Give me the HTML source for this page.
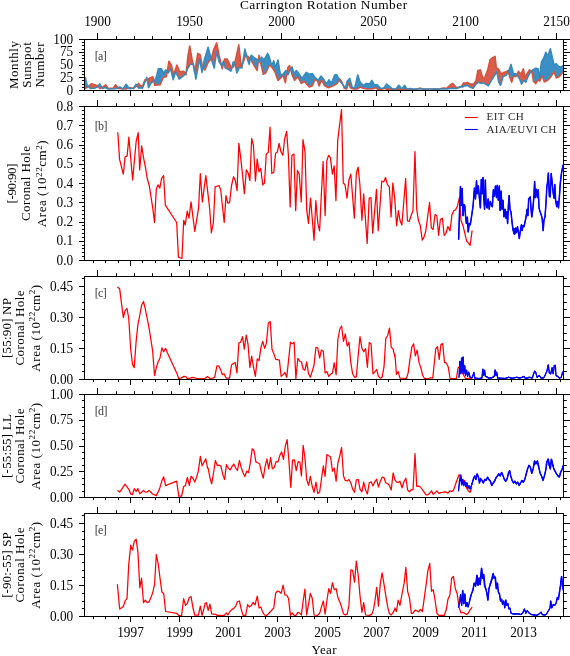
<!DOCTYPE html>
<html><head><meta charset="utf-8"><title>Coronal hole areas</title>
<style>html,body{margin:0;padding:0;background:#fff}svg{display:block;will-change:transform}text{font-family:"Liberation Serif",serif}</style>
</head><body>
<svg width="570" height="656" viewBox="0 0 570 656">
<rect width="570" height="656" fill="#fff"/>
<defs>
<clipPath id="cpa"><rect x="84.5" y="39.5" width="479.0" height="51.0"/></clipPath>
<clipPath id="cpb"><rect x="84.5" y="106.5" width="479.0" height="154.0"/></clipPath>
<clipPath id="cpc"><rect x="84.5" y="276.5" width="479.0" height="103.0"/></clipPath>
<clipPath id="cpd"><rect x="84.5" y="394.5" width="479.0" height="103.0"/></clipPath>
<clipPath id="cpe"><rect x="84.5" y="513.5" width="479.0" height="103.0"/></clipPath>
</defs>
<g clip-path="url(#cpa)">
<polygon points="88.50,86.4 88.75,86.1 89.00,85.9 89.25,85.7 89.50,85.5 89.75,85.2 90.00,85.0 90.25,84.8 90.50,84.6 90.75,84.3 91.00,84.1 91.25,83.9 91.50,83.8 91.75,83.9 92.00,84.0 92.25,84.1 92.50,84.2 92.75,84.2 93.00,84.3 93.25,84.4 93.50,84.5 93.75,84.6 94.00,84.7 94.25,84.8 94.50,84.8 94.75,84.9 95.00,84.9 95.25,85.0 95.50,85.0 95.75,85.1 96.00,85.1 96.25,85.2 96.50,85.2 96.75,85.3 97.00,85.3 97.25,85.5 97.50,85.8 97.75,86.1 98.00,86.4 98.00,86.5 97.75,86.8 97.50,87.0 97.25,87.1 97.00,87.2 96.75,87.4 96.50,87.5 96.25,87.6 96.00,87.7 95.75,87.8 95.50,87.9 95.25,88.0 95.00,88.1 94.75,88.2 94.50,88.3 94.25,88.3 94.00,88.3 93.75,88.4 93.50,88.4 93.25,88.4 93.00,88.4 92.75,88.4 92.50,88.4 92.25,88.4 92.00,88.4 91.75,88.5 91.50,88.5 91.25,88.5 91.00,88.5 90.75,88.5 90.50,88.5 90.25,88.5 90.00,88.2 89.75,88.0 89.50,87.7 89.25,87.5 89.00,87.2 88.75,87.0 88.50,86.7" fill="#db5c49"/>
<polygon points="102.00,87.5 102.25,87.3 102.50,87.2 102.75,87.0 103.00,86.8 103.25,86.6 103.50,86.4 103.75,86.2 104.00,86.1 104.25,85.9 104.50,85.7 104.75,85.5 105.00,85.3 105.25,85.1 105.50,84.9 105.75,85.1 106.00,85.4 106.25,85.8 106.50,86.1 106.75,86.5 107.00,86.8 107.25,87.2 107.50,87.5 107.75,87.9 108.00,88.2 108.25,88.5 108.50,88.5 108.75,88.5 109.00,88.4 109.25,88.4 109.50,88.4 109.75,88.4 110.00,88.3 110.25,88.3 110.50,88.3 110.75,88.3 111.00,88.2 111.25,88.2 111.50,88.2 111.75,88.2 112.00,88.1 112.25,88.1 112.50,88.1 112.75,88.1 113.00,88.0 113.25,88.0 113.50,88.0 113.75,87.6 114.00,87.2 114.25,86.8 114.50,86.5 114.75,86.1 115.00,85.7 115.25,85.3 115.50,85.0 115.75,85.1 116.00,85.4 116.25,85.8 116.50,86.1 116.75,86.5 117.00,86.8 117.25,87.2 117.50,87.5 117.50,87.9 117.25,88.0 117.00,88.1 116.75,88.2 116.50,88.3 116.25,88.5 116.00,88.6 115.75,88.7 115.50,88.7 115.25,88.7 115.00,88.8 114.75,88.8 114.50,88.8 114.25,88.8 114.00,88.8 113.75,88.8 113.50,88.8 113.25,88.8 113.00,88.8 112.75,88.8 112.50,88.8 112.25,88.9 112.00,88.9 111.75,88.9 111.50,88.9 111.25,88.9 111.00,88.9 110.75,88.9 110.50,88.9 110.25,88.9 110.00,88.9 109.75,88.9 109.50,89.0 109.25,89.0 109.00,89.0 108.75,89.0 108.50,89.0 108.25,89.0 108.00,88.9 107.75,88.8 107.50,88.7 107.25,88.5 107.00,88.4 106.75,88.3 106.50,88.2 106.25,88.1 106.00,87.9 105.75,87.8 105.50,87.7 105.25,87.6 105.00,87.5 104.75,87.6 104.50,87.7 104.25,87.8 104.00,87.9 103.75,88.0 103.50,88.1 103.25,88.2 103.00,88.3 102.75,88.4 102.50,88.5 102.25,88.2 102.00,87.8" fill="#db5c49"/>
<polygon points="122.75,88.8 123.00,88.8 123.00,88.9 122.75,88.9" fill="#db5c49"/>
<polygon points="128.75,87.7 129.00,87.6 129.25,87.5 129.50,87.5 129.75,87.6 130.00,87.7 130.25,87.7 130.50,87.8 130.75,87.8 131.00,87.9 131.25,88.0 131.50,88.0 131.75,88.1 132.00,88.2 132.25,88.2 132.50,88.3 132.75,88.3 132.75,88.4 132.50,88.4 132.25,88.4 132.00,88.5 131.75,88.5 131.50,88.5 131.25,88.5 131.00,88.6 130.75,88.6 130.50,88.6 130.25,88.6 130.00,88.7 129.75,88.7 129.50,88.7 129.25,88.7 129.00,88.4 128.75,88.0" fill="#db5c49"/>
<polygon points="137.00,85.4 137.25,85.1 137.50,84.8 137.75,84.5 138.00,84.2 138.25,83.9 138.50,83.6 138.75,83.3 139.00,83.7 139.25,84.1 139.50,84.5 139.75,84.9 140.00,85.3 140.25,85.4 140.50,85.5 140.75,85.7 141.00,85.8 141.25,85.9 141.50,86.0 141.75,86.2 142.00,86.3 142.25,86.4 142.50,86.4 142.75,85.7 143.00,85.0 143.25,84.3 143.50,83.6 143.75,82.9 144.00,82.3 144.25,81.6 144.50,80.9 144.75,80.2 145.00,79.8 145.25,79.8 145.50,79.8 145.75,79.8 145.75,80.0 145.50,80.6 145.25,81.3 145.00,82.0 144.75,82.6 144.50,83.2 144.25,83.9 144.00,84.5 143.75,85.1 143.50,85.7 143.25,86.4 143.00,87.0 142.75,87.6 142.50,88.2 142.25,88.3 142.00,88.2 141.75,88.2 141.50,88.1 141.25,88.0 141.00,88.0 140.75,87.9 140.50,87.9 140.25,87.8 140.00,87.7 139.75,87.9 139.50,88.0 139.25,88.1 139.00,88.2 138.75,88.3 138.50,88.0 138.25,87.6 138.00,87.2 137.75,86.8 137.50,86.4 137.25,86.1 137.00,85.7" fill="#db5c49"/>
<polygon points="147.25,79.5 147.50,79.3 147.75,79.2 148.00,79.0 148.25,78.9 148.50,78.7 148.75,78.6 149.00,78.4 149.25,78.3 149.50,78.1 149.75,78.0 150.00,77.8 150.25,77.7 150.50,77.6 150.75,77.5 151.00,77.4 151.25,77.3 151.50,77.2 151.75,77.1 152.00,77.0 152.25,76.9 152.50,76.8 152.75,76.7 153.00,77.2 153.25,78.3 153.50,79.5 153.75,80.7 153.75,81.3 153.50,81.6 153.25,81.7 153.00,81.8 152.75,82.0 152.50,82.1 152.25,82.2 152.00,82.3 151.75,82.5 151.50,82.6 151.25,82.7 151.00,82.9 150.75,83.4 150.50,83.9 150.25,84.4 150.00,84.9 149.75,85.4 149.50,85.9 149.25,86.4 149.00,86.9 148.75,87.4 148.50,87.2 148.25,85.8 148.00,84.4 147.75,82.9 147.50,81.5 147.25,80.1" fill="#db5c49"/>
<polygon points="167.25,71.4 167.50,69.8 167.75,68.3 168.00,66.7 168.25,65.1 168.50,63.6 168.75,62.0 169.00,61.5 169.25,61.9 169.50,62.3 169.75,62.7 170.00,63.0 170.25,63.4 170.50,63.8 170.75,64.2 171.00,64.5 171.25,64.9 171.50,65.8 171.75,66.8 172.00,67.8 172.25,68.8 172.50,69.8 172.75,70.8 173.00,71.8 173.25,72.8 173.50,73.8 173.75,74.8 174.00,74.1 174.25,73.3 174.50,72.5 174.75,71.7 175.00,70.9 175.25,70.1 175.50,69.3 175.75,68.5 176.00,67.7 176.25,66.9 176.50,66.1 176.75,65.3 177.00,65.4 177.25,65.9 177.50,66.5 177.75,67.0 178.00,67.6 178.25,68.1 178.50,68.7 178.75,69.2 179.00,69.8 179.25,70.3 179.50,70.9 179.75,71.4 180.00,71.8 180.25,71.7 180.50,71.7 180.75,71.6 181.00,71.6 181.25,71.5 181.50,71.5 181.75,71.5 182.00,71.4 182.25,71.4 182.50,71.3 182.75,71.3 183.00,71.3 183.25,71.2 183.50,71.2 183.75,71.4 184.00,71.8 184.25,72.1 184.50,72.5 184.75,72.9 185.00,73.3 185.25,73.6 185.25,73.8 185.00,74.1 184.75,74.3 184.50,74.6 184.25,74.8 184.00,75.1 183.75,75.3 183.50,75.6 183.25,75.8 183.00,76.1 182.75,76.3 182.50,76.5 182.25,76.7 182.00,76.9 181.75,77.1 181.50,77.3 181.25,77.5 181.00,77.7 180.75,77.9 180.50,78.1 180.25,78.3 180.00,78.6 179.75,78.8 179.50,79.0 179.25,79.0 179.00,78.5 178.75,78.0 178.50,77.5 178.25,77.0 178.00,76.5 177.75,76.0 177.50,75.5 177.25,75.0 177.00,74.5 176.75,74.0 176.50,73.5 176.25,73.0 176.00,72.5 175.75,72.0 175.50,72.1 175.25,73.0 175.00,73.8 174.75,74.6 174.50,75.4 174.25,76.2 174.00,77.0 173.75,77.8 173.50,78.6 173.25,79.5 173.00,79.0 172.75,77.9 172.50,76.8 172.25,75.7 172.00,74.5 171.75,73.4 171.50,72.3 171.25,71.2 171.00,70.0 170.75,68.9 170.50,69.1 170.25,69.5 170.00,69.9 169.75,70.4 169.50,70.8 169.25,71.2 169.00,71.7 168.75,72.1 168.50,72.6 168.25,73.0 168.00,72.7 167.75,72.4 167.50,72.1 167.25,71.8" fill="#db5c49"/>
<polygon points="186.50,70.4 186.75,67.9 187.00,65.4 187.25,62.9 187.50,60.4 187.75,57.9 188.00,55.8 188.25,54.4 188.50,53.0 188.75,51.6 189.00,50.2 189.25,48.7 189.50,47.3 189.75,46.1 190.00,47.5 190.25,48.9 190.50,50.4 190.75,51.8 191.00,53.3 191.25,54.7 191.50,56.1 191.75,57.6 192.00,59.0 192.25,60.4 192.50,61.6 192.75,62.9 192.75,63.9 192.50,64.0 192.25,64.0 192.00,64.1 191.75,64.1 191.50,64.2 191.25,64.2 191.00,64.3 190.75,64.3 190.50,64.4 190.25,64.6 190.00,64.9 189.75,65.3 189.50,65.7 189.25,66.1 189.00,66.4 188.75,66.8 188.50,67.2 188.25,67.6 188.00,67.9 187.75,68.4 187.50,69.0 187.25,69.5 187.00,70.1 186.75,70.7 186.50,71.2" fill="#db5c49"/>
<polygon points="194.75,71.8 195.00,70.2 195.25,68.7 195.50,67.1 195.75,65.6 196.00,64.0 196.25,62.5 196.50,60.9 196.75,59.4 197.00,57.8 197.25,56.3 197.50,54.7 197.75,53.4 198.00,53.5 198.25,53.6 198.50,53.7 198.75,53.9 199.00,54.0 199.25,54.1 199.50,54.2 199.75,54.4 200.00,54.5 200.25,55.0 200.50,56.3 200.75,57.6 201.00,58.9 201.25,60.2 201.50,61.5 201.75,62.9 202.00,64.2 202.25,65.5 202.50,66.8 202.75,67.6 202.75,68.4 202.50,69.7 202.25,71.1 202.00,72.3 201.75,70.9 201.50,69.5 201.25,68.2 201.00,66.8 200.75,65.4 200.50,64.0 200.25,62.7 200.00,61.3 199.75,59.9 199.50,59.2 199.25,60.6 199.00,62.0 198.75,63.3 198.50,64.7 198.25,66.1 198.00,67.5 197.75,68.8 197.50,70.2 197.25,71.6 197.00,73.0 196.75,74.3 196.50,75.7 196.25,77.1 196.00,78.5 195.75,78.4 195.50,76.8 195.25,75.2 195.00,73.7 194.75,72.1" fill="#db5c49"/>
<polygon points="211.25,58.5 211.50,57.5 211.75,56.6 212.00,55.7 212.25,54.7 212.50,53.8 212.75,52.8 213.00,51.9 213.25,51.0 213.50,50.0 213.75,49.3 214.00,48.8 214.25,48.2 214.50,47.7 214.75,47.1 215.00,46.6 215.25,46.0 215.50,45.5 215.75,44.9 216.00,44.4 216.25,43.8 216.50,43.3 216.75,43.3 217.00,44.6 217.25,45.8 217.50,47.1 217.75,48.3 218.00,49.6 218.25,50.8 218.50,52.1 218.75,53.3 219.00,54.6 219.25,55.8 219.50,56.9 219.75,58.0 220.00,59.1 220.25,60.2 220.50,61.3 220.75,62.4 221.00,63.5 221.25,64.6 221.25,65.1 221.00,64.8 220.75,64.4 220.50,64.0 220.25,63.6 220.00,63.3 219.75,62.9 219.50,62.5 219.25,62.1 219.00,61.4 218.75,60.4 218.50,59.3 218.25,58.2 218.00,57.2 217.75,56.1 217.50,55.1 217.25,54.0 217.00,52.9 216.75,51.9 216.50,52.6 216.25,54.3 216.00,56.0 215.75,57.7 215.50,59.4 215.25,61.1 215.00,62.8 214.75,64.4 214.50,66.1 214.25,67.8 214.00,67.4 213.75,66.6 213.50,65.8 213.25,65.0 213.00,64.3 212.75,63.5 212.50,62.7 212.25,61.9 212.00,61.1 211.75,60.3 211.50,59.5 211.25,58.7" fill="#db5c49"/>
<polygon points="223.75,62.5 224.00,61.5 224.25,60.5 224.50,59.5 224.75,58.9 225.00,58.9 225.25,58.9 225.50,58.9 225.75,58.9 226.00,58.9 226.25,58.9 226.50,58.9 226.75,58.9 227.00,58.9 227.25,59.2 227.50,59.7 227.75,60.2 228.00,60.7 228.25,61.2 228.50,61.7 228.75,62.2 229.00,62.7 229.25,63.2 229.50,63.7 229.75,64.3 230.00,65.0 230.25,65.6 230.50,66.3 230.75,67.0 231.00,67.6 231.25,68.3 231.25,69.4 231.00,70.4 230.75,71.1 230.50,70.9 230.25,70.8 230.00,70.6 229.75,70.4 229.50,70.2 229.25,70.0 229.00,69.8 228.75,69.6 228.50,69.4 228.25,69.3 228.00,69.2 227.75,69.1 227.50,69.0 227.25,68.9 227.00,68.8 226.75,68.7 226.50,68.6 226.25,68.5 226.00,68.4 225.75,68.3 225.50,68.2 225.25,68.0 225.00,67.1 224.75,66.2 224.50,65.3 224.25,64.4 224.00,63.5 223.75,62.5" fill="#db5c49"/>
<polygon points="234.75,62.7 235.00,61.7 235.25,60.7 235.50,59.7 235.75,58.7 236.00,57.5 236.25,56.4 236.50,55.2 236.75,54.1 237.00,52.9 237.25,51.8 237.50,50.6 237.75,49.5 238.00,48.3 238.25,47.2 238.50,46.0 238.75,44.9 239.00,46.8 239.25,48.9 239.50,51.1 239.75,53.3 240.00,55.5 240.25,57.7 240.50,59.9 240.75,62.1 241.00,64.3 241.25,66.2 241.50,65.7 241.75,65.2 242.00,64.7 242.25,64.2 242.50,63.7 242.50,64.0 242.25,65.6 242.00,67.1 241.75,68.1 241.50,68.0 241.25,67.9 241.00,67.9 240.75,67.8 240.50,67.8 240.25,67.7 240.00,67.6 239.75,67.6 239.50,67.5 239.25,67.8 239.00,68.3 238.75,68.9 238.50,69.5 238.25,70.0 238.00,70.6 237.75,71.2 237.50,71.7 237.25,72.3 237.00,72.8 236.75,72.1 236.50,70.9 236.25,69.6 236.00,68.4 235.75,67.1 235.50,65.9 235.25,64.6 235.00,63.7 234.75,63.5" fill="#db5c49"/>
<polygon points="246.75,55.8 247.00,55.9 247.25,56.1 247.50,56.2 247.75,56.3 248.00,56.4 248.25,56.7 248.50,56.9 248.75,57.2 249.00,57.4 249.25,57.7 249.50,57.9 249.75,58.2 250.00,58.4 250.25,58.7 250.25,59.2 250.00,60.5 249.75,61.7 249.50,63.0 249.25,64.2 249.00,63.8 248.75,63.0 248.50,62.3 248.25,61.5 248.00,60.8 247.75,60.0 247.50,59.3 247.25,58.4 247.00,57.4 246.75,56.4" fill="#db5c49"/>
<polygon points="258.50,59.6 258.75,57.6 259.00,55.5 259.25,56.2 259.50,57.4 259.75,58.5 260.00,59.7 260.00,61.0 259.75,61.7 259.50,61.8 259.25,61.5 259.00,61.3 258.75,61.0 258.50,60.8" fill="#db5c49"/>
<polygon points="287.00,72.5 287.25,71.0 287.50,69.4 287.75,67.8 288.00,67.3 288.25,67.0 288.50,66.8 288.75,66.5 289.00,66.3 289.25,66.0 289.50,65.8 289.75,66.0 290.00,66.9 290.25,67.9 290.50,68.8 290.50,69.5 290.25,70.0 290.00,70.5 289.75,71.0 289.50,71.5 289.25,72.0 289.00,72.5 288.75,73.0 288.50,73.5 288.25,74.0 288.00,74.5 287.75,74.7 287.50,74.1 287.25,73.5 287.00,73.0" fill="#db5c49"/>
<polygon points="339.00,79.3 339.25,78.7 339.50,78.8 339.75,79.1 340.00,79.4 340.25,79.7 340.50,80.0 340.75,80.3 341.00,80.7 341.25,81.0 341.50,81.3 341.75,81.6 342.00,82.3 342.25,83.0 342.50,83.6 342.75,84.3 342.75,84.6 342.50,84.2 342.25,83.9 342.00,83.6 341.75,83.3 341.50,83.0 341.25,82.7 341.00,82.4 340.75,82.1 340.50,81.8 340.25,81.5 340.00,81.2 339.75,80.9 339.50,80.6 339.25,80.3 339.00,79.7" fill="#db5c49"/>
<polygon points="417.25,88.9 417.50,88.9 417.75,88.8 418.00,88.7 418.25,88.7 418.50,88.6 418.75,88.5 419.00,88.5 419.25,88.4 419.50,88.3 419.75,88.2 420.00,88.2 420.25,88.1 420.50,88.2 420.75,88.3 421.00,88.4 421.25,88.5 421.50,88.6 421.75,88.7 422.00,88.8 422.25,88.9 422.50,89.0 422.50,89.0 422.25,89.0 422.00,89.0 421.75,89.0 421.50,89.0 421.25,89.0 421.00,89.0 420.75,89.0 420.50,89.0 420.25,89.0 420.00,89.0 419.75,89.0 419.50,89.0 419.25,89.0 419.00,89.0 418.75,89.0 418.50,89.0 418.25,89.0 418.00,89.0 417.75,89.0 417.50,89.0 417.25,89.0" fill="#db5c49"/>
<polygon points="440.25,89.0 440.50,88.9 440.75,88.8 441.00,88.7 441.25,88.7 441.50,88.6 441.75,88.5 442.00,88.4 442.25,88.3 442.50,88.3 442.75,88.2 443.00,88.1 443.25,88.1 443.50,88.1 443.75,88.2 444.00,88.2 444.25,88.2 444.50,88.2 444.75,88.2 445.00,88.2 445.25,88.3 445.50,88.3 445.75,88.3 446.00,88.3 446.25,88.3 446.50,88.3 446.75,88.3 447.00,88.0 447.25,87.8 447.50,87.5 447.75,87.3 448.00,87.0 448.25,86.8 448.50,86.5 448.75,86.3 449.00,86.0 449.25,85.8 449.50,85.5 449.75,85.3 450.00,85.0 450.25,84.8 450.50,84.6 450.75,84.5 451.00,84.3 451.25,84.2 451.50,84.1 451.75,84.0 452.00,83.8 452.25,83.7 452.50,83.6 452.75,83.5 453.00,83.7 453.25,84.0 453.50,84.3 453.75,84.6 454.00,84.9 454.25,85.2 454.50,85.5 454.75,85.8 455.00,86.1 455.25,86.4 455.50,86.7 455.75,87.0 456.00,87.1 456.25,87.2 456.50,87.2 456.75,87.3 457.00,87.3 457.25,87.4 457.50,87.4 457.75,87.5 458.00,87.5 458.25,87.6 458.25,87.6 458.00,87.7 457.75,87.9 457.50,88.0 457.25,88.2 457.00,88.3 456.75,88.4 456.50,88.6 456.25,88.6 456.00,88.6 455.75,88.6 455.50,88.5 455.25,88.5 455.00,88.5 454.75,88.5 454.50,88.5 454.25,88.5 454.00,88.5 453.75,88.5 453.50,88.4 453.25,88.4 453.00,88.4 452.75,88.4 452.50,88.4 452.25,88.4 452.00,88.4 451.75,88.4 451.50,88.4 451.25,88.4 451.00,88.4 450.75,88.5 450.50,88.5 450.25,88.5 450.00,88.6 449.75,88.6 449.50,88.6 449.25,88.7 449.00,88.7 448.75,88.7 448.50,88.8 448.25,88.8 448.00,88.8 447.75,88.9 447.50,88.9 447.25,88.9 447.00,89.0 446.75,89.0 446.50,89.0 446.25,89.0 446.00,89.0 445.75,89.0 445.50,89.0 445.25,89.0 445.00,89.0 444.75,89.0 444.50,89.0 444.25,89.0 444.00,89.0 443.75,89.0 443.50,89.0 443.25,89.0 443.00,89.0 442.75,89.0 442.50,89.0 442.25,89.0 442.00,89.0 441.75,89.0 441.50,89.0 441.25,89.0 441.00,89.0 440.75,89.0 440.50,89.0 440.25,89.0" fill="#db5c49"/>
<polygon points="461.00,86.7 461.25,86.6 461.50,86.4 461.75,86.0 462.00,85.6 462.25,85.2 462.50,84.9 462.75,84.5 463.00,84.1 463.25,83.7 463.50,83.4 463.75,83.0 464.00,82.9 464.25,83.0 464.50,83.2 464.75,83.3 465.00,83.4 465.25,83.3 465.50,83.2 465.75,83.1 466.00,83.0 466.25,82.9 466.50,82.8 466.75,82.7 467.00,82.6 467.25,82.5 467.50,82.5 467.75,82.6 468.00,82.8 468.25,83.0 468.50,83.1 468.75,83.3 469.00,83.5 469.25,83.6 469.50,83.8 469.75,83.9 470.00,84.1 470.25,84.1 470.50,84.1 470.75,84.1 471.00,84.1 471.25,84.1 471.50,84.1 471.75,84.1 472.00,84.1 472.25,84.1 472.50,84.1 472.75,84.1 473.00,84.1 473.25,84.1 473.50,84.1 473.75,83.8 474.00,83.4 474.25,83.1 474.50,82.7 474.75,82.3 475.00,81.9 475.25,81.6 475.50,81.2 475.75,80.8 476.00,80.4 476.25,79.3 476.50,78.0 476.75,76.6 477.00,75.3 477.25,74.0 477.50,72.6 477.75,71.3 478.00,70.5 478.25,70.5 478.50,70.4 478.75,70.3 479.00,70.3 479.25,70.2 479.50,70.1 479.75,70.1 480.00,70.0 480.25,70.0 480.50,70.4 480.75,71.2 481.00,72.0 481.25,72.9 481.50,73.7 481.75,74.5 482.00,75.3 482.25,76.1 482.50,76.9 482.75,77.7 483.00,77.9 483.25,77.9 483.50,77.9 483.75,77.9 484.00,77.9 484.25,77.9 484.50,77.9 484.75,77.6 485.00,77.0 485.25,76.3 485.50,75.7 485.75,75.0 486.00,74.4 486.25,73.7 486.50,73.1 486.75,72.4 487.00,71.8 487.25,71.1 487.50,70.5 487.75,69.8 488.00,68.7 488.25,67.7 488.50,66.6 488.75,65.5 489.00,64.5 489.25,63.4 489.50,62.4 489.75,61.3 490.00,60.2 490.25,59.4 490.50,59.2 490.75,59.1 491.00,58.9 491.25,58.7 491.50,58.5 491.75,58.3 492.00,58.1 492.25,57.9 492.50,57.7 492.75,57.6 493.00,57.5 493.25,57.3 493.50,57.2 493.75,57.1 494.00,57.0 494.25,56.8 494.50,56.7 494.75,56.6 495.00,56.5 495.25,58.0 495.50,60.3 495.75,62.7 496.00,65.1 496.25,67.5 496.50,68.1 496.75,68.2 497.00,68.3 497.25,68.4 497.50,68.5 497.75,68.6 498.00,68.6 498.25,68.9 498.50,69.3 498.75,69.7 499.00,70.1 499.25,70.5 499.50,70.9 499.75,71.4 500.00,71.8 500.25,72.1 500.50,72.4 500.75,72.8 501.00,73.1 501.25,73.4 501.50,73.8 501.75,74.1 502.00,74.1 502.25,73.8 502.50,73.6 502.75,73.3 503.00,73.1 503.25,72.8 503.50,72.6 503.75,72.4 504.00,72.3 504.25,72.2 504.50,72.2 504.75,72.1 505.00,72.1 505.25,72.0 505.50,71.9 505.75,71.9 506.00,71.8 506.25,71.7 506.50,71.5 506.75,71.4 507.00,71.2 507.25,71.0 507.50,70.9 507.75,70.7 508.00,70.6 508.00,72.0 507.75,72.6 507.50,73.2 507.25,73.7 507.00,74.3 506.75,74.8 506.50,75.0 506.25,75.1 506.00,75.2 505.75,75.3 505.50,75.5 505.25,75.6 505.00,75.7 504.75,75.8 504.50,76.0 504.25,76.1 504.00,76.2 503.75,76.3 503.50,76.5 503.25,76.6 503.00,76.9 502.75,77.8 502.50,78.7 502.25,79.6 502.00,80.4 501.75,81.3 501.50,82.2 501.25,83.1 501.00,83.9 500.75,84.8 500.50,85.1 500.25,84.7 500.00,84.3 499.75,83.8 499.50,83.4 499.25,83.0 499.00,82.6 498.75,82.1 498.50,80.7 498.25,79.3 498.00,77.8 497.75,76.4 497.50,75.0 497.25,73.6 497.00,72.2 496.75,72.0 496.50,72.4 496.25,72.8 496.00,73.2 495.75,73.5 495.50,73.9 495.25,74.3 495.00,74.7 494.75,75.0 494.50,75.4 494.25,75.8 494.00,76.2 493.75,76.6 493.50,77.0 493.25,77.4 493.00,77.8 492.75,78.2 492.50,78.6 492.25,79.0 492.00,79.4 491.75,79.8 491.50,80.2 491.25,80.6 491.00,81.1 490.75,81.5 490.50,82.0 490.25,82.4 490.00,82.9 489.75,83.3 489.50,83.8 489.25,84.2 489.00,84.7 488.75,85.1 488.50,85.6 488.25,85.8 488.00,85.7 487.75,85.5 487.50,85.4 487.25,85.2 487.00,85.1 486.75,84.9 486.50,84.7 486.25,84.6 486.00,84.4 485.75,84.3 485.50,84.1 485.25,84.0 485.00,83.8 484.75,83.7 484.50,83.5 484.25,83.3 484.00,83.2 483.75,83.0 483.50,82.9 483.25,82.9 483.00,82.9 482.75,83.0 482.50,83.1 482.25,83.1 482.00,83.2 481.75,83.2 481.50,83.3 481.25,83.4 481.00,83.4 480.75,83.3 480.50,83.2 480.25,83.1 480.00,83.0 479.75,82.8 479.50,82.7 479.25,82.6 479.00,82.5 478.75,82.3 478.50,82.2 478.25,82.4 478.00,82.6 477.75,82.8 477.50,83.0 477.25,83.2 477.00,83.3 476.75,83.5 476.50,83.7 476.25,83.9 476.00,84.1 475.75,84.5 475.50,84.8 475.25,85.2 475.00,85.5 474.75,85.9 474.50,86.2 474.25,86.6 474.00,86.9 473.75,87.3 473.50,87.6 473.25,88.0 473.00,88.3 472.75,88.3 472.50,88.2 472.25,88.1 472.00,88.0 471.75,87.9 471.50,87.8 471.25,87.7 471.00,87.6 470.75,87.5 470.50,87.4 470.25,87.3 470.00,87.2 469.75,87.0 469.50,86.8 469.25,86.6 469.00,86.4 468.75,86.3 468.50,86.1 468.25,85.9 468.00,85.7 467.75,85.5 467.50,85.3 467.25,85.3 467.00,85.4 466.75,85.5 466.50,85.5 466.25,85.6 466.00,85.6 465.75,85.7 465.50,85.8 465.25,85.8 465.00,85.9 464.75,85.6 464.50,85.3 464.25,85.5 464.00,85.8 463.75,86.0 463.50,86.3 463.25,86.5 463.00,86.8 462.75,87.0 462.50,87.1 462.25,87.0 462.00,87.0 461.75,86.9 461.50,86.8 461.25,86.8 461.00,86.7" fill="#db5c49"/>
<polygon points="516.75,74.9 517.00,74.4 517.25,73.8 517.50,73.2 517.75,72.7 518.00,72.1 518.25,71.5 518.50,71.3 518.75,71.6 519.00,71.9 519.25,72.2 519.50,72.5 519.75,72.8 520.00,73.1 520.25,73.4 520.50,73.8 520.75,74.1 521.00,73.9 521.25,73.4 521.50,72.8 521.75,72.3 522.00,71.7 522.25,71.1 522.50,70.6 522.75,70.0 523.00,69.4 523.25,68.9 523.50,69.5 523.75,70.8 524.00,72.0 524.25,73.3 524.50,74.5 524.75,75.8 525.00,77.0 525.25,77.7 525.50,77.2 525.75,76.6 526.00,76.0 526.25,75.4 526.50,74.8 526.75,74.2 527.00,73.7 527.25,73.3 527.50,72.9 527.75,72.5 528.00,72.1 528.25,71.8 528.50,71.4 528.75,71.0 529.00,70.6 529.25,70.3 529.50,69.9 529.75,70.1 530.00,70.3 530.25,70.5 530.50,70.7 530.75,70.9 531.00,71.1 531.25,71.3 531.25,71.5 531.00,71.8 530.75,72.2 530.50,72.5 530.25,72.9 530.00,73.2 529.75,73.6 529.50,73.9 529.25,74.3 529.00,74.6 528.75,75.1 528.50,75.7 528.25,76.3 528.00,76.9 527.75,77.5 527.50,78.1 527.25,78.7 527.00,79.3 526.75,79.9 526.50,80.5 526.25,81.1 526.00,81.7 525.75,82.2 525.50,81.9 525.25,81.7 525.00,81.4 524.75,81.2 524.50,80.9 524.25,80.7 524.00,80.4 523.75,80.7 523.50,81.0 523.25,81.4 523.00,81.8 522.75,82.2 522.50,82.5 522.25,82.9 522.00,83.3 521.75,83.7 521.50,84.0 521.25,83.4 521.00,82.7 520.75,82.1 520.50,81.4 520.25,80.7 520.00,80.1 519.75,79.4 519.50,78.9 519.25,78.5 519.00,78.1 518.75,77.6 518.50,77.2 518.25,76.8 518.00,76.4 517.75,76.0 517.50,75.8 517.25,75.5 517.00,75.3 516.75,75.0" fill="#db5c49"/>
<polygon points="84.50,77.5 84.75,77.5 85.00,77.5 85.25,77.5 85.50,78.5 85.75,79.5 86.00,80.5 86.25,81.6 86.50,82.6 86.75,83.7 87.00,84.7 87.25,85.5 87.50,85.7 87.75,86.0 88.00,86.2 88.25,86.5 88.25,86.6 88.00,86.8 87.75,86.9 87.50,87.1 87.25,87.2 87.00,87.4 86.75,87.6 86.50,87.7 86.25,87.9 86.00,88.1 85.75,88.2 85.50,88.4 85.25,88.5 85.00,88.6 84.75,88.7 84.50,88.7" fill="#3c8fc4"/>
<polygon points="98.25,86.1 98.50,85.7 98.75,85.3 99.00,85.0 99.25,84.6 99.50,84.2 99.75,83.8 100.00,84.2 100.25,84.6 100.50,85.1 100.75,85.5 101.00,86.0 101.25,86.4 101.50,86.9 101.75,87.3 101.75,87.6 101.50,87.7 101.25,87.8 101.00,87.9 100.75,88.1 100.50,88.2 100.25,88.3 100.00,88.4 99.75,88.5 99.50,88.2 99.25,87.9 99.00,87.6 98.75,87.3 98.50,87.0 98.25,86.7" fill="#3c8fc4"/>
<polygon points="117.75,87.8 118.00,87.7 118.25,87.6 118.50,87.5 118.75,87.4 119.00,87.3 119.25,87.2 119.50,87.1 119.75,87.0 120.00,87.1 120.25,87.2 120.50,87.4 120.75,87.6 121.00,87.7 121.25,87.9 121.50,88.1 121.75,88.2 122.00,88.4 122.25,88.5 122.50,88.7 122.50,88.8 122.25,88.8 122.00,88.8 121.75,88.8 121.50,88.7 121.25,88.7 121.00,88.7 120.75,88.7 120.50,88.7 120.25,88.7 120.00,88.6 119.75,88.6 119.50,88.6 119.25,88.6 119.00,88.6 118.75,88.6 118.50,88.5 118.25,88.5 118.00,88.2 117.75,87.9" fill="#3c8fc4"/>
<polygon points="123.25,88.6 123.50,88.2 123.75,87.8 124.00,87.4 124.25,87.1 124.50,86.7 124.75,86.3 125.00,86.0 125.25,85.6 125.50,85.2 125.75,84.8 126.00,84.5 126.25,84.5 126.50,84.9 126.75,85.2 127.00,85.6 127.25,85.9 127.50,86.3 127.75,86.6 128.00,87.0 128.25,87.3 128.50,87.7 128.50,87.9 128.25,88.0 128.00,88.1 127.75,88.2 127.50,88.4 127.25,88.5 127.00,88.6 126.75,88.7 126.50,88.9 126.25,89.0 126.00,89.0 125.75,89.0 125.50,89.0 125.25,89.0 125.00,89.0 124.75,89.0 124.50,88.9 124.25,88.9 124.00,88.9 123.75,88.9 123.50,88.9 123.25,88.9" fill="#3c8fc4"/>
<polygon points="133.00,88.4 133.25,88.3 133.50,88.3 133.75,87.9 134.00,87.5 134.25,87.1 134.50,86.8 134.75,86.4 135.00,86.0 135.25,85.6 135.50,85.2 135.75,84.9 136.00,84.5 136.25,84.5 136.50,84.9 136.75,85.3 136.75,85.7 136.50,86.0 136.25,86.2 136.00,86.4 135.75,86.6 135.50,86.8 135.25,87.0 135.00,87.3 134.75,87.5 134.50,87.7 134.25,87.9 134.00,88.1 133.75,88.3 133.50,88.5 133.25,88.5 133.00,88.4" fill="#3c8fc4"/>
<polygon points="146.00,79.3 146.25,78.6 146.50,78.0 146.75,77.3 147.00,78.7 147.00,79.6 146.75,79.8 146.50,79.8 146.25,79.8 146.00,79.8" fill="#3c8fc4"/>
<polygon points="154.00,81.0 154.25,80.7 154.50,80.4 154.75,80.0 155.00,79.7 155.25,79.4 155.50,79.1 155.75,78.8 156.00,78.4 156.25,77.4 156.50,76.4 156.75,75.4 157.00,74.4 157.25,73.4 157.50,72.4 157.75,71.4 158.00,70.4 158.25,69.4 158.50,68.7 158.75,68.7 159.00,68.7 159.25,68.7 159.50,68.7 159.75,68.7 160.00,68.7 160.25,68.7 160.50,68.7 160.75,68.7 161.00,68.7 161.25,68.7 161.50,68.7 161.75,69.3 162.00,69.9 162.25,70.5 162.50,71.1 162.75,71.6 163.00,72.2 163.25,72.8 163.50,72.8 163.75,72.5 164.00,72.2 164.25,71.9 164.50,71.5 164.75,71.2 165.00,70.9 165.25,70.6 165.50,70.3 165.75,70.0 166.00,70.2 166.25,70.5 166.50,70.8 166.75,71.1 167.00,71.4 167.00,73.0 166.75,74.5 166.50,76.1 166.25,76.7 166.00,76.8 165.75,76.8 165.50,76.9 165.25,76.9 165.00,77.0 164.75,77.0 164.50,77.1 164.25,77.1 164.00,77.2 163.75,77.2 163.50,77.3 163.25,77.5 163.00,78.1 162.75,78.7 162.50,79.3 162.25,79.9 162.00,80.5 161.75,81.1 161.50,81.7 161.25,82.3 161.00,82.9 160.75,83.5 160.50,84.1 160.25,84.7 160.00,84.7 159.75,84.7 159.50,84.8 159.25,84.8 159.00,84.8 158.75,84.8 158.50,84.9 158.25,84.9 158.00,84.9 157.75,84.9 157.50,85.0 157.25,85.0 157.00,85.0 156.75,85.1 156.50,85.1 156.25,85.1 156.00,85.1 155.75,85.2 155.50,85.2 155.25,85.2 155.00,85.3 154.75,85.3 154.50,84.2 154.25,83.0 154.00,81.8" fill="#3c8fc4"/>
<polygon points="185.50,73.5 185.75,72.9 186.00,72.3 186.25,71.8 186.25,72.9 186.00,74.8 185.75,74.4 185.50,74.0" fill="#3c8fc4"/>
<polygon points="193.00,63.9 193.25,63.8 193.50,64.3 193.75,65.9 194.00,67.4 194.25,69.0 194.50,70.5 194.50,71.6 194.25,70.4 194.00,69.1 193.75,67.9 193.50,66.6 193.25,65.4 193.00,64.1" fill="#3c8fc4"/>
<polygon points="203.00,67.0 203.25,65.6 203.50,64.2 203.75,62.9 204.00,61.5 204.25,60.1 204.50,58.8 204.75,58.2 205.00,57.6 205.25,56.8 205.50,55.9 205.75,55.1 206.00,54.2 206.25,53.4 206.50,52.5 206.75,51.7 207.00,50.8 207.25,50.0 207.50,49.1 207.75,48.3 208.00,47.4 208.25,47.9 208.50,48.8 208.75,49.8 209.00,50.7 209.25,51.6 209.50,52.6 209.75,53.5 210.00,54.4 210.25,55.4 210.50,56.3 210.75,57.1 211.00,57.9 211.00,59.0 210.75,59.3 210.50,59.6 210.25,59.9 210.00,60.2 209.75,60.5 209.50,60.8 209.25,61.1 209.00,61.4 208.75,61.7 208.50,62.0 208.25,62.3 208.00,62.7 207.75,63.3 207.50,63.9 207.25,64.5 207.00,65.1 206.75,65.7 206.50,66.3 206.25,66.9 206.00,67.5 205.75,68.1 205.50,68.7 205.25,69.3 205.00,69.9 204.75,69.9 204.50,69.9 204.25,69.6 204.00,69.3 203.75,69.0 203.50,68.6 203.25,68.3 203.00,68.0" fill="#3c8fc4"/>
<polygon points="221.50,65.5 221.75,65.2 222.00,64.6 222.25,64.1 222.50,63.5 222.75,62.9 223.00,62.3 223.25,61.7 223.50,61.6 223.50,63.5 223.25,64.5 223.00,65.5 222.75,66.5 222.50,67.5 222.25,68.5 222.00,67.9 221.75,66.8 221.50,65.7" fill="#3c8fc4"/>
<polygon points="231.50,68.5 231.75,67.6 232.00,66.6 232.25,65.7 232.50,64.7 232.75,63.8 233.00,62.9 233.25,62.0 233.50,62.2 233.75,62.5 234.00,62.7 234.25,63.0 234.50,63.2 234.50,63.7 234.25,64.7 234.00,65.7 233.75,66.4 233.50,66.6 233.25,66.9 233.00,67.1 232.75,67.4 232.50,67.6 232.25,67.9 232.00,68.1 231.75,68.4 231.50,68.6" fill="#3c8fc4"/>
<polygon points="242.75,62.5 243.00,60.9 243.25,59.4 243.50,57.8 243.75,56.3 244.00,54.7 244.25,53.2 244.50,51.6 244.75,50.1 245.00,49.4 245.25,50.4 245.50,51.4 245.75,52.4 246.00,53.4 246.25,54.4 246.50,55.4 246.50,55.7 246.25,55.6 246.00,55.4 245.75,55.3 245.50,55.3 245.25,56.1 245.00,56.9 244.75,57.8 244.50,58.6 244.25,59.4 244.00,60.3 243.75,61.1 243.50,61.7 243.25,62.2 243.00,62.7 242.75,63.2" fill="#3c8fc4"/>
<polygon points="250.50,58.0 250.75,56.7 251.00,55.5 251.25,55.4 251.50,55.6 251.75,55.8 252.00,56.0 252.25,56.2 252.50,56.4 252.75,56.6 253.00,56.8 253.25,57.0 253.50,57.2 253.75,57.4 254.00,57.6 254.25,57.7 254.50,57.9 254.75,58.0 255.00,58.2 255.25,58.3 255.50,58.5 255.75,58.6 256.00,58.8 256.25,58.9 256.50,59.1 256.75,59.2 257.00,59.4 257.25,59.5 257.50,59.8 257.75,60.0 258.00,60.3 258.25,60.5 258.25,61.7 258.00,63.8 257.75,65.9 257.50,68.0 257.25,70.1 257.00,70.2 256.75,69.8 256.50,69.4 256.25,69.0 256.00,68.6 255.75,68.2 255.50,67.8 255.25,67.4 255.00,67.0 254.75,66.6 254.50,66.2 254.25,65.8 254.00,65.4 253.75,64.9 253.50,64.5 253.25,64.0 253.00,63.6 252.75,63.1 252.50,62.7 252.25,62.2 252.00,61.7 251.75,61.3 251.50,60.8 251.25,60.4 251.00,59.9 250.75,59.4 250.50,59.0" fill="#3c8fc4"/>
<polygon points="260.25,60.3 260.50,59.7 260.75,59.0 261.00,58.3 261.25,57.7 261.50,57.0 261.75,57.4 262.00,57.7 262.25,58.0 262.50,58.3 262.75,58.6 263.00,58.9 263.25,59.2 263.50,59.5 263.75,59.9 264.00,60.0 264.25,59.5 264.50,59.1 264.75,58.6 265.00,58.2 265.25,57.7 265.50,57.3 265.75,56.8 266.00,56.3 266.25,55.9 266.50,55.4 266.75,55.0 267.00,54.5 267.25,54.0 267.50,53.6 267.75,53.6 268.00,54.2 268.25,54.8 268.50,55.4 268.75,56.0 269.00,56.5 269.25,57.1 269.50,57.7 269.75,58.6 270.00,59.5 270.25,60.4 270.50,61.3 270.75,62.2 271.00,63.2 271.25,64.1 271.50,65.0 271.75,65.9 272.00,65.8 272.25,65.0 272.50,64.3 272.75,63.5 273.00,62.8 273.25,62.0 273.50,61.3 273.75,61.0 274.00,61.9 274.25,62.8 274.50,63.7 274.75,64.6 275.00,65.5 275.25,66.5 275.50,67.4 275.75,66.8 276.00,66.1 276.25,65.3 276.50,64.6 276.75,63.8 277.00,63.1 277.25,62.3 277.50,61.6 277.75,60.8 278.00,60.2 278.25,61.7 278.50,63.2 278.75,64.7 279.00,66.2 279.25,67.7 279.50,69.2 279.75,70.7 280.00,72.2 280.25,73.7 280.50,74.8 280.75,74.8 281.00,74.7 281.25,74.6 281.50,74.6 281.75,74.5 282.00,74.5 282.25,74.4 282.50,74.3 282.75,74.3 283.00,74.1 283.25,73.8 283.50,73.5 283.75,73.2 284.00,72.9 284.25,72.6 284.50,72.3 284.75,72.0 285.00,71.7 285.25,71.4 285.50,71.1 285.75,70.8 286.00,70.6 286.25,71.2 286.50,71.8 286.75,72.4 286.75,74.1 286.50,75.6 286.25,77.2 286.00,78.8 285.75,80.3 285.50,81.9 285.25,82.5 285.00,81.7 284.75,80.9 284.50,80.1 284.25,79.2 284.00,78.4 283.75,77.6 283.50,76.8 283.25,76.0 283.00,75.2 282.75,75.1 282.50,75.4 282.25,75.8 282.00,76.2 281.75,76.6 281.50,76.9 281.25,77.3 281.00,77.7 280.75,78.1 280.50,78.4 280.25,78.7 280.00,78.9 279.75,79.0 279.50,79.2 279.25,79.4 279.00,79.6 278.75,79.8 278.50,80.0 278.25,80.2 278.00,80.4 277.75,79.7 277.50,79.0 277.25,78.3 277.00,77.6 276.75,76.9 276.50,76.2 276.25,75.5 276.00,74.8 275.75,74.1 275.50,73.4 275.25,72.7 275.00,72.0 274.75,71.5 274.50,71.2 274.25,70.8 274.00,70.4 273.75,70.0 273.50,69.7 273.25,69.3 273.00,68.9 272.75,68.5 272.50,68.2 272.25,67.8 272.00,67.5 271.75,67.2 271.50,66.9 271.25,66.6 271.00,66.3 270.75,66.0 270.50,65.6 270.25,65.3 270.00,65.0 269.75,65.3 269.50,65.6 269.25,65.8 269.00,66.1 268.75,66.5 268.50,67.0 268.25,67.6 268.00,68.1 267.75,68.7 267.50,69.2 267.25,69.8 267.00,70.3 266.75,70.9 266.50,71.4 266.25,72.0 266.00,72.5 265.75,73.0 265.50,73.1 265.25,73.3 265.00,73.4 264.75,73.5 264.50,73.6 264.25,73.8 264.00,73.9 263.75,74.0 263.50,74.1 263.25,73.9 263.00,72.8 262.75,71.8 262.50,70.7 262.25,69.6 262.00,68.6 261.75,67.5 261.50,66.4 261.25,65.4 261.00,64.3 260.75,63.2 260.50,62.0 260.25,60.9" fill="#3c8fc4"/>
<polygon points="290.75,69.1 291.00,68.7 291.25,68.3 291.50,67.9 291.75,67.5 292.00,67.0 292.25,67.4 292.50,68.3 292.75,69.2 293.00,70.1 293.25,71.1 293.50,72.0 293.75,72.9 294.00,73.5 294.25,73.2 294.50,72.9 294.75,72.6 295.00,72.3 295.25,72.0 295.50,71.7 295.75,71.4 296.00,71.0 296.25,70.7 296.50,70.7 296.75,71.0 297.00,71.3 297.25,71.6 297.50,71.9 297.75,72.2 298.00,72.5 298.25,72.9 298.50,73.2 298.75,73.5 299.00,73.8 299.25,74.2 299.50,74.6 299.75,75.0 300.00,75.4 300.25,75.8 300.50,76.2 300.75,76.6 301.00,77.0 301.25,77.4 301.50,77.8 301.75,78.2 302.00,78.4 302.25,78.1 302.50,77.7 302.75,77.4 303.00,77.0 303.25,76.6 303.50,76.3 303.75,75.9 304.00,75.6 304.25,75.2 304.50,74.9 304.75,74.5 305.00,74.1 305.25,73.8 305.50,73.4 305.75,73.1 306.00,72.7 306.25,72.4 306.50,72.5 306.75,72.7 307.00,72.8 307.25,73.0 307.50,73.1 307.75,73.3 308.00,73.4 308.25,73.6 308.50,73.7 308.75,73.9 309.00,74.0 309.25,74.2 309.50,74.2 309.75,74.1 310.00,74.1 310.25,74.0 310.50,74.0 310.75,73.9 311.00,73.9 311.25,73.8 311.50,73.8 311.75,73.7 312.00,73.7 312.25,73.6 312.50,73.8 312.75,74.2 313.00,74.6 313.25,74.9 313.50,75.3 313.75,75.7 314.00,76.1 314.25,76.4 314.50,76.8 314.75,77.2 315.00,77.5 315.25,77.7 315.50,78.0 315.75,78.2 316.00,78.5 316.25,78.7 316.50,79.0 316.75,79.2 317.00,79.5 317.25,79.7 317.50,80.0 317.75,80.2 318.00,80.2 318.25,79.9 318.50,79.5 318.75,79.2 319.00,78.8 319.25,78.5 319.50,78.1 319.75,77.8 320.00,77.4 320.25,77.1 320.50,76.7 320.75,76.4 321.00,76.1 321.25,76.4 321.50,76.7 321.75,77.0 322.00,77.3 322.25,77.6 322.50,77.9 322.75,78.2 323.00,78.5 323.25,78.8 323.50,79.1 323.75,79.4 324.00,79.7 324.25,80.1 324.50,80.6 324.75,81.0 325.00,81.4 325.25,81.9 325.50,82.3 325.75,82.8 326.00,83.2 326.25,83.6 326.50,84.0 326.75,83.6 327.00,83.2 327.25,82.7 327.50,82.3 327.75,81.8 328.00,81.4 328.25,81.0 328.50,80.5 328.75,80.1 329.00,79.8 329.25,80.2 329.50,80.6 329.75,81.0 330.00,81.3 330.25,81.7 330.50,82.1 330.75,82.5 331.00,82.8 331.25,83.2 331.50,83.2 331.75,82.5 332.00,81.9 332.25,81.2 332.50,80.6 332.75,79.9 333.00,79.3 333.25,78.6 333.50,78.0 333.75,77.3 334.00,76.7 334.25,76.0 334.50,75.4 334.75,75.1 335.00,74.8 335.25,74.8 335.50,74.8 335.75,74.8 336.00,74.8 336.25,74.8 336.50,74.8 336.75,74.8 337.00,75.2 337.25,75.8 337.50,76.3 337.75,76.9 338.00,77.4 338.25,78.0 338.50,78.6 338.75,79.1 338.75,80.0 338.50,80.7 338.25,81.3 338.00,82.0 337.75,82.7 337.50,83.3 337.25,83.5 337.00,83.7 336.75,83.8 336.50,83.9 336.25,84.0 336.00,84.2 335.75,84.3 335.50,84.4 335.25,84.5 335.00,84.7 334.75,85.0 334.50,85.2 334.25,85.4 334.00,85.5 333.75,85.6 333.50,85.7 333.25,85.8 333.00,85.9 332.75,86.0 332.50,86.1 332.25,86.2 332.00,86.3 331.75,86.4 331.50,86.5 331.25,86.6 331.00,86.7 330.75,86.8 330.50,86.9 330.25,87.0 330.00,87.1 329.75,87.2 329.50,87.3 329.25,87.4 329.00,87.5 328.75,87.6 328.50,87.7 328.25,87.7 328.00,87.6 327.75,87.4 327.50,87.3 327.25,87.2 327.00,87.1 326.75,86.9 326.50,86.8 326.25,86.7 326.00,86.6 325.75,86.4 325.50,86.3 325.25,86.2 325.00,86.1 324.75,85.9 324.50,85.6 324.25,85.1 324.00,84.6 323.75,84.1 323.50,83.6 323.25,83.1 323.00,82.6 322.75,82.1 322.50,81.6 322.25,81.1 322.00,80.6 321.75,80.1 321.50,79.9 321.25,80.6 321.00,81.2 320.75,81.8 320.50,82.4 320.25,83.1 320.00,83.7 319.75,84.3 319.50,84.9 319.25,85.6 319.00,85.5 318.75,84.8 318.50,84.0 318.25,83.3 318.00,82.5 317.75,81.8 317.50,81.0 317.25,80.4 317.00,80.3 316.75,80.2 316.50,80.2 316.25,80.1 316.00,80.0 315.75,80.0 315.50,79.9 315.25,79.9 315.00,79.8 314.75,79.9 314.50,80.6 314.25,81.2 314.00,81.8 313.75,82.4 313.50,83.1 313.25,83.7 313.00,84.3 312.75,84.9 312.50,85.6 312.25,85.9 312.00,86.0 311.75,86.1 311.50,86.2 311.25,86.3 311.00,86.4 310.75,86.5 310.50,86.6 310.25,86.7 310.00,86.8 309.75,86.9 309.50,87.0 309.25,87.1 309.00,86.8 308.75,86.5 308.50,86.2 308.25,85.9 308.00,85.7 307.75,85.4 307.50,85.1 307.25,84.8 307.00,84.5 306.75,84.3 306.50,84.0 306.25,83.7 306.00,83.4 305.75,83.1 305.50,82.8 305.25,82.6 305.00,82.3 304.75,82.0 304.50,81.7 304.25,81.7 304.00,81.8 303.75,82.0 303.50,82.1 303.25,82.3 303.00,82.4 302.75,82.6 302.50,82.7 302.25,82.9 302.00,83.0 301.75,83.2 301.50,83.3 301.25,83.3 301.00,82.9 300.75,82.4 300.50,81.9 300.25,81.5 300.00,81.0 299.75,80.6 299.50,80.1 299.25,79.7 299.00,79.2 298.75,78.7 298.50,78.3 298.25,77.8 298.00,77.4 297.75,76.9 297.50,76.8 297.25,77.1 297.00,77.4 296.75,77.7 296.50,78.0 296.25,78.3 296.00,78.6 295.75,78.9 295.50,79.2 295.25,79.5 295.00,79.8 294.75,80.1 294.50,80.2 294.25,79.7 294.00,79.1 293.75,78.5 293.50,78.0 293.25,77.4 293.00,76.9 292.75,76.3 292.50,75.7 292.25,75.2 292.00,74.4 291.75,73.5 291.50,72.6 291.25,71.6 291.00,70.7 290.75,69.8" fill="#3c8fc4"/>
<polygon points="343.00,84.9 343.25,85.3 343.50,85.6 343.75,86.0 344.00,86.3 344.25,86.7 344.50,87.0 344.75,87.4 345.00,87.7 345.25,88.1 345.50,88.1 345.75,87.1 346.00,86.1 346.25,85.1 346.50,84.1 346.75,83.1 347.00,82.1 347.25,81.1 347.50,80.8 347.75,80.5 348.00,80.3 348.25,80.0 348.50,79.8 348.75,79.5 349.00,79.3 349.25,79.0 349.50,78.8 349.75,78.6 350.00,79.4 350.25,80.3 350.50,81.2 350.75,82.1 351.00,82.9 351.25,83.8 351.50,84.7 351.75,85.6 352.00,86.4 352.25,87.2 352.50,87.3 352.75,87.4 353.00,87.5 353.25,87.7 353.50,87.8 353.75,87.9 354.00,88.0 354.25,88.2 354.50,88.3 354.75,87.9 355.00,86.8 355.25,85.7 355.50,84.6 355.75,83.5 356.00,82.4 356.25,81.3 356.50,80.2 356.75,79.1 357.00,78.0 357.25,76.9 357.50,75.8 357.75,74.9 358.00,75.7 358.25,76.4 358.50,77.2 358.75,77.9 359.00,78.7 359.25,79.4 359.50,80.2 359.75,80.9 360.00,81.7 360.25,82.3 360.50,82.5 360.75,82.8 361.00,83.0 361.25,83.3 361.50,83.5 361.75,83.8 362.00,84.0 362.25,84.3 362.50,84.5 362.75,84.8 363.00,85.0 363.25,85.3 363.50,85.1 363.75,85.0 364.00,84.8 364.25,84.7 364.50,84.5 364.75,84.4 365.00,84.2 365.25,84.1 365.50,83.9 365.75,83.8 366.00,83.6 366.25,83.5 366.50,83.5 366.75,83.5 367.00,83.6 367.25,83.6 367.50,83.7 367.75,83.7 368.00,83.8 368.25,83.8 368.50,83.9 368.75,83.9 369.00,84.0 369.25,84.0 369.50,83.9 369.75,83.5 370.00,83.1 370.25,82.8 370.50,82.4 370.75,82.0 371.00,81.6 371.25,81.3 371.50,80.9 371.75,80.5 372.00,80.6 372.25,81.1 372.50,81.5 372.75,82.0 373.00,82.4 373.25,82.8 373.50,83.3 373.75,83.7 374.00,84.1 374.25,84.6 374.50,84.7 374.75,84.7 375.00,84.7 375.25,84.7 375.50,84.7 375.75,84.7 376.00,84.7 376.25,84.7 376.50,84.7 376.75,84.7 377.00,84.7 377.25,84.7 377.50,84.8 377.75,85.1 378.00,85.4 378.25,85.7 378.50,86.0 378.75,86.3 379.00,86.6 379.25,86.9 379.50,87.2 379.75,87.5 380.00,87.8 380.25,88.1 380.50,88.3 380.75,88.3 381.00,88.3 381.25,88.3 381.50,88.3 381.75,88.3 382.00,88.3 382.25,88.3 382.50,88.3 382.75,88.3 383.00,88.3 383.25,88.3 383.50,88.3 383.75,88.0 384.00,87.7 384.25,87.3 384.50,87.0 384.75,86.6 385.00,86.3 385.25,85.9 385.50,85.6 385.75,85.2 386.00,84.9 386.25,84.5 386.50,84.2 386.75,84.2 387.00,84.4 387.25,84.6 387.50,84.8 387.75,85.0 388.00,85.2 388.25,85.4 388.50,85.6 388.75,85.8 389.00,86.0 389.25,86.2 389.50,86.4 389.75,86.6 390.00,86.8 390.25,87.0 390.50,87.2 390.75,87.4 391.00,87.6 391.25,87.8 391.50,88.0 391.75,88.2 392.00,88.4 392.25,88.6 392.50,88.8 392.75,89.0 393.00,89.0 393.25,89.0 393.50,89.0 393.75,89.0 394.00,89.0 394.25,89.0 394.50,89.0 394.75,89.0 395.00,89.0 395.25,89.0 395.50,89.0 395.75,89.0 396.00,88.7 396.25,88.4 396.50,88.1 396.75,87.8 397.00,87.5 397.25,87.2 397.50,86.9 397.75,86.6 398.00,86.3 398.25,86.0 398.50,85.7 398.75,85.4 399.00,85.5 399.25,85.8 399.50,86.1 399.75,86.4 400.00,86.7 400.25,87.0 400.50,87.3 400.75,87.6 401.00,88.0 401.25,88.3 401.50,88.6 401.75,88.9 402.00,88.8 402.25,88.5 402.50,88.1 402.75,87.8 403.00,87.5 403.25,87.1 403.50,86.8 403.75,86.5 404.00,86.2 404.25,85.8 404.50,85.5 404.75,85.4 405.00,85.9 405.25,86.3 405.50,86.8 405.75,87.2 406.00,87.7 406.25,88.1 406.50,88.5 406.75,89.0 407.00,89.0 407.25,88.9 407.50,88.9 407.75,88.9 408.00,88.9 408.25,88.8 408.50,88.8 408.75,88.8 409.00,88.8 409.25,88.7 409.50,88.7 409.75,88.7 410.00,88.6 410.25,88.6 410.50,88.6 410.75,88.6 411.00,88.7 411.25,88.7 411.50,88.8 411.75,88.8 412.00,88.9 412.25,88.9 412.50,88.9 412.75,89.0 413.00,89.0 413.25,89.0 413.50,89.0 413.75,89.0 414.00,89.0 414.25,89.0 414.50,89.0 414.75,89.0 415.00,89.0 415.25,89.0 415.50,89.0 415.75,89.0 416.00,89.0 416.25,89.0 416.50,89.0 416.75,89.0 417.00,89.0 417.00,89.0 416.75,89.1 416.50,89.2 416.25,89.2 416.00,89.3 415.75,89.3 415.50,89.3 415.25,89.3 415.00,89.3 414.75,89.3 414.50,89.3 414.25,89.3 414.00,89.3 413.75,89.3 413.50,89.3 413.25,89.3 413.00,89.3 412.75,89.3 412.50,89.3 412.25,89.3 412.00,89.3 411.75,89.3 411.50,89.3 411.25,89.3 411.00,89.3 410.75,89.3 410.50,89.3 410.25,89.3 410.00,89.3 409.75,89.3 409.50,89.3 409.25,89.3 409.00,89.3 408.75,89.3 408.50,89.3 408.25,89.3 408.00,89.3 407.75,89.3 407.50,89.3 407.25,89.3 407.00,89.3 406.75,89.3 406.50,89.3 406.25,89.3 406.00,89.3 405.75,89.3 405.50,89.3 405.25,89.3 405.00,89.3 404.75,89.3 404.50,89.3 404.25,89.3 404.00,89.3 403.75,89.3 403.50,89.3 403.25,89.3 403.00,89.3 402.75,89.3 402.50,89.3 402.25,89.3 402.00,89.3 401.75,89.3 401.50,89.3 401.25,89.3 401.00,89.3 400.75,89.3 400.50,89.3 400.25,89.3 400.00,89.3 399.75,89.3 399.50,89.3 399.25,89.3 399.00,89.3 398.75,89.3 398.50,89.3 398.25,89.3 398.00,89.3 397.75,89.3 397.50,89.3 397.25,89.3 397.00,89.3 396.75,89.3 396.50,89.3 396.25,89.3 396.00,89.3 395.75,89.3 395.50,89.3 395.25,89.3 395.00,89.3 394.75,89.3 394.50,89.3 394.25,89.3 394.00,89.3 393.75,89.3 393.50,89.3 393.25,89.3 393.00,89.3 392.75,89.3 392.50,89.3 392.25,89.3 392.00,89.3 391.75,89.3 391.50,89.3 391.25,89.3 391.00,89.3 390.75,89.3 390.50,89.3 390.25,89.3 390.00,89.3 389.75,89.3 389.50,89.3 389.25,89.3 389.00,89.3 388.75,89.3 388.50,89.3 388.25,89.3 388.00,89.3 387.75,89.3 387.50,89.3 387.25,89.3 387.00,89.3 386.75,89.3 386.50,89.3 386.25,89.1 386.00,89.0 385.75,88.9 385.50,88.7 385.25,88.6 385.00,88.5 384.75,88.4 384.50,88.4 384.25,88.5 384.00,88.6 383.75,88.7 383.50,88.7 383.25,88.8 383.00,88.9 382.75,89.0 382.50,89.0 382.25,89.1 382.00,89.2 381.75,89.3 381.50,89.3 381.25,89.3 381.00,89.3 380.75,89.3 380.50,89.3 380.25,89.3 380.00,89.3 379.75,89.3 379.50,89.3 379.25,89.3 379.00,89.3 378.75,89.3 378.50,89.3 378.25,89.3 378.00,89.3 377.75,89.2 377.50,89.0 377.25,88.8 377.00,88.7 376.75,88.5 376.50,88.4 376.25,88.2 376.00,88.0 375.75,87.9 375.50,87.7 375.25,87.8 375.00,87.9 374.75,88.0 374.50,88.1 374.25,88.2 374.00,88.2 373.75,88.3 373.50,88.4 373.25,88.5 373.00,88.6 372.75,88.7 372.50,88.7 372.25,88.8 372.00,88.9 371.75,89.0 371.50,89.0 371.25,89.0 371.00,89.0 370.75,89.0 370.50,89.0 370.25,89.0 370.00,89.0 369.75,89.0 369.50,89.0 369.25,89.0 369.00,89.0 368.75,89.0 368.50,89.0 368.25,89.0 368.00,89.0 367.75,89.0 367.50,89.0 367.25,89.0 367.00,89.0 366.75,88.9 366.50,88.9 366.25,88.9 366.00,88.8 365.75,88.8 365.50,88.7 365.25,88.7 365.00,88.6 364.75,88.6 364.50,88.6 364.25,88.5 364.00,88.5 363.75,88.4 363.50,88.4 363.25,88.4 363.00,88.3 362.75,88.2 362.50,88.1 362.25,88.0 362.00,87.9 361.75,87.8 361.50,87.7 361.25,87.6 361.00,87.5 360.75,87.4 360.50,87.3 360.25,87.2 360.00,87.2 359.75,87.4 359.50,87.5 359.25,87.7 359.00,87.8 358.75,88.0 358.50,88.1 358.25,88.3 358.00,88.4 357.75,88.6 357.50,88.7 357.25,88.9 357.00,89.0 356.75,89.0 356.50,89.0 356.25,89.0 356.00,89.0 355.75,89.0 355.50,89.0 355.25,89.0 355.00,89.0 354.75,89.0 354.50,89.0 354.25,89.0 354.00,89.0 353.75,89.0 353.50,89.0 353.25,88.9 353.00,88.8 352.75,88.7 352.50,88.6 352.25,88.5 352.00,88.4 351.75,88.3 351.50,88.2 351.25,88.1 351.00,88.0 350.75,87.9 350.50,87.8 350.25,87.5 350.00,86.8 349.75,86.1 349.50,85.5 349.25,84.8 349.00,84.1 348.75,83.5 348.50,82.9 348.25,83.7 348.00,84.5 347.75,85.4 347.50,86.2 347.25,87.0 347.00,87.9 346.75,88.7 346.50,88.9 346.25,88.9 346.00,88.8 345.75,88.7 345.50,88.7 345.25,88.6 345.00,88.5 344.75,88.5 344.50,88.4 344.25,88.4 344.00,87.8 343.75,87.1 343.50,86.4 343.25,85.7 343.00,85.0" fill="#3c8fc4"/>
<polygon points="422.75,89.0 423.00,89.0 423.25,89.0 423.50,89.0 423.75,89.0 424.00,89.0 424.25,89.0 424.50,89.0 424.75,89.0 425.00,89.0 425.25,89.0 425.50,89.0 425.75,89.0 426.00,89.0 426.25,89.0 426.50,89.0 426.75,89.0 427.00,89.0 427.25,89.0 427.50,89.0 427.75,89.0 428.00,89.0 428.25,89.0 428.50,89.0 428.75,89.0 429.00,89.0 429.25,89.0 429.50,89.0 429.75,89.0 430.00,89.0 430.25,89.0 430.50,89.0 430.75,89.0 431.00,89.0 431.25,89.0 431.50,89.0 431.75,89.0 432.00,89.0 432.25,89.0 432.50,89.0 432.75,89.0 433.00,89.0 433.25,89.0 433.50,89.0 433.75,89.0 434.00,89.0 434.25,89.0 434.50,89.0 434.75,89.0 435.00,89.0 435.25,89.0 435.50,89.0 435.75,89.0 436.00,89.0 436.25,89.0 436.50,89.0 436.75,89.0 437.00,89.0 437.25,89.0 437.50,89.0 437.75,89.0 438.00,89.0 438.25,89.0 438.50,89.0 438.75,89.0 439.00,89.0 439.25,89.0 439.50,89.0 439.75,89.0 440.00,89.0 440.00,89.1 439.75,89.2 439.50,89.2 439.25,89.3 439.00,89.3 438.75,89.3 438.50,89.3 438.25,89.2 438.00,89.2 437.75,89.2 437.50,89.2 437.25,89.2 437.00,89.2 436.75,89.2 436.50,89.1 436.25,89.1 436.00,89.1 435.75,89.1 435.50,89.1 435.25,89.1 435.00,89.1 434.75,89.1 434.50,89.1 434.25,89.1 434.00,89.2 433.75,89.2 433.50,89.2 433.25,89.2 433.00,89.2 432.75,89.2 432.50,89.2 432.25,89.2 432.00,89.2 431.75,89.3 431.50,89.3 431.25,89.3 431.00,89.3 430.75,89.3 430.50,89.3 430.25,89.3 430.00,89.3 429.75,89.3 429.50,89.3 429.25,89.3 429.00,89.3 428.75,89.3 428.50,89.3 428.25,89.3 428.00,89.3 427.75,89.3 427.50,89.3 427.25,89.3 427.00,89.3 426.75,89.3 426.50,89.3 426.25,89.3 426.00,89.3 425.75,89.3 425.50,89.3 425.25,89.3 425.00,89.3 424.75,89.3 424.50,89.3 424.25,89.3 424.00,89.3 423.75,89.3 423.50,89.3 423.25,89.3 423.00,89.2 422.75,89.1" fill="#3c8fc4"/>
<polygon points="458.50,87.5 458.75,87.3 459.00,87.2 459.25,87.0 459.50,86.9 459.75,86.7 460.00,86.6 460.25,86.5 460.50,86.6 460.75,86.7 460.75,86.8 460.50,87.0 460.25,87.1 460.00,87.2 459.75,87.3 459.50,87.5 459.25,87.6 459.00,87.7 458.75,87.7 458.50,87.6" fill="#3c8fc4"/>
<polygon points="508.25,71.5 508.50,70.9 508.75,70.3 509.00,69.8 509.25,69.2 509.50,68.5 509.75,67.9 510.00,67.2 510.25,66.5 510.50,65.9 510.75,65.2 511.00,64.5 511.25,65.2 511.50,66.2 511.75,67.2 512.00,68.2 512.25,69.2 512.50,70.2 512.75,71.2 513.00,72.2 513.25,73.2 513.50,74.2 513.75,74.1 514.00,74.1 514.25,74.0 514.50,73.9 514.75,73.8 515.00,73.7 515.25,73.6 515.50,73.8 515.75,74.0 516.00,74.3 516.25,74.5 516.50,74.8 516.50,75.5 516.25,76.0 516.00,76.6 515.75,76.6 515.50,76.6 515.25,76.5 515.00,76.4 514.75,76.4 514.50,76.3 514.25,76.3 514.00,76.2 513.75,76.1 513.50,76.1 513.25,76.9 513.00,77.8 512.75,78.6 512.50,79.4 512.25,80.3 512.00,81.1 511.75,81.9 511.50,81.8 511.25,81.1 511.00,80.4 510.75,79.8 510.50,79.1 510.25,78.4 510.00,77.8 509.75,77.0 509.50,76.1 509.25,75.2 509.00,74.3 508.75,73.4 508.50,72.4 508.25,71.5" fill="#3c8fc4"/>
<polygon points="531.50,71.1 531.75,70.8 532.00,70.5 532.25,70.3 532.50,70.2 532.75,70.0 533.00,69.9 533.25,69.7 533.50,69.6 533.75,69.4 534.00,69.3 534.25,69.1 534.50,69.0 534.75,68.8 535.00,68.7 535.25,68.5 535.50,68.4 535.75,68.2 536.00,68.3 536.25,68.3 536.50,68.4 536.75,68.5 537.00,68.5 537.25,68.6 537.50,68.6 537.75,68.7 538.00,68.8 538.25,70.4 538.50,72.7 538.75,74.9 539.00,77.2 539.25,78.7 539.50,76.9 539.75,75.0 540.00,73.1 540.25,71.2 540.50,69.4 540.75,67.5 541.00,65.6 541.25,63.7 541.50,61.9 541.75,61.5 542.00,61.0 542.25,60.6 542.50,60.2 542.75,59.7 543.00,59.3 543.25,58.9 543.50,58.4 543.75,58.0 544.00,57.3 544.25,56.6 544.50,55.9 544.75,55.2 545.00,54.5 545.25,53.8 545.50,53.1 545.75,52.5 546.00,52.6 546.25,53.1 546.50,53.7 546.75,54.2 547.00,54.7 547.25,55.2 547.50,55.7 547.75,56.2 548.00,55.6 548.25,54.9 548.50,54.2 548.75,53.4 549.00,52.7 549.25,52.0 549.50,51.3 549.75,50.6 550.00,49.9 550.25,49.2 550.50,49.4 550.75,50.5 551.00,51.6 551.25,52.7 551.50,53.8 551.75,54.9 552.00,56.0 552.25,57.1 552.50,58.2 552.75,59.2 553.00,60.3 553.25,61.4 553.50,62.5 553.75,63.6 554.00,64.7 554.25,64.7 554.50,64.6 554.75,64.4 555.00,64.3 555.25,64.2 555.50,64.1 555.75,63.9 556.00,63.8 556.25,63.7 556.50,63.9 556.75,64.2 557.00,64.5 557.25,64.8 557.50,65.1 557.75,65.5 558.00,65.8 558.25,66.1 558.50,66.4 558.75,66.5 559.00,66.6 559.25,66.7 559.50,66.7 559.75,66.8 560.00,66.9 560.25,66.9 560.50,67.0 560.75,67.0 561.00,67.0 561.25,66.8 561.50,66.6 561.75,66.5 562.00,66.3 562.25,66.1 562.50,66.0 562.75,65.8 563.00,65.6 563.25,65.5 563.50,65.4 563.50,72.2 563.25,72.3 563.00,72.5 562.75,72.8 562.50,73.0 562.25,73.2 562.00,73.4 561.75,73.6 561.50,73.9 561.25,74.2 561.00,74.5 560.75,74.8 560.50,75.1 560.25,75.4 560.00,75.7 559.75,76.0 559.50,76.3 559.25,76.7 559.00,76.8 558.75,76.9 558.50,77.0 558.25,77.1 558.00,77.2 557.75,77.3 557.50,77.4 557.25,77.5 557.00,77.6 556.75,77.7 556.50,77.8 556.25,77.7 556.00,77.1 555.75,76.4 555.50,75.7 555.25,75.0 555.00,74.3 554.75,73.6 554.50,72.9 554.25,72.2 554.00,71.7 553.75,72.1 553.50,72.5 553.25,72.9 553.00,73.4 552.75,73.8 552.50,74.2 552.25,74.6 552.00,75.0 551.75,75.4 551.50,75.9 551.25,76.3 551.00,76.7 550.75,77.1 550.50,77.4 550.25,77.7 550.00,77.9 549.75,78.2 549.50,78.4 549.25,78.7 549.00,78.9 548.75,79.2 548.50,79.4 548.25,79.7 548.00,79.9 547.75,80.2 547.50,80.3 547.25,80.4 547.00,80.6 546.75,80.7 546.50,80.8 546.25,80.9 546.00,81.1 545.75,81.2 545.50,81.3 545.25,81.4 545.00,81.6 544.75,81.7 544.50,81.8 544.25,81.7 544.00,81.0 543.75,80.3 543.50,79.6 543.25,78.9 543.00,78.2 542.75,77.5 542.50,76.8 542.25,76.2 542.00,75.8 541.75,76.4 541.50,77.0 541.25,77.6 541.00,78.3 540.75,78.9 540.50,79.5 540.25,80.1 540.00,80.8 539.75,81.3 539.50,81.1 539.25,80.8 539.00,80.6 538.75,80.3 538.50,80.1 538.25,79.8 538.00,79.7 537.75,80.2 537.50,80.6 537.25,81.0 537.00,81.5 536.75,81.9 536.50,82.4 536.25,82.8 536.00,83.2 535.75,83.6 535.50,83.3 535.25,83.1 535.00,82.8 534.75,82.6 534.50,82.3 534.25,82.1 534.00,81.8 533.75,81.6 533.50,81.3 533.25,79.8 533.00,78.3 532.75,76.7 532.50,75.2 532.25,73.7 532.00,72.2 531.75,71.6 531.50,71.4" fill="#3c8fc4"/>
<polyline points="84.53,88.7 85.26,88.5 88.21,86.6 91.37,83.8 94.53,84.8 97.16,85.4 99.79,88.5 102.42,87.3 105.58,84.8 108.21,88.5 113.47,88.0 115.58,84.8 118.21,88.5 126.11,89.1 129.26,87.5 133.47,88.5 136.63,85.9 138.74,83.3 140.00,85.3 142.46,86.5 144.91,79.8 146.75,79.8 149.82,77.9 152.89,76.7 154.74,85.3 160.26,84.7 163.33,77.3 166.40,76.7 168.86,61.3 171.32,65.0 173.77,74.8 176.84,65.0 179.91,71.8 183.60,71.2 186.05,74.8 187.89,56.4 189.74,46.0 192.19,60.1 194.65,72.4 197.72,53.4 200.17,54.6 202.63,67.5 204.47,69.9 205.00,69.9 208.07,62.6 211.14,58.9 213.60,49.7 216.67,42.9 219.12,55.2 222.19,68.7 224.65,58.9 227.10,58.9 229.56,63.8 231.40,68.7 233.86,66.2 235.70,58.9 238.77,44.8 241.23,66.2 243.68,61.3 245.53,55.2 247.98,56.4 250.44,58.9 254.12,65.6 257.19,70.5 259.03,55.2 260.88,63.8 263.33,74.2 265.79,73.0 268.86,66.2 270.00,65.0 272.46,68.1 274.91,71.8 277.98,80.4 280.44,78.5 282.89,74.8 285.35,82.8 287.81,67.5 289.65,65.6 292.10,74.8 294.56,80.4 297.63,76.7 301.32,83.4 304.39,81.6 309.30,87.1 312.37,85.9 314.82,79.8 317.28,80.4 319.12,85.9 321.58,79.8 324.65,85.9 328.33,87.7 331.40,86.5 334.47,85.3 335.00,84.7 337.46,83.4 339.30,78.5 341.75,81.6 344.21,88.3 346.67,89.0 348.51,82.8 350.35,87.7 353.42,89.0 357.10,89.0 360.17,87.1 363.25,88.3 366.93,89.0 371.84,89.0 375.53,87.7 377.98,89.3 381.67,89.3 384.74,88.3 386.58,89.3 398.86,89.3 401.84,89.3 415.96,89.3 420.26,88.1 423.33,89.3 430.70,89.3 435.61,89.1 439.30,89.3 442.98,88.1 446.67,88.3 450.35,84.7 452.81,83.4 455.88,87.1 458.95,87.7 461.40,86.5 463.86,82.8 465.00,83.4 467.46,82.5 469.91,84.1 473.60,84.1 476.05,80.4 477.89,70.5 480.35,69.9 482.81,77.9 484.65,77.9 487.72,69.9 490.17,59.5 492.63,57.6 495.09,56.4 496.32,68.1 498.16,68.7 500.00,71.8 501.84,74.2 503.68,72.4 506.14,71.8 507.98,70.5 509.82,77.3 511.67,82.2 513.51,76.1 515.96,76.7 518.42,71.2 520.88,74.2 523.33,68.7 525.17,77.9 527.02,73.6 529.47,69.9 531.93,71.8 533.51,81.3 535.79,83.6 538.07,79.6 539.78,81.3 542.06,75.6 544.34,81.9 547.76,80.2 550.61,77.3 554.03,71.6 556.31,77.9 559.16,76.8 561.44,73.9 563.38,72.2" fill="none" stroke="#d6523e" stroke-width="1.55" stroke-linejoin="round"/>
<polyline points="84.53,77.5 85.26,77.5 87.16,85.4 90.32,88.5 94.53,88.3 97.68,86.9 99.79,83.8 102.42,88.5 105.05,87.5 108.21,89.0 115.58,88.7 119.79,86.9 122.95,89.0 126.11,84.3 129.26,88.7 133.47,88.3 136.11,84.3 138.74,88.3 140.00,87.7 142.46,88.3 144.91,82.2 146.75,77.3 148.60,87.7 151.05,82.8 153.51,81.6 155.96,78.5 158.42,68.7 161.49,68.7 163.33,73.0 165.79,69.9 168.25,73.0 170.70,68.7 173.16,79.8 175.61,71.8 179.30,79.1 182.98,76.1 185.44,73.6 187.89,68.1 190.35,64.4 193.42,63.8 195.88,79.1 199.56,58.9 202.02,72.4 204.47,58.9 205.00,57.6 208.07,47.2 210.53,56.4 214.21,68.1 216.67,51.5 219.12,61.9 221.58,65.6 223.42,61.3 225.26,68.1 228.33,69.3 230.79,71.2 233.25,61.9 235.09,63.8 236.93,73.0 239.39,67.5 241.84,68.1 244.91,49.1 247.37,58.9 249.21,64.4 251.05,55.2 254.12,57.6 257.19,59.5 259.65,61.9 261.49,57.0 263.95,60.1 267.63,53.4 269.47,57.6 270.00,59.5 271.84,66.2 273.68,60.7 275.53,67.5 277.98,60.1 280.44,74.8 282.89,74.2 285.96,70.5 287.81,74.8 290.26,69.9 292.10,66.9 293.95,73.6 296.40,70.5 298.86,73.6 301.93,78.5 306.23,72.4 309.30,74.2 312.37,73.6 314.82,77.3 317.89,80.4 320.96,76.1 324.03,79.8 326.49,84.1 328.95,79.8 331.40,83.4 334.47,75.5 335.00,74.8 336.84,74.8 339.30,80.4 342.37,84.1 345.44,88.3 347.28,81.0 349.74,78.5 352.19,87.1 354.65,88.3 357.72,74.8 360.17,82.2 363.25,85.3 366.32,83.4 369.39,84.1 371.84,80.4 374.30,84.7 377.37,84.7 380.44,88.3 383.51,88.3 386.58,84.1 389.65,86.5 392.72,89.0 395.79,89.0 398.86,85.3 401.84,89.0 404.67,85.3 406.75,89.0 410.44,88.6 412.89,89.0 434.39,89.0 436.84,89.0 440.53,89.0 446.67,89.0 451.58,88.3 456.49,88.6 460.17,86.5 462.63,87.1 464.47,85.3 465.00,85.9 467.46,85.3 469.91,87.1 472.98,88.3 476.05,84.1 478.51,82.2 480.96,83.4 483.42,82.8 488.33,85.9 491.40,80.4 494.47,75.5 496.93,71.8 498.77,82.2 500.61,85.3 503.07,76.7 506.75,74.8 509.21,69.3 511.05,64.4 513.51,74.2 515.35,73.6 517.81,76.1 519.65,79.1 521.49,84.1 523.95,80.4 525.79,82.2 528.86,74.8 531.93,70.5 535.79,68.2 538.07,68.8 539.21,79.0 541.49,61.9 543.77,58.0 545.82,52.3 547.76,56.2 550.38,48.8 552.32,57.4 554.03,64.8 556.31,63.7 558.59,66.5 560.87,67.1 563.38,65.4" fill="none" stroke="#348abd" stroke-width="1.55" stroke-linejoin="round"/>
</g>
<polyline clip-path="url(#cpb)" points="117.80,132.2 119.56,159.4 123.33,174.2 125.09,156.9 127.11,156.1 128.87,137.2 132.64,180.0 136.16,141.5 138.18,132.7 139.69,169.9 141.70,145.8 143.46,157.4 145.47,167.4 147.23,178.5 149.25,185.5 151.01,196.9 152.77,208.2 154.53,222.5 156.29,189.3 158.05,184.8 159.81,188.1 161.57,178.5 163.58,175.5 165.35,205.2 176.67,222.5 178.43,257.2 181.95,258.5 183.71,220.3 185.22,225.0 187.23,211.2 188.99,218.2 191.01,201.9 194.78,231.3 198.55,208.2 200.31,173.7 202.33,201.9 205.85,175.5 209.62,208.2 211.38,232.8 213.40,222.5 215.16,186.8 218.93,185.5 220.69,189.8 224.21,222.5 226.01,195.6 227.77,203.1 229.53,202.6 231.54,185.5 233.55,176.7 235.31,180.5 237.08,190.6 238.84,143.3 240.85,159.1 242.61,175.5 244.37,193.6 246.38,169.9 248.14,173.0 249.91,180.5 251.67,138.5 253.43,145.3 255.44,181.0 257.20,159.1 258.96,171.7 260.72,168.4 262.74,184.8 264.50,183.0 266.26,154.1 268.27,152.3 270.03,127.2 271.79,173.5 273.81,172.2 275.57,153.3 277.33,152.1 279.09,143.3 280.85,151.6 282.86,155.3 284.62,139.0 286.64,131.4 288.40,155.3 290.16,206.9 291.92,155.3 293.93,154.1 295.69,210.7 297.45,170.4 299.21,174.2 301.23,201.9 302.99,139.7 305.00,151.6 306.76,210.7 308.52,223.3 310.53,198.1 314.06,240.1 315.82,200.6 317.83,223.3 319.59,230.8 321.35,194.3 323.11,161.6 325.13,215.7 326.89,160.4 328.65,155.3 330.41,157.9 332.42,174.2 334.18,165.9 335.94,200.6 337.70,140.3 341.51,109.6 343.27,183.0 345.03,184.8 347.04,198.1 348.81,180.5 350.82,174.2 354.34,218.2 356.35,173.0 358.11,167.2 359.87,184.3 361.89,220.3 363.65,193.8 367.17,243.4 369.18,198.1 370.94,197.6 372.70,233.3 376.48,189.3 378.24,230.8 381.76,181.0 383.77,181.8 385.53,177.5 387.30,184.3 389.31,186.8 391.07,217.0 392.83,183.0 394.59,196.9 396.60,225.8 398.36,210.7 400.13,220.8 401.89,225.0 405.66,178.5 407.42,220.8 409.18,221.5 411.19,215.2 412.96,210.7 414.97,151.6 416.73,209.4 418.49,220.8 420.25,225.3 422.26,240.1 424.03,237.1 425.79,230.8 429.56,202.6 431.32,227.8 433.08,229.6 435.09,214.5 436.86,215.7 438.62,235.3 440.38,219.5 442.39,218.2 444.15,235.3 445.91,233.3 447.92,226.5 449.69,230.1 450.00,230.8 452.01,214.5 453.77,210.7 455.53,209.9 457.55,205.7 459.31,198.1 461.07,220.8 463.08,225.8 464.84,233.3 466.60,240.9 470.13,245.4 472.14,230.3" fill="none" stroke="#ff0000" stroke-width="1.25" stroke-linejoin="round"/>
<polygon clip-path="url(#cpb)" points="458.63,238.5 459.13,223.1 459.54,211.3 459.63,208.5 460.13,194.0 460.44,185.2 460.63,190.5 461.13,202.6 461.22,204.9 461.63,197.1 462.13,188.0 462.13,187.8 462.63,202.6 463.03,215.2 463.13,213.4 463.63,206.5 463.81,204.2 464.13,204.1 464.63,204.7 464.72,204.7 465.13,210.1 465.63,216.0 465.63,216.4 466.13,220.7 466.40,222.7 466.63,220.8 467.13,217.7 467.31,216.5 467.63,221.6 468.13,229.0 468.22,230.4 468.63,227.6 469.13,223.1 469.25,222.2 469.63,223.3 470.13,224.1 470.29,223.9 470.63,221.7 471.13,218.6 471.63,215.3 471.85,213.8 472.13,211.7 472.63,208.4 473.13,204.9 473.14,204.7 473.63,197.5 474.13,191.2 474.44,187.3 474.63,189.3 475.13,194.5 475.47,198.3 475.63,195.6 476.13,186.7 476.51,180.2 476.63,182.0 477.13,190.4 477.29,192.7 477.63,190.1 478.13,186.4 478.33,184.9 478.63,188.7 479.13,194.0 479.36,197.0 479.63,199.4 480.13,204.7 480.40,207.3 480.63,200.2 481.13,184.5 481.31,177.9 481.63,184.0 482.13,191.4 482.21,192.8 482.63,184.0 482.99,176.8 483.13,180.2 483.63,193.5 483.77,197.1 484.13,202.5 484.55,208.7 484.63,205.6 485.13,186.9 485.32,179.3 485.63,189.0 486.10,202.6 486.13,203.2 486.63,205.3 487.13,206.9 487.14,207.4 487.63,202.2 488.13,198.0 488.17,197.8 488.63,202.7 489.13,207.2 489.21,208.2 489.63,205.2 490.13,201.0 490.25,200.6 490.63,202.0 491.13,203.4 491.28,204.2 491.63,204.8 492.13,205.2 492.32,205.5 492.63,200.1 493.13,192.2 493.36,189.0 493.63,191.0 494.13,193.9 494.39,194.9 494.63,192.8 495.13,188.2 495.43,185.2 495.63,187.6 496.13,193.2 496.47,197.1 496.63,193.7 497.13,186.2 497.24,184.8 497.63,190.1 498.13,197.5 498.28,199.6 498.63,194.3 499.13,187.6 499.32,185.2 499.63,195.2 500.10,209.6 500.13,208.4 500.63,199.9 501.13,190.7 501.13,190.6 501.63,202.2 501.91,207.7 502.13,206.5 502.63,201.7 502.95,199.6 503.13,202.6 503.63,210.3 503.98,215.7 504.13,215.3 504.63,211.7 505.02,207.9 505.13,209.6 505.63,213.5 506.06,217.8 506.13,216.7 506.63,212.3 506.83,210.8 507.13,215.6 507.61,222.5 507.63,222.6 508.13,210.8 508.39,204.7 508.63,201.0 509.13,195.6 509.17,194.3 509.63,202.6 509.94,207.7 510.13,209.1 510.63,210.4 510.98,211.3 511.13,212.1 511.63,216.8 512.02,221.2 512.13,222.3 512.63,226.2 513.05,228.7 513.13,228.9 513.63,231.6 514.09,233.3 514.13,229.1 514.15,227.4 514.63,231.3 514.92,233.3 515.13,231.7 515.63,227.8 515.70,227.5 516.13,229.3 516.48,231.8 516.63,230.6 517.13,228.4 517.52,225.2 517.63,226.4 518.13,230.2 518.29,230.4 518.63,233.0 519.13,235.9 519.33,237.9 519.63,235.7 520.13,231.3 520.37,230.0 520.63,228.4 521.13,225.8 521.40,223.2 521.63,225.7 522.13,229.0 522.18,230.1 522.63,226.9 522.96,224.9 523.13,224.3 523.63,225.6 524.00,226.2 524.13,225.6 524.63,223.2 525.03,221.7 525.13,221.2 525.63,218.5 526.07,216.3 526.13,215.7 526.63,211.9 527.11,208.6 527.13,208.6 527.63,213.1 527.88,215.2 528.13,209.2 528.63,199.0 528.66,198.3 529.13,197.7 529.63,196.9 530.13,196.5 530.22,196.4 530.63,202.1 530.99,207.4 531.13,208.6 531.63,214.2 531.77,216.2 532.13,213.3 532.63,209.9 532.81,208.7 533.13,204.9 533.63,199.4 533.84,196.7 534.13,191.1 534.62,180.8 534.63,180.3 535.13,191.4 535.40,196.9 535.63,194.3 536.13,191.1 536.44,188.6 536.63,189.7 537.13,194.0 537.47,196.7 537.63,195.5 538.13,190.4 538.25,189.3 538.63,198.1 539.03,206.9 539.13,207.8 539.63,209.6 540.06,210.3 540.13,210.5 540.63,212.5 541.10,213.4 541.13,213.6 541.63,215.7 542.13,217.0 542.14,217.8 542.63,222.9 543.13,229.6 543.17,229.3 543.63,223.6 543.95,219.6 544.13,218.7 544.63,217.4 544.99,215.9 545.13,214.6 545.63,207.5 546.02,201.4 546.13,199.3 546.63,190.1 546.80,186.7 547.13,183.7 547.58,181.4 547.63,181.0 548.13,174.6 548.36,172.3 548.63,178.0 549.13,189.6 549.39,195.5 549.63,195.8 550.13,196.3 550.17,195.6 550.63,185.7 551.13,174.2 551.21,172.2 551.63,177.0 552.13,180.8 552.24,182.0 552.63,186.4 553.13,191.3 553.28,193.2 553.63,194.6 554.06,197.7 554.13,196.2 554.63,187.7 554.84,184.1 555.13,189.6 555.61,199.4 555.63,199.3 556.13,202.2 556.63,205.0 556.65,206.1 557.13,202.6 557.43,200.6 557.63,201.8 558.13,205.1 558.46,207.1 558.63,204.7 559.13,199.5 559.24,198.1 559.63,192.1 560.13,185.1 560.28,182.7 560.63,179.8 561.13,175.4 561.32,173.8 561.63,172.0 562.13,169.1 562.35,167.7 562.63,166.6 563.13,164.3 563.39,163.8 563.39,165.1 563.13,166.0 562.63,167.9 562.35,169.5 562.13,170.6 561.63,173.8 561.32,175.4 561.13,176.4 560.63,181.2 560.28,184.0 560.13,186.1 559.63,193.6 559.24,199.7 559.13,200.8 558.63,207.0 558.46,208.5 558.13,206.5 557.63,203.7 557.43,202.5 557.13,204.2 556.65,207.6 556.63,207.1 556.13,203.9 555.63,201.0 555.61,201.1 555.13,191.5 554.84,185.3 554.63,188.8 554.13,198.1 554.06,199.4 553.63,196.3 553.28,194.7 553.13,192.7 552.63,187.9 552.24,184.8 552.13,182.8 551.63,178.6 551.21,175.0 551.13,176.5 550.63,188.2 550.17,197.5 550.13,197.5 549.63,197.0 549.39,196.8 549.13,190.8 548.63,179.8 548.36,174.0 548.13,176.5 547.63,182.0 547.58,183.1 547.13,185.6 546.80,187.8 546.63,191.2 546.13,201.4 546.02,203.4 545.63,209.2 545.13,215.7 544.99,217.6 544.63,218.7 544.13,220.2 543.95,221.2 543.63,225.1 543.17,231.2 543.13,230.6 542.63,224.8 542.14,219.5 542.13,219.6 541.63,217.3 541.13,215.7 541.10,214.9 540.63,214.5 540.13,212.5 540.06,212.5 539.63,211.5 539.13,208.9 539.03,209.3 538.63,199.2 538.25,190.7 538.13,192.0 537.63,196.8 537.47,198.1 537.13,196.3 536.63,191.7 536.44,189.9 536.13,192.6 535.63,196.7 535.40,198.1 535.13,192.6 534.63,182.0 534.62,182.6 534.13,192.3 533.84,199.1 533.63,200.5 533.13,207.2 532.81,209.8 532.63,212.1 532.13,214.8 531.77,217.7 531.63,216.3 531.13,210.5 530.99,209.0 530.63,203.5 530.22,197.5 530.13,198.1 529.63,199.2 529.13,199.4 528.66,200.4 528.63,201.0 528.13,211.0 527.88,216.3 527.63,214.2 527.13,210.1 527.11,210.5 526.63,213.5 526.13,217.1 526.07,217.8 525.63,219.7 525.13,222.9 525.03,223.1 524.63,225.1 524.13,227.1 524.00,227.8 523.63,226.8 523.13,226.2 522.96,226.0 522.63,228.1 522.18,231.2 522.13,230.8 521.63,227.5 521.40,225.6 521.13,226.9 520.63,230.5 520.37,231.6 520.13,232.9 519.63,237.5 519.33,238.9 519.13,238.0 518.63,235.4 518.29,233.0 518.13,231.4 517.63,228.3 517.52,228.2 517.13,229.7 516.63,232.2 516.48,233.8 516.13,231.0 515.70,229.0 515.63,229.4 515.13,233.1 514.92,235.2 514.63,232.6 514.15,229.4 514.13,231.7 514.09,235.1 513.63,232.8 513.13,230.8 513.05,230.5 512.63,227.3 512.13,223.6 512.02,223.4 511.63,218.9 511.13,213.9 510.98,212.4 510.63,211.7 510.13,210.2 509.94,210.1 509.63,204.3 509.17,196.2 509.13,196.9 508.63,203.6 508.39,206.6 508.13,212.0 507.63,224.0 507.61,224.1 507.13,217.6 506.83,212.6 506.63,214.7 506.13,218.4 506.06,218.8 505.63,215.8 505.13,211.3 505.02,209.8 504.63,213.5 504.13,216.4 503.98,217.5 503.63,211.9 503.13,204.3 502.95,200.7 502.63,203.7 502.13,208.5 501.91,209.8 501.63,203.8 501.13,191.7 501.13,191.8 500.63,201.6 500.13,211.4 500.10,211.7 499.63,196.3 499.32,186.7 499.13,189.9 498.63,196.9 498.28,201.2 498.13,198.5 497.63,191.7 497.24,186.8 497.13,187.7 496.63,195.8 496.47,198.3 496.13,194.7 495.63,188.8 495.43,187.4 495.13,190.2 494.63,194.8 494.39,197.3 494.13,195.2 493.63,192.0 493.36,190.6 493.13,194.1 492.63,202.7 492.32,207.2 492.13,206.8 491.63,206.9 491.28,205.7 491.13,204.7 490.63,203.2 490.25,202.0 490.13,203.1 489.63,206.7 489.21,210.0 489.13,209.4 488.63,204.3 488.17,199.5 488.13,200.1 487.63,205.1 487.14,209.5 487.13,209.0 486.63,206.7 486.13,205.5 486.10,204.8 485.63,190.2 485.32,181.1 485.13,188.4 484.63,207.1 484.55,210.0 484.13,203.7 483.77,198.1 483.63,194.8 483.13,181.6 482.99,178.2 482.63,185.7 482.21,194.2 482.13,193.1 481.63,185.5 481.31,180.8 481.13,185.7 480.63,201.7 480.40,208.6 480.13,206.8 479.63,200.9 479.36,198.2 479.13,196.3 478.63,189.8 478.33,187.3 478.13,187.9 477.63,191.8 477.29,194.8 477.13,191.6 476.63,183.3 476.51,181.7 476.13,188.3 475.63,197.0 475.47,199.4 475.13,196.1 474.63,190.4 474.44,188.5 474.13,192.6 473.63,199.4 473.14,205.9 473.13,206.3 472.63,209.6 472.13,213.9 471.85,215.0 471.63,216.7 471.13,220.4 470.63,224.1 470.29,225.4 470.13,225.1 469.63,224.7 469.25,224.3 469.13,225.3 468.63,229.6 468.22,232.4 468.13,231.0 467.63,222.7 467.31,217.5 467.13,219.8 466.63,223.4 466.40,224.2 466.13,222.0 465.63,217.5 465.63,217.8 465.13,211.2 464.72,206.8 464.63,206.1 464.13,206.0 463.81,205.5 463.63,208.4 463.13,214.9 463.03,216.8 462.63,204.1 462.13,189.0 462.13,190.1 461.63,198.6 461.22,205.9 461.13,204.3 460.63,192.5 460.44,187.1 460.13,196.2 459.63,210.0 459.54,212.9 459.13,224.8 458.63,240.7" fill="#0000ff"/>
<polyline clip-path="url(#cpb)" points="458.63,239.3 459.13,224.2 459.54,211.8 459.63,209.2 460.13,195.3 460.44,186.6 460.63,191.1 461.13,203.1 461.22,205.4 461.63,197.8 462.13,188.5 462.13,188.5 462.63,203.5 463.03,215.7 463.13,214.4 463.63,207.3 463.81,204.7 464.13,204.9 464.63,205.3 464.72,205.4 465.13,210.6 465.63,217.0 465.63,217.0 466.13,221.2 466.40,223.5 466.63,221.9 467.13,218.3 467.31,217.0 467.63,222.2 468.13,230.5 468.22,231.9 468.63,228.6 469.13,224.5 469.25,223.5 469.63,224.0 470.13,224.6 470.29,224.8 470.63,222.5 471.13,219.2 471.63,215.9 471.85,214.4 472.13,212.4 472.63,208.9 473.13,205.4 473.14,205.4 473.63,198.8 474.13,192.0 474.44,187.9 474.63,189.9 475.13,195.2 475.47,198.9 475.63,196.2 476.13,187.4 476.51,180.7 476.63,182.7 477.13,191.0 477.29,193.7 477.63,191.1 478.13,187.4 478.33,185.9 478.63,189.3 479.13,195.0 479.36,197.6 479.63,200.2 480.13,205.2 480.40,207.9 480.63,200.7 481.13,185.0 481.31,179.4 481.63,184.5 482.13,192.4 482.21,193.7 482.63,185.0 482.99,177.5 483.13,181.1 483.63,194.0 483.77,197.6 484.13,203.0 484.55,209.2 484.63,206.1 485.13,187.4 485.32,180.1 485.63,189.5 486.10,204.1 486.13,204.2 486.63,206.0 487.13,207.9 487.14,207.9 487.63,203.6 488.13,199.3 488.17,198.9 488.63,203.4 489.13,208.4 489.21,209.2 489.63,206.1 490.13,202.4 490.25,201.5 490.63,202.7 491.13,204.2 491.28,204.7 491.63,205.4 492.13,206.3 492.32,206.7 492.63,201.6 493.13,193.5 493.36,189.8 493.63,191.5 494.13,194.6 494.39,196.3 494.63,193.9 495.13,188.9 495.43,185.9 495.63,188.1 496.13,193.8 496.47,197.6 496.63,195.0 497.13,187.1 497.24,185.3 497.63,190.8 498.13,198.0 498.28,200.2 498.63,195.4 499.13,188.5 499.32,185.9 499.63,195.8 500.10,210.5 500.13,209.9 500.63,200.5 501.13,191.2 501.13,191.1 501.63,202.7 501.91,209.2 502.13,207.3 502.63,203.0 502.95,200.2 503.13,203.1 503.63,211.3 503.98,217.0 504.13,215.9 504.63,212.2 505.02,209.2 505.13,210.2 505.63,214.6 506.06,218.3 506.13,217.7 506.63,213.5 506.83,211.8 507.13,216.3 507.61,223.5 507.63,223.1 508.13,211.4 508.39,205.4 508.63,202.4 509.13,196.1 509.17,195.6 509.63,203.7 509.94,209.2 510.13,209.7 510.63,211.0 510.98,211.8 511.13,213.3 511.63,218.3 512.02,222.2 512.13,223.0 512.63,226.8 513.05,230.0 513.13,230.3 513.63,232.1 514.09,233.9 514.13,230.4 514.15,228.7 514.63,231.9 514.92,233.9 515.13,232.3 515.63,228.6 515.70,228.0 516.13,230.5 516.48,232.6 516.63,231.7 517.13,228.9 517.52,226.7 517.63,227.5 518.13,230.8 518.29,231.9 518.63,234.0 519.13,237.1 519.33,238.4 519.63,236.2 520.13,232.4 520.37,230.6 520.63,229.2 521.13,226.3 521.40,224.8 521.63,226.5 522.13,230.2 522.18,230.6 522.63,227.6 522.96,225.4 523.13,225.7 523.63,226.3 524.00,226.7 524.13,226.2 524.63,224.0 525.03,222.2 525.13,221.7 525.63,219.2 526.07,217.0 526.13,216.6 526.63,212.8 527.11,209.2 527.13,209.4 527.63,213.6 527.88,215.7 528.13,210.4 528.63,199.6 528.66,198.9 529.13,198.3 529.63,197.7 530.13,197.0 530.22,196.9 530.63,202.8 530.99,207.9 531.13,209.5 531.63,215.4 531.77,217.0 532.13,214.3 532.63,210.6 532.81,209.2 533.13,205.6 533.63,200.0 533.84,197.6 534.13,191.6 534.62,181.4 534.63,181.5 535.13,192.0 535.40,197.6 535.63,195.7 536.13,191.6 536.44,189.2 536.63,190.7 537.13,194.8 537.47,197.6 537.63,196.0 538.13,191.0 538.25,189.8 538.63,198.6 539.03,207.9 539.13,208.3 539.63,210.2 540.06,211.8 540.13,212.0 540.63,213.2 541.10,214.4 541.13,214.5 541.63,216.4 542.13,218.3 542.14,218.3 542.63,224.1 543.13,230.1 543.17,230.6 543.63,224.6 543.95,220.3 544.13,219.7 544.63,218.1 544.99,217.0 545.13,215.1 545.63,208.2 546.02,202.8 546.13,200.7 546.63,190.7 546.80,187.2 547.13,185.0 547.58,182.0 547.63,181.5 548.13,175.6 548.36,173.0 548.63,179.1 549.13,190.3 549.39,196.3 549.63,196.5 550.13,196.9 550.17,196.9 550.63,186.6 551.13,175.4 551.21,173.6 551.63,177.5 552.13,182.2 552.24,183.3 552.63,187.2 553.13,192.2 553.28,193.7 553.63,195.7 554.06,198.2 554.13,197.0 554.63,188.3 554.84,184.6 555.13,190.5 555.61,200.2 555.63,200.3 556.13,203.4 556.63,206.5 556.65,206.7 557.13,203.5 557.43,201.5 557.63,202.7 558.13,205.8 558.46,207.9 558.63,206.0 559.13,200.2 559.24,198.9 559.63,193.1 560.13,185.6 560.28,183.3 560.63,180.3 561.13,175.9 561.32,174.3 561.63,172.5 562.13,169.7 562.35,168.4 562.63,167.4 563.13,165.5 563.39,164.5" fill="none" stroke="#0000ff" stroke-width="1.50" stroke-linejoin="round" stroke-linecap="round"/>
<polyline clip-path="url(#cpb)" points="458.63,239.3 459.54,211.8 460.44,186.6 461.22,205.4 462.13,188.5 463.03,215.7 463.81,204.7 464.72,205.4 465.63,217.0 466.40,223.5 467.31,217.0 468.22,231.9 469.25,223.5 470.29,224.8 471.85,214.4 473.14,205.4 474.44,187.9 475.47,198.9 476.51,180.7 477.29,193.7 478.33,185.9 479.36,197.6 480.40,207.9 481.31,179.4 482.21,193.7 482.99,177.5 483.77,197.6 484.55,209.2 485.32,180.1 486.10,204.1 487.14,207.9 488.17,198.9 489.21,209.2 490.25,201.5 491.28,204.7 492.32,206.7 493.36,189.8 494.39,196.3 495.43,185.9 496.47,197.6 497.24,185.3 498.28,200.2 499.32,185.9 500.10,210.5 501.13,191.1 501.91,209.2 502.95,200.2 503.98,217.0 505.02,209.2 506.06,218.3 506.83,211.8 507.61,223.5 508.39,205.4 509.17,195.6 509.94,209.2 510.98,211.8 512.02,222.2 513.05,230.0 514.09,233.9 514.15,228.7 514.92,233.9 515.70,228.0 516.48,232.6 517.52,226.7 518.29,231.9 519.33,238.4 520.37,230.6 521.40,224.8 522.18,230.6 522.96,225.4 524.00,226.7 525.03,222.2 526.07,217.0 527.11,209.2 527.88,215.7 528.66,198.9 530.22,196.9 530.99,207.9 531.77,217.0 532.81,209.2 533.84,197.6 534.62,181.4 535.40,197.6 536.44,189.2 537.47,197.6 538.25,189.8 539.03,207.9 540.06,211.8 541.10,214.4 542.14,218.3 543.17,230.6 543.95,220.3 544.99,217.0 546.02,202.8 546.80,187.2 547.58,182.0 548.36,173.0 549.39,196.3 550.17,196.9 551.21,173.6 552.24,183.3 553.28,193.7 554.06,198.2 554.84,184.6 555.61,200.2 556.65,206.7 557.43,201.5 558.46,207.9 559.24,198.9 560.28,183.3 561.32,174.3 562.35,168.4 563.39,164.5" fill="none" stroke="#0000ff" stroke-width="1.00" stroke-linejoin="round"/>
<polyline clip-path="url(#cpc)" points="117.37,286.9 119.65,288.7 121.40,302.7 123.33,317.6 125.09,310.6 127.02,308.5 128.77,318.5 130.70,349.2 132.46,364.1 134.21,367.6 136.14,341.3 137.89,324.6 139.82,315.0 141.58,305.3 143.51,301.5 145.26,308.8 147.19,318.5 148.95,327.3 150.88,339.5 152.63,350.9 154.56,375.5 156.32,367.6 158.25,361.5 160.00,358.0 161.93,347.8 163.68,351.8 165.61,348.3 167.37,352.7 176.67,372.9 178.77,378.7 181.05,378.1 184.04,376.4 185.79,376.6 187.19,378.3 189.82,378.1 193.33,377.4 196.84,378.5 204.74,378.5 205.00,378.5 207.46,376.6 209.91,378.5 212.89,378.1 214.65,377.3 216.93,365.9 218.68,365.9 220.44,369.4 222.37,374.6 224.12,373.8 226.05,378.1 229.56,378.1 231.49,365.0 233.42,363.6 235.18,362.4 236.93,372.9 238.86,343.1 240.61,342.2 242.54,336.6 244.30,349.2 246.23,335.2 247.98,343.9 249.91,367.6 251.67,356.2 253.60,367.6 255.35,376.4 257.28,358.8 259.04,360.6 260.96,347.4 262.72,341.3 264.65,348.3 266.40,343.1 268.33,322.9 270.26,321.6 272.02,349.2 273.77,353.6 275.70,359.4 277.46,359.7 279.39,360.1 281.14,376.4 283.07,374.6 284.82,372.4 286.75,377.3 288.51,360.6 290.44,342.2 292.19,343.9 294.12,342.2 295.88,378.5 297.81,358.3 299.56,360.9 300.00,361.5 301.40,361.8 303.16,369.0 304.91,370.2 306.67,361.8 308.60,373.8 310.35,377.3 312.28,371.1 314.04,365.0 315.96,347.4 317.72,347.8 319.65,358.0 321.40,350.1 323.33,351.3 325.09,372.9 326.84,371.6 328.77,376.4 330.53,374.3 332.46,372.9 334.21,362.9 336.14,374.6 337.89,339.5 339.82,329.0 341.58,326.0 343.51,341.3 345.26,333.8 347.19,346.0 348.95,342.2 350.88,363.2 352.63,373.8 354.56,377.3 356.32,376.9 358.25,354.5 360.00,336.6 361.93,348.3 363.68,351.8 365.61,348.7 367.37,367.3 369.30,342.5 371.05,343.9 372.98,373.8 374.74,372.0 376.67,369.4 378.42,376.4 380.35,378.1 382.11,377.3 384.04,366.7 385.79,338.3 387.72,335.5 389.47,328.1 391.23,347.1 393.16,349.2 394.91,357.1 395.00,354.5 396.40,374.3 398.16,371.6 399.91,378.1 406.40,378.5 408.16,372.9 409.91,359.7 411.84,347.1 413.60,343.9 415.35,355.9 417.11,350.1 419.04,362.4 420.79,367.6 422.72,375.5 424.47,378.5 428.33,378.7 430.09,377.8 432.72,378.1 433.95,366.7 435.70,349.2 437.46,346.6 439.21,359.4 440.96,344.3 442.72,343.6 444.47,362.4 446.40,363.2 448.16,366.7 450.09,378.5 456.40,378.5 458.16,367.6 459.91,366.7 461.67,372.0 463.77,375.5 465.53,378.5 468.68,378.3 472.19,378.3" fill="none" stroke="#ff0000" stroke-width="1.25" stroke-linejoin="round"/>
<polygon clip-path="url(#cpc)" points="459.04,376.8 459.54,367.6 459.91,360.4 460.04,362.6 460.54,369.2 460.79,373.2 461.04,368.8 461.54,359.4 461.67,357.3 462.04,363.3 462.54,371.2 462.54,370.9 463.04,356.9 463.07,356.5 463.54,366.9 463.77,373.2 464.04,370.8 464.54,366.3 464.65,364.5 465.04,369.6 465.53,374.8 465.54,374.9 466.04,372.5 466.54,369.7 466.58,369.3 467.04,372.1 467.54,375.3 467.63,375.6 468.04,374.2 468.54,371.7 468.68,371.3 469.04,372.8 469.54,374.4 470.04,376.4 470.09,376.7 470.54,376.7 471.04,376.9 471.54,377.1 472.04,377.0 472.11,377.3 472.54,375.9 473.04,374.4 473.54,372.6 473.86,371.3 474.04,372.9 474.54,376.0 474.74,377.6 475.04,377.6 475.54,377.7 476.04,377.7 476.54,377.7 477.04,377.8 477.54,377.9 478.04,377.8 478.54,377.9 478.77,377.9 479.04,378.0 479.54,377.9 480.04,377.7 480.54,377.7 481.04,377.4 481.54,377.7 481.93,377.4 482.04,376.5 482.54,371.3 482.81,368.5 483.04,370.0 483.54,373.9 483.68,375.0 484.04,372.4 484.54,369.7 484.56,369.1 485.04,372.6 485.44,375.8 485.54,375.7 486.04,376.1 486.54,376.2 487.04,376.2 487.19,376.3 487.54,376.8 488.04,377.3 488.42,377.4 488.54,377.5 489.04,377.4 489.54,377.5 490.04,377.3 490.54,377.3 491.04,377.4 491.54,377.3 491.93,377.2 492.04,376.9 492.54,376.8 493.04,376.6 493.54,376.1 494.04,376.0 494.21,375.7 494.54,373.4 495.04,369.8 495.09,369.2 495.54,372.1 495.96,374.6 496.04,374.4 496.54,372.1 496.67,371.3 497.04,373.6 497.54,376.4 497.72,377.5 498.04,377.5 498.54,377.7 499.04,377.5 499.54,377.6 500.04,377.6 500.54,377.8 501.04,377.6 501.54,377.5 502.04,377.7 502.54,377.9 503.04,377.6 503.54,377.8 504.04,377.9 504.54,377.8 505.04,377.7 505.09,378.0 505.54,377.7 506.04,377.5 506.54,377.2 507.04,377.3 507.54,377.0 508.04,376.8 508.54,376.6 508.60,376.5 509.04,376.7 509.54,376.9 510.04,377.1 510.54,377.3 511.04,377.2 511.54,377.6 512.04,377.8 512.11,377.6 512.54,377.6 513.04,377.4 513.54,377.5 514.04,377.2 514.54,377.2 515.04,376.9 515.54,377.0 516.04,376.8 516.49,376.8 516.54,376.8 517.04,376.9 517.54,376.8 518.04,377.1 518.54,377.2 519.04,377.1 519.54,377.3 520.00,377.3 520.04,377.6 520.54,377.4 521.04,376.8 521.54,377.0 522.04,376.5 522.54,376.2 523.04,376.1 523.54,376.0 524.04,375.8 524.54,376.7 525.04,377.6 525.26,378.0 525.54,377.8 526.04,377.8 526.54,377.3 527.04,377.1 527.54,377.3 528.04,377.1 528.54,376.8 529.04,376.8 529.54,376.8 529.65,376.5 530.04,376.8 530.54,376.9 531.04,377.0 531.54,377.4 532.04,377.4 532.28,377.6 532.54,376.7 533.04,375.3 533.54,373.5 534.04,372.2 534.54,370.1 534.56,370.6 535.04,370.8 535.54,371.1 535.79,371.4 536.04,372.7 536.54,374.7 537.02,376.7 537.04,376.5 537.54,376.1 538.04,375.9 538.54,375.5 539.04,374.8 539.30,374.9 539.54,375.4 540.04,376.1 540.54,376.6 541.04,377.5 541.05,377.5 541.54,377.5 542.04,377.5 542.54,377.2 543.04,377.3 543.54,377.2 543.68,377.2 544.04,376.7 544.54,375.3 545.04,374.4 545.44,374.1 545.54,373.9 546.04,372.6 546.54,370.8 546.84,370.5 547.04,369.2 547.54,367.5 548.04,365.2 548.25,363.9 548.54,366.3 549.04,370.4 549.30,372.3 549.54,372.3 550.04,372.8 550.54,373.1 550.70,373.2 551.04,371.5 551.54,369.6 552.04,367.4 552.11,367.1 552.54,368.9 553.04,372.0 553.16,373.1 553.54,370.4 554.04,366.5 554.21,364.7 554.54,365.0 555.04,364.3 555.26,364.3 555.54,368.4 555.96,374.6 556.04,374.9 556.54,375.3 557.04,375.3 557.54,375.4 557.72,375.7 558.04,376.2 558.54,376.4 559.04,376.9 559.47,377.3 559.54,377.5 560.04,377.0 560.54,377.1 561.04,376.7 561.23,376.4 561.54,375.2 562.04,373.4 562.54,371.7 562.63,371.3 563.04,372.6 563.51,374.1 563.51,375.1 563.04,374.2 562.63,372.7 562.54,373.0 562.04,375.1 561.54,376.6 561.23,377.8 561.04,378.0 560.54,378.1 560.04,378.4 559.54,378.9 559.47,378.6 559.04,378.4 558.54,377.9 558.04,377.3 557.72,376.9 557.54,377.2 557.04,376.6 556.54,376.3 556.04,376.3 555.96,376.1 555.54,369.9 555.26,366.7 555.04,366.5 554.54,366.4 554.21,366.6 554.04,367.7 553.54,371.7 553.16,374.3 553.04,374.1 552.54,370.7 552.11,368.4 552.04,368.8 551.54,370.6 551.04,373.0 550.70,374.5 550.54,374.2 550.04,374.4 549.54,373.6 549.30,373.5 549.04,371.4 548.54,367.8 548.25,366.4 548.04,366.7 547.54,369.0 547.04,371.4 546.84,371.8 546.54,372.8 546.04,373.7 545.54,375.3 545.44,375.4 545.04,376.0 544.54,377.0 544.04,377.9 543.68,378.3 543.54,378.4 543.04,378.6 542.54,378.5 542.04,378.8 541.54,378.8 541.05,378.8 541.04,379.0 540.54,377.9 540.04,377.1 539.54,376.4 539.30,376.0 539.04,376.4 538.54,376.8 538.04,377.1 537.54,377.7 537.04,377.9 537.02,378.1 536.54,375.9 536.04,374.0 535.79,373.2 535.54,372.7 535.04,372.1 534.56,371.8 534.54,371.7 534.04,373.4 533.54,374.8 533.04,376.6 532.54,378.0 532.28,378.6 532.04,378.7 531.54,378.6 531.04,378.4 530.54,378.1 530.04,377.9 529.65,377.8 529.54,377.9 529.04,378.2 528.54,378.2 528.04,378.4 527.54,378.6 527.04,378.7 526.54,378.7 526.04,378.9 525.54,378.9 525.26,379.0 525.04,378.7 524.54,377.9 524.04,377.1 523.54,377.1 523.04,377.3 522.54,377.7 522.04,377.8 521.54,378.0 521.04,378.3 520.54,378.5 520.04,378.8 520.00,378.9 519.54,378.6 519.04,378.5 518.54,378.3 518.04,378.2 517.54,378.3 517.04,377.9 516.54,377.8 516.49,377.8 516.04,377.9 515.54,378.2 515.04,378.1 514.54,378.3 514.04,378.4 513.54,378.6 513.04,378.7 512.54,379.0 512.11,378.9 512.04,378.8 511.54,379.0 511.04,378.5 510.54,378.5 510.04,378.6 509.54,378.2 509.04,378.1 508.60,377.8 508.54,377.9 508.04,378.3 507.54,378.3 507.04,378.3 506.54,378.5 506.04,378.8 505.54,379.1 505.09,379.1 505.04,379.2 504.54,379.0 504.04,379.0 503.54,379.0 503.04,379.1 502.54,379.0 502.04,379.2 501.54,379.1 501.04,378.8 500.54,378.8 500.04,378.8 499.54,378.9 499.04,378.8 498.54,378.7 498.04,378.7 497.72,378.6 497.54,377.6 497.04,374.7 496.67,372.6 496.54,373.2 496.04,375.9 495.96,376.3 495.54,373.3 495.09,370.5 495.04,370.9 494.54,375.0 494.21,376.9 494.04,377.3 493.54,377.5 493.04,377.7 492.54,377.9 492.04,378.3 491.93,378.3 491.54,378.3 491.04,378.4 490.54,378.5 490.04,378.6 489.54,378.5 489.04,378.6 488.54,378.6 488.42,379.0 488.04,378.5 487.54,378.1 487.19,377.7 487.04,377.7 486.54,377.4 486.04,377.1 485.54,376.9 485.44,377.1 485.04,374.2 484.56,371.3 484.54,371.0 484.04,374.4 483.68,376.0 483.54,374.9 483.04,371.9 482.81,369.7 482.54,372.9 482.04,377.6 481.93,378.7 481.54,378.8 481.04,378.7 480.54,378.8 480.04,379.1 479.54,378.9 479.04,379.0 478.77,379.2 478.54,379.2 478.04,379.1 477.54,379.2 477.04,379.0 476.54,378.8 476.04,378.9 475.54,378.8 475.04,378.7 474.74,378.6 474.54,377.4 474.04,374.4 473.86,373.2 473.54,373.9 473.04,375.6 472.54,377.0 472.11,378.3 472.04,378.3 471.54,378.4 471.04,378.3 470.54,378.1 470.09,377.8 470.04,377.6 469.54,375.7 469.04,374.1 468.68,372.7 468.54,373.4 468.04,375.2 467.63,377.3 467.54,376.5 467.04,373.4 466.58,370.8 466.54,371.1 466.04,373.5 465.54,376.2 465.53,376.1 465.04,370.7 464.65,366.5 464.54,367.7 464.04,371.9 463.77,374.5 463.54,369.2 463.07,358.5 463.04,358.8 462.54,373.1 462.54,372.4 462.04,365.1 461.67,358.6 461.54,360.9 461.04,370.1 460.79,374.3 460.54,370.7 460.04,363.8 459.91,362.1 459.54,369.0 459.04,378.1" fill="#0000ff"/>
<polyline clip-path="url(#cpc)" points="459.04,377.3 459.54,368.3 459.91,361.5" fill="none" stroke="#0000ff" stroke-width="1.25" stroke-linejoin="round" stroke-linecap="round"/>
<polyline clip-path="url(#cpc)" points="459.91,361.5 460.04,363.2 460.54,370.2" fill="none" stroke="#0000ff" stroke-width="1.50" stroke-linejoin="round" stroke-linecap="round"/>
<polyline clip-path="url(#cpc)" points="460.54,370.2 460.79,373.8 461.04,369.3 461.54,360.3" fill="none" stroke="#0000ff" stroke-width="1.25" stroke-linejoin="round" stroke-linecap="round"/>
<polyline clip-path="url(#cpc)" points="461.54,360.3 461.67,358.0 462.04,363.9 462.54,371.9" fill="none" stroke="#0000ff" stroke-width="1.50" stroke-linejoin="round" stroke-linecap="round"/>
<polyline clip-path="url(#cpc)" points="462.54,371.9 462.54,372.0 463.04,358.1" fill="none" stroke="#0000ff" stroke-width="1.25" stroke-linejoin="round" stroke-linecap="round"/>
<polyline clip-path="url(#cpc)" points="463.04,358.1 463.07,357.1 463.54,368.1" fill="none" stroke="#0000ff" stroke-width="1.50" stroke-linejoin="round" stroke-linecap="round"/>
<polyline clip-path="url(#cpc)" points="463.54,368.1 463.77,373.8 464.04,371.4 464.54,366.9 464.65,365.9" fill="none" stroke="#0000ff" stroke-width="1.25" stroke-linejoin="round" stroke-linecap="round"/>
<polyline clip-path="url(#cpc)" points="464.65,365.9 465.04,370.1" fill="none" stroke="#0000ff" stroke-width="1.50" stroke-linejoin="round" stroke-linecap="round"/>
<polyline clip-path="url(#cpc)" points="465.04,370.1 465.53,375.5 465.54,375.5 466.04,373.0 466.54,370.5 466.58,370.2 467.04,372.9 467.54,375.8 467.63,376.4 468.04,374.7 468.54,372.6 468.68,372.0 469.04,373.3 469.54,375.2 470.04,377.1 470.09,377.3 470.54,377.4 471.04,377.5 471.54,377.6 472.04,377.8 472.11,377.8 472.54,376.5 473.04,374.9 473.54,373.4 473.86,372.4 474.04,373.5 474.54,376.8 474.74,378.1 475.04,378.2 475.54,378.2 476.04,378.3 476.54,378.3 477.04,378.3 477.54,378.4 478.04,378.4 478.54,378.5 478.77,378.5 479.04,378.5 479.54,378.4 480.04,378.4 480.54,378.3 481.04,378.2 481.54,378.2 481.93,378.1 482.04,377.0 482.54,371.8 482.81,369.0 483.04,370.7 483.54,374.4 483.68,375.5 484.04,373.4 484.54,370.4 484.56,370.2 485.04,373.6 485.44,376.4 485.54,376.4 486.04,376.6 486.54,376.7 487.04,376.9 487.19,376.9 487.54,377.3 488.04,377.8 488.42,378.1 488.54,378.1 489.04,378.1 489.54,378.0 490.04,378.0 490.54,377.9 491.04,377.9 491.54,377.8 491.93,377.8 492.04,377.7 492.54,377.4 493.04,377.1 493.54,376.8 494.04,376.5 494.21,376.4 494.54,374.0 495.04,370.3 495.09,369.9 495.54,372.8 495.96,375.5 496.04,375.2 496.54,372.7 496.67,372.0 497.04,374.1 497.54,377.1 497.72,378.1 498.04,378.2 498.54,378.2 499.04,378.2 499.54,378.2 500.04,378.3 500.54,378.3 501.04,378.3 501.54,378.3 502.04,378.3 502.54,378.4 503.04,378.4 503.54,378.4 504.04,378.4 504.54,378.5 505.04,378.5 505.09,378.5 505.54,378.3 506.04,378.2 506.54,378.0 507.04,377.8 507.54,377.6 508.04,377.5 508.54,377.3 508.60,377.3 509.04,377.4 509.54,377.5 510.04,377.7 510.54,377.8 511.04,378.0 511.54,378.1 512.04,378.3 512.11,378.3 512.54,378.2 513.04,378.1 513.54,378.0 514.04,377.9 514.54,377.7 515.04,377.6 515.54,377.5 516.04,377.4 516.49,377.3 516.54,377.3 517.04,377.4 517.54,377.5 518.04,377.6 518.54,377.8 519.04,377.9 519.54,378.0 520.00,378.1 520.04,378.1 520.54,377.9 521.04,377.7 521.54,377.5 522.04,377.3 522.54,377.0 523.04,376.8 523.54,376.6 524.04,376.4 524.54,377.2 525.04,378.1 525.26,378.5 525.54,378.4 526.04,378.3 526.54,378.1 527.04,378.0 527.54,377.9 528.04,377.7 528.54,377.6 529.04,377.4 529.54,377.3 529.65,377.3 530.04,377.4 530.54,377.6 531.04,377.7 531.54,377.9 532.04,378.1 532.28,378.1 532.54,377.4 533.04,375.8 533.54,374.3 534.04,372.7 534.54,371.2 534.56,371.1 535.04,371.6 535.54,372.1 535.79,372.4 536.04,373.3 536.54,375.3 537.02,377.3 537.04,377.2 537.54,376.9 538.04,376.5 538.54,376.1 539.04,375.7 539.30,375.5 539.54,375.9 540.04,376.6 540.54,377.4 541.04,378.1 541.05,378.1 541.54,378.1 542.04,378.0 542.54,377.9 543.04,377.9 543.54,377.8 543.68,377.8 544.04,377.2 544.54,376.3 545.04,375.4 545.44,374.6 545.54,374.4 546.04,373.1 546.54,371.9 546.84,371.1 547.04,370.3 547.54,368.1 548.04,365.9" fill="none" stroke="#0000ff" stroke-width="1.25" stroke-linejoin="round" stroke-linecap="round"/>
<polyline clip-path="url(#cpc)" points="548.04,365.9 548.25,365.0 548.54,367.2" fill="none" stroke="#0000ff" stroke-width="1.50" stroke-linejoin="round" stroke-linecap="round"/>
<polyline clip-path="url(#cpc)" points="548.54,367.2 549.04,370.9 549.30,372.9 549.54,373.0 550.04,373.3 550.54,373.7 550.70,373.8 551.04,372.3 551.54,370.1 552.04,367.9 552.11,367.6 552.54,370.1 553.04,373.0 553.16,373.8 553.54,370.9 554.04,367.2 554.21,365.9" fill="none" stroke="#0000ff" stroke-width="1.25" stroke-linejoin="round" stroke-linecap="round"/>
<polyline clip-path="url(#cpc)" points="554.21,365.9 554.54,365.8 555.04,365.6 555.26,365.5 555.54,369.4" fill="none" stroke="#0000ff" stroke-width="1.50" stroke-linejoin="round" stroke-linecap="round"/>
<polyline clip-path="url(#cpc)" points="555.54,369.4 555.96,375.5 556.04,375.5 556.54,375.8 557.04,376.0 557.54,376.3 557.72,376.4 558.04,376.7 558.54,377.2 559.04,377.7 559.47,378.1 559.54,378.1 560.04,377.9 560.54,377.6 561.04,377.4 561.23,377.3 561.54,376.1 562.04,374.2 562.54,372.4 562.63,372.0 563.04,373.2 563.51,374.6" fill="none" stroke="#0000ff" stroke-width="1.25" stroke-linejoin="round" stroke-linecap="round"/>
<polyline clip-path="url(#cpc)" points="459.04,377.3 459.91,361.5 460.79,373.8 461.67,358.0 462.54,372.0 463.07,357.1 463.77,373.8 464.65,365.9 465.53,375.5 466.58,370.2 467.63,376.4 468.68,372.0 470.09,377.3 472.11,377.8 473.86,372.4 474.74,378.1 478.77,378.5 481.93,378.1 482.81,369.0 483.68,375.5 484.56,370.2 485.44,376.4 487.19,376.9 488.42,378.1 491.93,377.8 494.21,376.4 495.09,369.9 495.96,375.5 496.67,372.0 497.72,378.1 505.09,378.5 508.60,377.3 512.11,378.3 516.49,377.3 520.00,378.1 524.04,376.4 525.26,378.5 529.65,377.3 532.28,378.1 534.56,371.1 535.79,372.4 537.02,377.3 539.30,375.5 541.05,378.1 543.68,377.8 545.44,374.6 546.84,371.1 548.25,365.0 549.30,372.9 550.70,373.8 552.11,367.6 553.16,373.8 554.21,365.9 555.26,365.5 555.96,375.5 557.72,376.4 559.47,378.1 561.23,377.3 562.63,372.0 563.51,374.6" fill="none" stroke="#0000ff" stroke-width="1.00" stroke-linejoin="round"/>
<polyline clip-path="url(#cpd)" points="117.37,490.4 119.65,492.1 121.40,489.6 125.09,484.2 127.02,487.0 128.77,489.1 130.70,493.9 132.46,494.7 134.21,488.6 136.14,491.4 137.89,488.6 139.82,493.9 141.58,492.3 143.51,490.4 145.26,492.1 147.19,491.8 148.95,490.4 150.88,492.3 152.63,494.0 156.32,495.6 158.25,491.8 160.00,487.4 161.93,480.7 163.68,476.8 165.61,485.6 176.67,481.2 178.77,496.1 181.58,496.1 183.68,486.5 185.44,485.6 187.37,477.4 189.30,485.3 191.05,476.3 192.98,478.2 194.74,482.1 196.67,477.2 198.42,470.7 200.35,456.3 202.11,465.8 205.79,458.9 207.54,468.1 208.16,468.1 209.91,477.7 211.67,483.9 213.60,472.5 215.35,460.5 217.28,465.4 219.04,465.1 220.96,466.3 222.72,474.2 224.65,479.5 226.40,464.6 228.33,468.1 230.09,469.8 232.02,466.7 233.77,464.0 235.70,468.1 237.46,470.4 239.39,460.5 241.14,467.2 243.07,472.8 244.82,476.5 246.75,471.2 248.51,472.5 250.44,461.9 252.19,448.8 253.95,450.5 255.88,461.9 257.63,462.8 259.56,463.7 261.32,471.6 263.25,478.1 265.00,467.2 266.93,458.9 268.68,468.9 270.61,457.5 272.37,468.9 274.30,467.2 276.05,461.6 277.98,461.9 279.74,455.8 281.67,451.8 283.42,459.3 285.35,445.8 287.11,439.6 288.86,460.2 290.79,487.4 292.54,460.2 294.47,459.8 296.23,470.7 298.16,461.6 299.91,462.3 301.40,476.0 303.16,445.3 304.91,457.5 306.67,479.5 308.60,485.3 310.35,476.3 312.28,486.5 314.04,492.3 315.96,482.1 317.72,493.5 319.65,491.8 321.40,479.5 323.33,465.8 325.09,476.3 326.84,454.6 328.77,455.8 330.53,456.7 332.46,471.1 334.21,468.1 336.14,481.2 337.89,462.8 339.82,455.8 341.58,447.5 343.51,476.0 345.26,480.4 347.19,480.9 348.95,479.5 350.88,483.0 352.63,489.1 354.56,492.3 356.32,479.8 358.25,479.5 360.00,489.1 361.93,491.8 363.68,482.1 365.61,490.0 367.37,493.9 369.30,482.5 371.05,481.8 372.98,486.0 374.74,481.8 376.67,479.1 378.42,487.0 380.35,481.2 382.11,477.2 384.04,477.7 385.79,483.0 387.72,483.5 389.47,485.6 391.23,490.0 393.16,472.8 394.91,479.8 395.00,479.8 396.40,481.8 398.16,482.5 399.91,481.2 402.02,487.9 404.12,481.2 405.88,478.2 407.63,490.0 409.56,491.8 411.32,489.6 413.07,489.6 415.00,453.5 416.75,486.5 418.68,486.1 420.44,487.0 422.37,489.6 424.12,492.1 426.05,494.9 427.81,494.9 429.74,493.2 431.49,490.9 433.25,494.4 435.18,492.6 436.93,490.9 438.86,493.5 440.61,492.6 442.54,492.3 444.30,491.8 446.23,492.1 447.98,493.2 449.91,490.9 451.67,491.4 453.42,490.4 455.35,484.7 457.28,479.5 459.04,474.7 460.96,477.7 462.72,483.0 464.65,480.4 466.40,487.4 468.33,490.9 470.09,492.3 471.84,487.4" fill="none" stroke="#ff0000" stroke-width="1.25" stroke-linejoin="round"/>
<polygon clip-path="url(#cpd)" points="458.51,489.8 459.01,485.5 459.51,480.8 459.56,480.7 460.01,477.7 460.51,475.8 460.79,474.4 461.01,476.6 461.51,482.4 461.67,483.5 462.01,481.7 462.51,479.9 462.72,478.9 463.01,480.5 463.51,482.7 463.77,485.1 464.01,484.1 464.51,482.6 464.82,481.4 465.01,481.5 465.51,484.3 465.88,486.0 466.01,485.3 466.51,483.4 466.93,482.4 467.01,482.9 467.51,485.3 467.98,487.3 468.01,487.5 468.51,486.4 469.01,484.8 469.04,485.1 469.51,486.5 470.01,488.3 470.09,488.6 470.51,487.4 471.01,486.2 471.51,484.7 471.75,484.2 472.01,482.4 472.51,480.9 473.01,479.3 473.51,478.0 474.01,476.1 474.51,475.1 474.91,475.5 475.01,475.7 475.51,477.4 475.96,478.9 476.01,478.1 476.51,474.9 477.01,473.1 477.02,473.2 477.51,473.7 478.01,474.5 478.42,476.1 478.51,476.6 479.01,479.6 479.47,482.3 479.51,482.2 480.01,480.2 480.51,477.2 480.53,477.8 481.01,478.2 481.51,479.1 481.93,479.2 482.01,480.0 482.51,480.2 483.01,481.0 483.33,482.5 483.51,481.9 484.01,480.8 484.51,478.9 484.74,478.7 485.01,479.1 485.51,478.6 486.01,478.9 486.14,479.8 486.51,478.4 487.01,477.9 487.51,476.3 487.54,476.6 488.01,477.4 488.51,478.2 488.95,478.7 489.01,479.0 489.51,478.9 490.01,480.1 490.35,480.5 490.51,480.3 491.01,482.0 491.51,483.9 491.75,484.7 492.01,484.1 492.51,483.4 493.01,482.4 493.16,481.8 493.51,482.0 494.01,480.5 494.51,480.7 494.56,480.7 495.01,479.2 495.51,478.0 495.96,476.9 496.01,476.3 496.51,476.5 497.01,475.9 497.37,475.4 497.51,474.9 498.01,474.4 498.51,473.2 498.77,473.2 499.01,473.7 499.51,473.7 500.01,474.9 500.18,475.3 500.51,474.6 501.01,472.4 501.51,471.6 501.58,471.9 502.01,472.7 502.51,472.7 502.98,475.1 503.01,475.2 503.51,476.6 504.01,477.9 504.39,479.0 504.51,478.9 505.01,478.9 505.51,479.4 505.79,479.9 506.01,480.2 506.51,478.9 507.01,478.4 507.19,477.4 507.51,476.6 508.01,474.0 508.51,472.2 508.60,471.7 509.01,471.0 509.51,469.9 509.65,470.1 510.01,472.0 510.51,474.1 510.70,474.7 511.01,476.3 511.51,476.9 512.01,479.4 512.11,479.7 512.51,480.5 513.01,480.6 513.51,482.4 514.01,481.5 514.51,481.0 514.91,479.7 515.01,480.9 515.51,480.9 516.01,482.7 516.32,482.8 516.51,483.1 517.01,482.0 517.51,481.8 517.72,481.6 518.01,482.3 518.51,483.6 519.01,484.1 519.12,485.0 519.51,484.3 520.01,482.9 520.51,482.3 520.53,482.1 521.01,481.5 521.51,480.6 521.93,479.8 522.01,479.9 522.51,480.4 523.01,480.8 523.33,481.5 523.51,481.2 524.01,480.3 524.51,479.3 524.74,478.7 525.01,477.9 525.51,475.4 526.01,473.1 526.14,473.3 526.51,472.2 527.01,469.1 527.51,468.6 527.54,468.4 528.01,466.4 528.51,465.0 528.95,464.7 529.01,465.0 529.51,465.0 530.01,466.1 530.35,465.5 530.51,467.4 531.01,469.2 531.51,471.7 531.75,471.6 532.01,470.7 532.51,470.0 533.01,468.2 533.16,467.3 533.51,465.1 534.01,463.6 534.51,460.7 534.56,459.4 535.01,461.3 535.51,462.0 535.96,461.4 536.01,462.7 536.51,461.6 537.01,461.2 537.37,460.5 537.51,459.6 538.01,462.3 538.51,465.5 538.77,465.3 539.01,466.5 539.51,469.8 540.01,471.0 540.18,472.8 540.51,473.4 541.01,473.4 541.51,475.0 541.58,475.3 542.01,476.7 542.51,478.3 542.98,479.8 543.01,479.6 543.51,478.0 544.01,476.6 544.39,474.8 544.51,474.9 545.01,472.7 545.51,469.4 545.79,469.1 546.01,467.7 546.51,463.7 546.84,461.4 547.01,461.1 547.51,458.3 548.01,459.2 548.25,457.7 548.51,460.0 549.01,463.2 549.30,463.6 549.51,465.2 550.01,467.3 550.35,468.3 550.51,466.4 551.01,462.1 551.40,458.7 551.51,459.1 552.01,461.2 552.46,462.8 552.51,461.6 553.01,463.8 553.51,466.7 553.86,467.2 554.01,468.7 554.51,469.1 555.01,469.7 555.26,471.0 555.51,471.1 556.01,472.1 556.51,473.4 556.67,472.4 557.01,474.0 557.51,474.4 558.01,475.4 558.07,475.2 558.51,475.5 559.01,475.1 559.47,476.3 559.51,475.3 560.01,474.1 560.51,471.1 560.53,471.2 561.01,470.6 561.51,470.0 561.93,469.1 562.01,468.4 562.51,467.4 563.01,466.1 563.51,463.8 563.51,465.8 563.01,467.3 562.51,468.6 562.01,470.5 561.93,471.2 561.51,472.2 561.01,472.1 560.53,473.3 560.51,474.3 560.01,475.7 559.51,477.2 559.47,477.9 559.01,477.8 558.51,477.5 558.07,477.2 558.01,477.1 557.51,476.0 557.01,475.1 556.67,474.8 556.51,475.5 556.01,474.0 555.51,472.5 555.26,472.1 555.01,471.9 554.51,470.8 554.01,469.7 553.86,470.1 553.51,469.3 553.01,466.3 552.51,464.6 552.46,464.7 552.01,463.5 551.51,460.3 551.40,459.8 551.01,464.1 550.51,468.0 550.35,471.0 550.01,468.4 549.51,467.9 549.30,466.2 549.01,465.3 548.51,461.5 548.25,460.1 548.01,460.3 547.51,461.3 547.01,462.3 546.84,462.4 546.51,465.4 546.01,470.1 545.79,470.9 545.51,471.8 545.01,473.8 544.51,476.2 544.39,476.7 544.01,477.7 543.51,479.9 543.01,481.1 542.98,481.8 542.51,479.7 542.01,478.7 541.58,476.6 541.51,476.3 541.01,476.3 540.51,474.5 540.18,474.9 540.01,473.5 539.51,471.7 539.01,469.1 538.77,467.8 538.51,467.6 538.01,465.1 537.51,462.2 537.37,461.8 537.01,464.0 536.51,463.8 536.01,464.3 535.96,464.2 535.51,464.8 535.01,462.4 534.56,462.2 534.51,463.1 534.01,464.9 533.51,468.2 533.16,469.9 533.01,470.5 532.51,471.8 532.01,473.0 531.75,473.9 531.51,473.9 531.01,470.6 530.51,468.7 530.35,468.8 530.01,467.3 529.51,466.8 529.01,466.1 528.95,466.4 528.51,467.2 528.01,468.4 527.54,470.6 527.51,470.2 527.01,472.5 526.51,473.4 526.14,476.0 526.01,475.7 525.51,477.1 525.01,479.0 524.74,480.3 524.51,480.4 524.01,481.4 523.51,483.0 523.33,482.6 523.01,482.2 522.51,482.4 522.01,482.0 521.93,480.9 521.51,481.9 521.01,482.6 520.53,484.2 520.51,483.6 520.01,484.5 519.51,485.4 519.12,486.2 519.01,486.1 518.51,484.6 518.01,483.7 517.72,482.9 517.51,483.0 517.01,483.5 516.51,484.1 516.32,485.0 516.01,483.9 515.51,483.5 515.01,481.9 514.91,482.5 514.51,482.2 514.01,482.9 513.51,483.7 513.01,483.0 512.51,481.6 512.11,481.8 512.01,481.0 511.51,479.9 511.01,477.6 510.70,476.7 510.51,475.8 510.01,473.2 509.65,471.3 509.51,471.5 509.01,472.6 508.60,473.7 508.51,473.7 508.01,475.8 507.51,477.8 507.19,479.1 507.01,479.6 506.51,480.4 506.01,481.3 505.79,481.7 505.51,481.6 505.01,480.9 504.51,480.7 504.39,480.4 504.01,478.9 503.51,477.8 503.01,476.4 502.98,476.3 502.51,475.3 502.01,474.0 501.58,473.0 501.51,473.1 501.01,474.5 500.51,476.0 500.18,476.5 500.01,476.8 499.51,475.5 499.01,475.9 498.77,474.4 498.51,474.9 498.01,476.8 497.51,477.2 497.37,476.7 497.01,477.2 496.51,477.9 496.01,478.8 495.96,478.6 495.51,479.9 495.01,481.0 494.56,481.9 494.51,482.8 494.01,482.4 493.51,483.0 493.16,483.6 493.01,484.2 492.51,485.4 492.01,485.7 491.75,486.1 491.51,485.4 491.01,483.8 490.51,482.2 490.35,481.8 490.01,481.3 489.51,481.2 489.01,480.2 488.95,480.7 488.51,479.3 488.01,479.4 487.54,477.7 487.51,478.8 487.01,479.0 486.51,480.1 486.14,481.3 486.01,480.9 485.51,481.1 485.01,480.4 484.74,480.0 484.51,480.7 484.01,482.2 483.51,483.3 483.33,483.6 483.01,483.7 482.51,482.1 482.01,481.0 481.93,481.7 481.51,480.3 481.01,480.0 480.53,479.2 480.51,479.2 480.01,481.8 479.51,483.5 479.47,483.9 479.01,481.2 478.51,479.0 478.42,477.5 478.01,476.5 477.51,475.4 477.02,474.6 477.01,474.8 476.51,478.1 476.01,479.7 475.96,480.3 475.51,479.0 475.01,477.7 474.91,477.6 474.51,478.4 474.01,478.6 473.51,479.1 473.01,480.9 472.51,483.6 472.01,484.9 471.75,485.3 471.51,486.0 471.01,487.2 470.51,488.7 470.09,489.7 470.01,489.9 469.51,487.7 469.04,486.9 469.01,486.4 468.51,487.6 468.01,489.3 467.98,488.8 467.51,486.9 467.01,484.2 466.93,483.5 466.51,485.5 466.01,487.0 465.88,487.1 465.51,486.2 465.01,483.4 464.82,482.6 464.51,483.7 464.01,485.4 463.77,486.8 463.51,484.6 463.01,481.9 462.72,480.0 462.51,481.1 462.01,483.7 461.67,485.5 461.51,483.6 461.01,478.1 460.79,476.5 460.51,477.0 460.01,479.6 459.56,482.5 459.51,482.2 459.01,486.8 458.51,491.7" fill="#0000ff"/>
<polyline clip-path="url(#cpd)" points="458.51,490.9 459.01,486.3 459.51,481.7" fill="none" stroke="#0000ff" stroke-width="1.25" stroke-linejoin="round" stroke-linecap="round"/>
<polyline clip-path="url(#cpd)" points="459.51,481.7 459.56,481.2 460.01,479.0 460.51,476.5 460.79,475.1 461.01,477.5 461.51,483.0 461.67,484.7" fill="none" stroke="#0000ff" stroke-width="1.50" stroke-linejoin="round" stroke-linecap="round"/>
<polyline clip-path="url(#cpd)" points="461.67,484.7 462.01,483.0" fill="none" stroke="#0000ff" stroke-width="1.25" stroke-linejoin="round" stroke-linecap="round"/>
<polyline clip-path="url(#cpd)" points="462.01,483.0 462.51,480.5 462.72,479.5 463.01,481.2 463.51,484.1" fill="none" stroke="#0000ff" stroke-width="1.50" stroke-linejoin="round" stroke-linecap="round"/>
<polyline clip-path="url(#cpd)" points="463.51,484.1 463.77,485.6 464.01,484.8 464.51,483.2" fill="none" stroke="#0000ff" stroke-width="1.25" stroke-linejoin="round" stroke-linecap="round"/>
<polyline clip-path="url(#cpd)" points="464.51,483.2 464.82,482.1 465.01,482.9 465.51,485.0" fill="none" stroke="#0000ff" stroke-width="1.50" stroke-linejoin="round" stroke-linecap="round"/>
<polyline clip-path="url(#cpd)" points="465.51,485.0 465.88,486.5 466.01,486.1 466.51,484.4 466.93,483.0" fill="none" stroke="#0000ff" stroke-width="1.25" stroke-linejoin="round" stroke-linecap="round"/>
<polyline clip-path="url(#cpd)" points="466.93,483.0 467.01,483.4 467.51,485.9" fill="none" stroke="#0000ff" stroke-width="1.50" stroke-linejoin="round" stroke-linecap="round"/>
<polyline clip-path="url(#cpd)" points="467.51,485.9 467.98,488.2 468.01,488.2 468.51,486.9 469.01,485.7 469.04,485.6 469.51,487.2 470.01,488.9 470.09,489.1 470.51,488.0 471.01,486.7 471.51,485.4 471.75,484.7 472.01,483.8" fill="none" stroke="#0000ff" stroke-width="1.25" stroke-linejoin="round" stroke-linecap="round"/>
<polyline clip-path="url(#cpd)" points="472.01,483.8 472.51,482.1 473.01,480.3 473.51,478.6 474.01,477.7 474.51,476.7 474.91,476.0 475.01,476.3 475.51,478.0 475.96,479.5 476.01,479.2 476.51,476.6 477.01,473.9 477.02,473.9 477.51,474.9 478.01,476.0 478.42,476.8 478.51,477.4 479.01,480.3 479.47,483.0 479.51,482.8 480.01,480.8 480.51,478.7 480.53,478.6 481.01,479.2 481.51,479.8 481.93,480.4 482.01,480.5 482.51,481.4 483.01,482.4 483.33,483.0 483.51,482.5 484.01,481.3 484.51,480.0 484.74,479.5 485.01,479.6 485.51,480.0 486.01,480.3 486.14,480.4 486.51,479.5 487.01,478.4 487.51,477.3 487.54,477.2 488.01,477.9 488.51,478.8 488.95,479.5 489.01,479.6 489.51,480.2 490.01,480.8 490.35,481.2 490.51,481.7 491.01,483.3 491.51,484.8" fill="none" stroke="#0000ff" stroke-width="1.50" stroke-linejoin="round" stroke-linecap="round"/>
<polyline clip-path="url(#cpd)" points="491.51,484.8 491.75,485.6 492.01,485.1 492.51,484.2 493.01,483.3" fill="none" stroke="#0000ff" stroke-width="1.25" stroke-linejoin="round" stroke-linecap="round"/>
<polyline clip-path="url(#cpd)" points="493.01,483.3 493.16,483.0 493.51,482.5 494.01,481.9 494.51,481.3 494.56,481.2 495.01,480.1 495.51,478.9 495.96,477.7 496.01,477.7 496.51,477.0 497.01,476.4 497.37,476.0 497.51,475.8 498.01,475.0 498.51,474.3 498.77,473.9 499.01,474.2 499.51,475.0 500.01,475.7 500.18,476.0 500.51,475.1 501.01,473.9 501.51,472.6 501.58,472.5 502.01,473.4 502.51,474.5 502.98,475.6 503.01,475.7 503.51,477.1 504.01,478.4 504.39,479.5 504.51,479.6 505.01,480.3 505.51,480.9 505.79,481.2 506.01,480.8 506.51,479.9 507.01,478.9 507.19,478.6 507.51,477.2 508.01,475.0 508.51,472.8 508.60,472.5 509.01,471.8 509.51,470.9 509.65,470.7 510.01,472.5 510.51,475.0 510.70,476.0 511.01,476.9 511.51,478.5 512.01,480.0 512.11,480.4 512.51,481.1 513.01,482.0 513.51,483.0 514.01,482.4 514.51,481.7 514.91,481.2 515.01,481.4 515.51,482.3 516.01,483.3 516.32,483.9 516.51,483.6 517.01,483.0 517.51,482.4 517.72,482.1 518.01,482.8 518.51,484.1" fill="none" stroke="#0000ff" stroke-width="1.50" stroke-linejoin="round" stroke-linecap="round"/>
<polyline clip-path="url(#cpd)" points="518.51,484.1 519.01,485.3 519.12,485.6 519.51,484.9 520.01,484.0" fill="none" stroke="#0000ff" stroke-width="1.25" stroke-linejoin="round" stroke-linecap="round"/>
<polyline clip-path="url(#cpd)" points="520.01,484.0 520.51,483.0 520.53,483.0 521.01,482.1 521.51,481.1 521.93,480.4 522.01,480.4 522.51,481.1 523.01,481.7 523.33,482.1 523.51,481.8 524.01,480.8 524.51,479.9 524.74,479.5 525.01,478.5 525.51,476.6 526.01,474.7 526.14,474.2 526.51,472.8 527.01,471.0 527.51,469.1 527.54,468.9 528.01,467.8 528.51,466.5 528.95,465.4 529.01,465.5 529.51,466.1 530.01,466.8 530.35,467.2 530.51,467.9 531.01,470.1 531.51,472.3 531.75,473.3 532.01,472.5 532.51,471.0 533.01,469.4 533.16,468.9 533.51,467.0 534.01,464.2" fill="none" stroke="#0000ff" stroke-width="1.50" stroke-linejoin="round" stroke-linecap="round"/>
<polyline clip-path="url(#cpd)" points="534.01,464.2 534.51,461.3 534.56,461.1 535.01,461.9 535.51,462.8 535.96,463.7 536.01,463.6 536.51,462.7 537.01,461.7 537.37,461.1 537.51,461.7 538.01,463.9 538.51,466.0" fill="none" stroke="#0000ff" stroke-width="1.75" stroke-linejoin="round" stroke-linecap="round"/>
<polyline clip-path="url(#cpd)" points="538.51,466.0 538.77,467.2 539.01,468.2 539.51,470.4 540.01,472.6 540.18,473.3 540.51,474.0 541.01,474.9 541.51,475.8 541.58,476.0 542.01,477.3 542.51,478.9 542.98,480.4 543.01,480.3 543.51,478.7 544.01,477.1 544.39,476.0 544.51,475.4 545.01,473.2 545.51,471.1 545.79,469.8 546.01,468.2 546.51,464.4" fill="none" stroke="#0000ff" stroke-width="1.50" stroke-linejoin="round" stroke-linecap="round"/>
<polyline clip-path="url(#cpd)" points="546.51,464.4 546.84,461.9 547.01,461.6 547.51,460.7 548.01,459.7 548.25,459.3 548.51,460.8 549.01,463.8 549.30,465.4" fill="none" stroke="#0000ff" stroke-width="1.75" stroke-linejoin="round" stroke-linecap="round"/>
<polyline clip-path="url(#cpd)" points="549.30,465.4 549.51,466.1 550.01,467.8 550.35,468.9 550.51,467.5 551.01,462.9" fill="none" stroke="#0000ff" stroke-width="1.50" stroke-linejoin="round" stroke-linecap="round"/>
<polyline clip-path="url(#cpd)" points="551.01,462.9 551.40,459.3 551.51,459.7 552.01,461.8 552.46,463.7 552.51,463.9 553.01,465.8" fill="none" stroke="#0000ff" stroke-width="1.75" stroke-linejoin="round" stroke-linecap="round"/>
<polyline clip-path="url(#cpd)" points="553.01,465.8 553.51,467.6 553.86,468.9 554.01,469.2 554.51,470.2 555.01,471.1 555.26,471.6 555.51,472.0 556.01,473.0 556.51,473.9 556.67,474.2 557.01,474.6 557.51,475.3 558.01,475.9 558.07,476.0 558.51,476.2 559.01,476.6 559.47,476.8 559.51,476.7 560.01,474.6 560.51,472.5 560.53,472.5 561.01,471.6 561.51,470.6 561.93,469.8 562.01,469.6 562.51,468.1 563.01,466.6 563.51,465.1" fill="none" stroke="#0000ff" stroke-width="1.50" stroke-linejoin="round" stroke-linecap="round"/>
<polyline clip-path="url(#cpd)" points="458.51,490.9 459.56,481.2 460.79,475.1 461.67,484.7 462.72,479.5 463.77,485.6 464.82,482.1 465.88,486.5 466.93,483.0 467.98,488.2 469.04,485.6 470.09,489.1 471.75,484.7 473.51,478.6 474.91,476.0 475.96,479.5 477.02,473.9 478.42,476.8 479.47,483.0 480.53,478.6 481.93,480.4 483.33,483.0 484.74,479.5 486.14,480.4 487.54,477.2 488.95,479.5 490.35,481.2 491.75,485.6 493.16,483.0 494.56,481.2 495.96,477.7 497.37,476.0 498.77,473.9 500.18,476.0 501.58,472.5 502.98,475.6 504.39,479.5 505.79,481.2 507.19,478.6 508.60,472.5 509.65,470.7 510.70,476.0 512.11,480.4 513.51,483.0 514.91,481.2 516.32,483.9 517.72,482.1 519.12,485.6 520.53,483.0 521.93,480.4 523.33,482.1 524.74,479.5 526.14,474.2 527.54,468.9 528.95,465.4 530.35,467.2 531.75,473.3 533.16,468.9 534.56,461.1 535.96,463.7 537.37,461.1 538.77,467.2 540.18,473.3 541.58,476.0 542.98,480.4 544.39,476.0 545.79,469.8 546.84,461.9 548.25,459.3 549.30,465.4 550.35,468.9 551.40,459.3 552.46,463.7 553.86,468.9 555.26,471.6 556.67,474.2 558.07,476.0 559.47,476.8 560.53,472.5 561.93,469.8 563.51,465.1" fill="none" stroke="#0000ff" stroke-width="1.00" stroke-linejoin="round"/>
<polyline clip-path="url(#cpe)" points="117.37,584.3 119.65,608.9 121.40,608.0 123.33,606.6 125.09,601.0 127.02,598.4 128.77,564.1 130.70,545.2 132.46,550.1 134.21,541.3 136.14,539.1 137.89,551.9 139.82,587.8 141.58,578.2 143.51,602.7 145.26,600.1 147.19,602.7 148.95,601.9 150.88,597.5 152.63,593.1 154.56,584.3 156.32,554.5 158.25,564.1 160.00,578.2 161.93,592.2 163.68,593.4 165.61,611.5 176.67,613.3 178.77,615.5 181.58,615.5 183.68,598.7 185.44,605.4 187.37,603.3 189.30,597.5 191.05,596.6 192.98,608.0 194.74,615.0 198.42,615.0 200.35,606.2 202.11,615.4 203.86,608.9 205.00,603.6 206.40,602.7 208.16,610.3 209.91,604.1 211.67,613.8 215.53,614.3 217.28,615.4 224.30,615.4 226.40,612.9 227.81,615.0 230.09,611.2 232.02,609.4 233.77,608.4 235.70,606.2 237.46,601.5 239.39,601.0 241.14,608.9 243.07,615.4 245.70,615.4 247.63,604.5 249.39,607.1 251.32,605.4 253.07,602.4 255.00,605.0 257.28,596.2 259.04,608.0 260.96,607.1 262.72,612.4 264.65,615.0 266.40,615.4 268.33,613.8 270.09,612.0 272.02,609.8 273.77,608.0 275.70,593.1 277.46,591.0 279.39,591.7 281.14,593.4 283.07,585.2 284.82,594.8 286.75,595.2 288.51,598.4 290.44,615.4 292.19,612.9 294.12,615.4 295.88,615.4 297.81,612.4 299.56,612.9 301.40,615.0 303.16,601.0 304.91,589.1 306.67,615.0 308.60,603.6 310.35,593.4 312.28,598.4 314.04,615.0 317.54,615.4 319.65,613.3 321.40,607.1 323.33,601.0 325.09,614.1 326.84,601.0 328.77,588.7 330.53,593.4 332.46,582.6 334.21,589.6 336.14,588.7 337.89,597.5 339.82,601.9 341.58,607.1 343.51,613.8 345.26,615.0 347.19,614.1 348.95,605.4 350.88,569.8 352.63,570.3 354.56,582.2 356.32,561.2 358.25,575.5 360.00,595.7 361.93,612.4 363.68,602.7 365.61,615.0 369.30,615.4 371.93,614.1 373.68,608.9 375.44,597.5 376.67,587.3 378.42,606.2 380.35,583.4 382.11,572.9 384.04,584.3 385.79,595.7 387.72,607.1 389.47,613.8 391.23,615.0 393.16,612.4 394.91,608.9 395.00,608.0 396.40,611.5 398.16,600.1 399.91,605.4 402.02,594.0 404.12,583.4 405.88,567.3 407.63,591.3 409.56,598.4 411.32,613.3 413.07,613.3 415.00,610.1 416.75,610.6 418.68,611.9 420.44,609.4 422.37,611.5 424.12,599.2 426.05,585.2 427.81,571.2 429.74,563.3 431.49,591.3 433.25,589.6 435.18,601.0 436.93,613.3 438.86,615.4 444.30,615.4 446.23,609.8 447.98,599.2 449.91,594.8 451.67,578.2 453.42,576.4 455.35,588.7 457.28,594.0 459.04,607.1 460.96,612.9 462.72,612.4 464.65,613.3 466.40,614.5 468.33,612.9 470.09,609.8 472.19,607.1" fill="none" stroke="#ff0000" stroke-width="1.25" stroke-linejoin="round"/>
<polygon clip-path="url(#cpe)" points="458.51,606.3 459.01,603.8 459.51,602.3 459.56,602.1 460.01,598.5 460.51,594.8 460.61,593.8 461.01,598.3 461.51,603.2 461.67,604.4 462.01,599.7 462.51,592.8 462.72,589.9 463.01,593.5 463.51,599.8 463.77,602.4 464.01,600.7 464.51,595.8 464.82,592.9 465.01,595.2 465.51,601.4 465.88,605.6 466.01,605.2 466.51,603.6 466.93,602.0 467.01,601.8 467.51,603.9 467.98,606.6 468.01,606.1 468.51,604.9 469.01,603.2 469.04,603.1 469.51,600.9 470.00,598.7 470.01,598.7 470.51,596.8 471.01,594.4 471.40,592.5 471.51,592.9 472.01,591.9 472.51,590.6 472.81,589.9 473.01,587.5 473.51,586.1 474.01,583.9 474.21,582.4 474.51,583.4 475.01,583.8 475.51,585.1 475.61,585.0 476.01,581.5 476.51,578.4 477.01,575.1 477.02,574.7 477.51,579.0 478.01,584.1 478.07,583.5 478.51,581.0 479.01,578.4 479.12,576.5 479.51,578.9 480.01,582.3 480.18,583.4 480.51,579.7 481.01,574.4 481.51,568.8 481.58,566.5 482.01,571.6 482.51,575.9 482.63,576.9 483.01,574.8 483.51,573.9 483.68,573.8 484.01,577.2 484.51,583.0 484.74,584.3 485.01,585.7 485.51,587.5 485.79,587.4 486.01,587.6 486.51,590.0 486.84,592.0 487.01,593.2 487.51,595.9 487.89,599.0 488.01,598.3 488.51,592.0 488.95,586.8 489.01,587.7 489.51,586.1 490.00,584.3 490.01,584.6 490.51,581.8 491.01,581.3 491.05,580.2 491.51,579.5 492.01,577.9 492.11,576.3 492.51,574.0 493.01,573.7 493.16,571.4 493.51,574.7 494.01,576.6 494.21,577.5 494.51,576.7 495.01,576.8 495.26,576.7 495.51,578.7 496.01,584.6 496.32,587.5 496.51,586.8 497.01,584.5 497.37,582.5 497.51,583.0 498.01,587.5 498.42,591.6 498.51,591.6 499.01,592.7 499.47,592.5 499.51,592.5 500.01,596.4 500.51,599.6 500.53,600.5 501.01,599.6 501.51,598.8 501.58,598.7 502.01,600.8 502.51,603.2 502.63,603.5 503.01,602.1 503.51,601.0 503.68,599.7 504.01,601.9 504.51,605.7 504.74,607.1 505.01,604.8 505.51,601.5 505.79,599.6 506.01,600.7 506.51,602.9 506.84,604.5 507.01,604.5 507.51,603.7 507.89,602.6 508.01,603.3 508.51,605.6 508.95,608.1 509.01,608.1 509.51,607.8 510.00,607.4 510.01,607.3 510.51,609.9 511.01,612.5 511.05,612.7 511.51,612.9 512.01,612.9 512.51,613.2 513.01,613.3 513.51,613.1 513.86,613.3 514.01,613.4 514.51,613.3 515.01,613.3 515.51,613.1 516.01,613.4 516.51,613.2 517.01,613.3 517.37,613.2 517.51,612.9 518.01,613.1 518.51,613.5 519.01,613.5 519.51,613.5 520.01,613.7 520.51,613.9 520.88,614.0 521.01,613.7 521.51,613.3 522.01,613.1 522.51,612.8 522.63,612.8 523.01,611.6 523.51,610.3 524.01,608.9 524.39,608.3 524.51,608.6 525.01,610.1 525.51,611.6 525.79,612.4 526.01,612.3 526.51,611.2 527.01,610.1 527.19,609.7 527.51,610.5 528.01,611.2 528.51,611.8 528.95,612.4 529.01,612.4 529.51,612.4 530.01,613.0 530.51,613.2 531.01,613.6 531.40,614.0 531.51,613.9 532.01,614.1 532.51,614.2 533.01,614.0 533.51,614.3 534.01,614.3 534.51,614.5 535.01,614.6 535.51,614.7 536.01,614.8 536.51,614.5 536.67,614.6 537.01,614.6 537.51,614.1 538.01,614.0 538.51,613.5 539.01,613.4 539.30,613.2 539.51,613.0 540.01,612.5 540.51,611.9 541.01,611.6 541.05,611.3 541.51,612.1 542.01,613.3 542.28,614.2 542.51,614.2 543.01,614.2 543.51,614.0 544.01,614.2 544.51,614.1 545.01,614.3 545.44,614.5 545.51,614.4 546.01,613.6 546.51,613.0 547.01,612.3 547.19,612.4 547.51,611.8 548.01,610.9 548.51,610.0 548.95,609.2 549.01,608.8 549.51,607.8 550.00,607.1 550.01,607.2 550.51,602.2 550.70,600.5 551.01,602.1 551.51,605.8 551.75,607.2 552.01,606.7 552.51,605.5 553.01,604.0 553.16,604.0 553.51,604.0 554.01,604.5 554.51,604.7 554.56,604.7 555.01,603.8 555.51,603.6 555.96,602.8 556.01,602.3 556.51,600.7 557.01,598.5 557.37,596.5 557.51,597.2 558.01,598.0 558.42,598.7 558.51,597.7 559.01,594.5 559.47,591.6 559.51,591.5 560.01,587.3 560.51,584.7 560.53,584.6 561.01,580.3 561.51,576.5 561.58,576.3 562.01,580.4 562.51,583.9 562.63,585.5 563.01,587.9 563.51,589.9 563.51,591.0 563.01,589.3 562.63,588.9 562.51,586.5 562.01,581.8 561.58,578.7 561.51,577.9 561.01,583.4 560.53,585.7 560.51,585.8 560.01,589.3 559.51,593.5 559.47,593.6 559.01,596.5 558.51,599.5 558.42,600.8 558.01,599.3 557.51,599.3 557.37,598.3 557.01,600.3 556.51,601.9 556.01,604.6 555.96,604.6 555.51,604.8 555.01,605.7 554.56,605.9 554.51,605.9 554.01,605.8 553.51,605.7 553.16,605.2 553.01,606.1 552.51,606.6 552.01,607.9 551.75,608.9 551.51,606.9 551.01,604.0 550.70,601.9 550.51,603.9 550.01,608.5 550.00,608.5 549.51,609.4 549.01,610.4 548.95,610.3 548.51,611.5 548.01,611.9 547.51,613.2 547.19,613.4 547.01,613.8 546.51,614.4 546.01,614.8 545.51,615.4 545.44,615.6 545.01,615.6 544.51,615.6 544.01,615.4 543.51,615.4 543.01,615.2 542.51,615.3 542.28,615.4 542.01,614.6 541.51,613.5 541.05,612.5 541.01,613.0 540.51,613.3 540.01,613.6 539.51,614.2 539.30,614.6 539.01,614.8 538.51,615.1 538.01,615.4 537.51,615.4 537.01,615.7 536.67,616.2 536.51,616.1 536.01,616.0 535.51,615.7 535.01,615.7 534.51,615.5 534.01,615.5 533.51,615.6 533.01,615.3 532.51,615.4 532.01,615.1 531.51,615.3 531.40,615.2 531.01,614.8 530.51,614.4 530.01,614.2 529.51,613.8 529.01,613.7 528.95,613.5 528.51,613.0 528.01,612.3 527.51,611.6 527.19,611.5 527.01,611.9 526.51,612.4 526.01,613.7 525.79,613.8 525.51,613.0 525.01,611.8 524.51,610.1 524.39,609.7 524.01,610.6 523.51,611.6 523.01,612.9 522.63,613.8 522.51,614.0 522.01,614.2 521.51,614.6 521.01,614.9 520.88,615.1 520.51,614.9 520.01,615.0 519.51,614.9 519.01,614.6 518.51,614.8 518.01,614.5 517.51,614.3 517.37,614.3 517.01,614.3 516.51,614.4 516.01,614.5 515.51,614.5 515.01,614.6 514.51,614.6 514.01,614.6 513.86,614.7 513.51,614.6 513.01,614.4 512.51,614.2 512.01,614.1 511.51,614.0 511.05,614.0 511.01,613.6 510.51,611.4 510.01,609.2 510.00,608.7 509.51,609.1 509.01,609.3 508.95,609.7 508.51,607.5 508.01,604.7 507.89,604.5 507.51,605.0 507.01,605.6 506.84,606.3 506.51,604.2 506.01,601.9 505.79,600.7 505.51,602.9 505.01,606.5 504.74,608.5 504.51,607.3 504.01,604.2 503.68,601.7 503.51,602.2 503.01,604.6 502.63,605.1 502.51,605.2 502.01,601.9 501.58,600.3 501.51,600.2 501.01,600.7 500.53,601.9 500.51,601.4 500.01,598.2 499.51,594.8 499.47,594.8 499.01,594.9 498.51,592.9 498.42,592.7 498.01,589.4 497.51,586.6 497.37,584.4 497.01,586.2 496.51,588.7 496.32,589.2 496.01,586.9 495.51,580.5 495.26,577.8 495.01,578.9 494.51,578.6 494.21,578.9 494.01,577.9 493.51,575.9 493.16,574.4 493.01,574.9 492.51,577.5 492.11,580.0 492.01,580.0 491.51,580.7 491.05,582.2 491.01,582.4 490.51,585.2 490.01,585.7 490.00,585.7 489.51,587.6 489.01,589.5 488.95,589.3 488.51,594.1 488.01,599.5 487.89,601.3 487.51,599.1 487.01,594.7 486.84,593.6 486.51,593.0 486.01,590.1 485.79,589.3 485.51,589.3 485.01,587.3 484.74,587.0 484.51,585.8 484.01,579.3 483.68,575.2 483.51,575.8 483.01,577.5 482.63,579.9 482.51,578.2 482.01,573.0 481.58,569.0 481.51,569.8 481.01,575.6 480.51,581.1 480.18,585.8 480.01,583.9 479.51,581.5 479.12,578.9 479.01,580.9 478.51,582.8 478.07,585.7 478.01,585.2 477.51,580.8 477.02,576.9 477.01,578.0 476.51,579.9 476.01,583.6 475.61,586.7 475.51,586.7 475.01,585.9 474.51,584.8 474.21,584.0 474.01,584.9 473.51,588.4 473.01,591.1 472.81,591.1 472.51,591.9 472.01,593.1 471.51,595.1 471.40,594.9 471.01,597.1 470.51,598.9 470.01,599.7 470.00,600.0 469.51,602.0 469.04,604.2 469.01,605.1 468.51,605.9 468.01,607.7 467.98,607.7 467.51,605.7 467.01,603.8 466.93,603.2 466.51,605.1 466.01,606.7 465.88,606.9 465.51,603.3 465.01,596.8 464.82,595.3 464.51,597.6 464.01,602.1 463.77,604.2 463.51,601.6 463.01,594.6 462.72,591.4 462.51,594.3 462.01,601.1 461.67,606.2 461.51,604.7 461.01,599.5 460.61,595.4 460.51,597.2 460.01,599.9 459.56,603.5 459.51,604.1 459.01,605.7 458.51,607.7" fill="#0000ff"/>
<polyline clip-path="url(#cpe)" points="458.51,607.1 459.01,605.0 459.51,603.0" fill="none" stroke="#0000ff" stroke-width="1.25" stroke-linejoin="round" stroke-linecap="round"/>
<polyline clip-path="url(#cpe)" points="459.51,603.0 459.56,602.7 460.01,599.4 460.51,595.6 460.61,594.8 461.01,598.8 461.51,603.8" fill="none" stroke="#0000ff" stroke-width="1.50" stroke-linejoin="round" stroke-linecap="round"/>
<polyline clip-path="url(#cpe)" points="461.51,603.8 461.67,605.4 462.01,600.5" fill="none" stroke="#0000ff" stroke-width="1.25" stroke-linejoin="round" stroke-linecap="round"/>
<polyline clip-path="url(#cpe)" points="462.01,600.5 462.51,593.4 462.72,590.5 463.01,594.1 463.51,600.3 463.77,603.6" fill="none" stroke="#0000ff" stroke-width="1.50" stroke-linejoin="round" stroke-linecap="round"/>
<polyline clip-path="url(#cpe)" points="463.77,603.6 464.01,601.4" fill="none" stroke="#0000ff" stroke-width="1.25" stroke-linejoin="round" stroke-linecap="round"/>
<polyline clip-path="url(#cpe)" points="464.01,601.4 464.51,596.9 464.82,594.0 465.01,596.1 465.51,601.9 465.88,606.2" fill="none" stroke="#0000ff" stroke-width="1.50" stroke-linejoin="round" stroke-linecap="round"/>
<polyline clip-path="url(#cpe)" points="465.88,606.2 466.01,605.8 466.51,604.1 466.93,602.7" fill="none" stroke="#0000ff" stroke-width="1.25" stroke-linejoin="round" stroke-linecap="round"/>
<polyline clip-path="url(#cpe)" points="466.93,602.7 467.01,603.1" fill="none" stroke="#0000ff" stroke-width="1.50" stroke-linejoin="round" stroke-linecap="round"/>
<polyline clip-path="url(#cpe)" points="467.01,603.1 467.51,605.1 467.98,607.1 468.01,607.0 468.51,605.4 469.01,603.7 469.04,603.6 469.51,601.5" fill="none" stroke="#0000ff" stroke-width="1.25" stroke-linejoin="round" stroke-linecap="round"/>
<polyline clip-path="url(#cpe)" points="469.51,601.5 470.00,599.2 470.01,599.2 470.51,597.3 471.01,595.4 471.40,594.0 471.51,593.7 472.01,592.5 472.51,591.2 472.81,590.5 473.01,589.4 473.51,586.9 474.01,584.4 474.21,583.4" fill="none" stroke="#0000ff" stroke-width="1.50" stroke-linejoin="round" stroke-linecap="round"/>
<polyline clip-path="url(#cpe)" points="474.21,583.4 474.51,584.0" fill="none" stroke="#0000ff" stroke-width="1.75" stroke-linejoin="round" stroke-linecap="round"/>
<polyline clip-path="url(#cpe)" points="474.51,584.0 475.01,584.9 475.51,585.9 475.61,586.1 476.01,583.1" fill="none" stroke="#0000ff" stroke-width="1.50" stroke-linejoin="round" stroke-linecap="round"/>
<polyline clip-path="url(#cpe)" points="476.01,583.1 476.51,579.4 477.01,575.6 477.02,575.5 477.51,580.0 478.01,584.6" fill="none" stroke="#0000ff" stroke-width="1.75" stroke-linejoin="round" stroke-linecap="round"/>
<polyline clip-path="url(#cpe)" points="478.01,584.6 478.07,585.2 478.51,582.3" fill="none" stroke="#0000ff" stroke-width="1.50" stroke-linejoin="round" stroke-linecap="round"/>
<polyline clip-path="url(#cpe)" points="478.51,582.3 479.01,578.9 479.12,578.2 479.51,580.4 480.01,583.3 480.18,584.3" fill="none" stroke="#0000ff" stroke-width="1.75" stroke-linejoin="round" stroke-linecap="round"/>
<polyline clip-path="url(#cpe)" points="480.18,584.3 480.51,580.6" fill="none" stroke="#0000ff" stroke-width="1.50" stroke-linejoin="round" stroke-linecap="round"/>
<polyline clip-path="url(#cpe)" points="480.51,580.6 481.01,574.9 481.51,569.3 481.58,568.5 482.01,572.5 482.51,577.0 482.63,578.2 483.01,576.9 483.51,575.3 483.68,574.7 484.01,578.2 484.51,583.6 484.74,586.1" fill="none" stroke="#0000ff" stroke-width="1.75" stroke-linejoin="round" stroke-linecap="round"/>
<polyline clip-path="url(#cpe)" points="484.74,586.1 485.01,586.7 485.51,588.0 485.79,588.7 486.01,589.6 486.51,591.7 486.84,593.1 487.01,594.2 487.51,597.5 487.89,600.1 488.01,598.9 488.51,593.5 488.95,588.7 489.01,588.5 489.51,586.8 490.00,585.2 490.01,585.2 490.51,583.5" fill="none" stroke="#0000ff" stroke-width="1.50" stroke-linejoin="round" stroke-linecap="round"/>
<polyline clip-path="url(#cpe)" points="490.51,583.5 491.01,581.8 491.05,581.7 491.51,580.2 492.01,578.5 492.11,578.2 492.51,576.5 493.01,574.4 493.16,573.8 493.51,575.3 494.01,577.3 494.21,578.2 494.51,577.9 495.01,577.5 495.26,577.3 495.51,580.0 496.01,585.4" fill="none" stroke="#0000ff" stroke-width="1.75" stroke-linejoin="round" stroke-linecap="round"/>
<polyline clip-path="url(#cpe)" points="496.01,585.4 496.32,588.7 496.51,587.7 497.01,585.2 497.37,583.4" fill="none" stroke="#0000ff" stroke-width="1.50" stroke-linejoin="round" stroke-linecap="round"/>
<polyline clip-path="url(#cpe)" points="497.37,583.4 497.51,584.6" fill="none" stroke="#0000ff" stroke-width="1.75" stroke-linejoin="round" stroke-linecap="round"/>
<polyline clip-path="url(#cpe)" points="497.51,584.6 498.01,588.8 498.42,592.2 498.51,592.4 499.01,593.2 499.47,594.0 499.51,594.2 500.01,597.5 500.51,600.9 500.53,601.0 501.01,600.2 501.51,599.3 501.58,599.2 502.01,601.4 502.51,603.9" fill="none" stroke="#0000ff" stroke-width="1.50" stroke-linejoin="round" stroke-linecap="round"/>
<polyline clip-path="url(#cpe)" points="502.51,603.9 502.63,604.5 503.01,603.2 503.51,601.6" fill="none" stroke="#0000ff" stroke-width="1.25" stroke-linejoin="round" stroke-linecap="round"/>
<polyline clip-path="url(#cpe)" points="503.51,601.6 503.68,601.0 504.01,603.1" fill="none" stroke="#0000ff" stroke-width="1.50" stroke-linejoin="round" stroke-linecap="round"/>
<polyline clip-path="url(#cpe)" points="504.01,603.1 504.51,606.5 504.74,608.0 505.01,606.0 505.51,602.2" fill="none" stroke="#0000ff" stroke-width="1.25" stroke-linejoin="round" stroke-linecap="round"/>
<polyline clip-path="url(#cpe)" points="505.51,602.2 505.79,600.1 506.01,601.2 506.51,603.7" fill="none" stroke="#0000ff" stroke-width="1.50" stroke-linejoin="round" stroke-linecap="round"/>
<polyline clip-path="url(#cpe)" points="506.51,603.7 506.84,605.4 507.01,605.1 507.51,604.3 507.89,603.6 508.01,604.2 508.51,606.7 508.95,608.9 509.01,608.8 509.51,608.4 510.00,608.0 510.01,608.0 510.51,610.5 511.01,613.0 511.05,613.3 511.51,613.4 512.01,613.6 512.51,613.7 513.01,613.9 513.51,614.0 513.86,614.1 514.01,614.1 514.51,614.1 515.01,614.0 515.51,614.0 516.01,613.9 516.51,613.9 517.01,613.8 517.37,613.8 517.51,613.8 518.01,613.9 518.51,614.0 519.01,614.1 519.51,614.2 520.01,614.3 520.51,614.4 520.88,614.5 521.01,614.4 521.51,614.0 522.01,613.7 522.51,613.3 522.63,613.3 523.01,612.3 523.51,611.1 524.01,609.8 524.39,608.9 524.51,609.3 525.01,610.8 525.51,612.4 525.79,613.3 526.01,612.9 526.51,611.9 527.01,611.0 527.19,610.6 527.51,611.0 528.01,611.7 528.51,612.3 528.95,612.9 529.01,613.0 529.51,613.3 530.01,613.6 530.51,613.9 531.01,614.2 531.40,614.5 531.51,614.5 532.01,614.6 532.51,614.7 533.01,614.8 533.51,614.8 534.01,614.9 534.51,615.0 535.01,615.1 535.51,615.2 536.01,615.3 536.51,615.3 536.67,615.4 537.01,615.2 537.51,614.9 538.01,614.6 538.51,614.3 539.01,614.0 539.30,613.8 539.51,613.6 540.01,613.1 540.51,612.6 541.01,612.1 541.05,612.0 541.51,613.0 542.01,614.1 542.28,614.7 542.51,614.7 543.01,614.7 543.51,614.8 544.01,614.9 544.51,614.9 545.01,615.0 545.44,615.0 545.51,614.9 546.01,614.3 546.51,613.7 547.01,613.1 547.19,612.9 547.51,612.3 548.01,611.4 548.51,610.5 548.95,609.8 549.01,609.7 549.51,608.8 550.00,608.0 550.01,607.9 550.51,602.9" fill="none" stroke="#0000ff" stroke-width="1.25" stroke-linejoin="round" stroke-linecap="round"/>
<polyline clip-path="url(#cpe)" points="550.51,602.9 550.70,601.0 551.01,603.0 551.51,606.4" fill="none" stroke="#0000ff" stroke-width="1.50" stroke-linejoin="round" stroke-linecap="round"/>
<polyline clip-path="url(#cpe)" points="551.51,606.4 551.75,608.0 552.01,607.4 552.51,606.1 553.01,604.9 553.16,604.5 553.51,604.7 554.01,605.0 554.51,605.3 554.56,605.4 555.01,604.8 555.51,604.2 555.96,603.6 556.01,603.4 556.51,601.2" fill="none" stroke="#0000ff" stroke-width="1.25" stroke-linejoin="round" stroke-linecap="round"/>
<polyline clip-path="url(#cpe)" points="556.51,601.2 557.01,599.0 557.37,597.5 557.51,597.7 558.01,598.5 558.42,599.2 558.51,598.6 559.01,595.3 559.47,592.2 559.51,592.0 560.01,588.6 560.51,585.3 560.53,585.2 561.01,581.3" fill="none" stroke="#0000ff" stroke-width="1.50" stroke-linejoin="round" stroke-linecap="round"/>
<polyline clip-path="url(#cpe)" points="561.01,581.3 561.51,577.3 561.58,576.8 562.01,580.9 562.51,585.8" fill="none" stroke="#0000ff" stroke-width="1.75" stroke-linejoin="round" stroke-linecap="round"/>
<polyline clip-path="url(#cpe)" points="562.51,585.8 562.63,586.9 563.01,588.5 563.51,590.5" fill="none" stroke="#0000ff" stroke-width="1.50" stroke-linejoin="round" stroke-linecap="round"/>
<polyline clip-path="url(#cpe)" points="458.51,607.1 459.56,602.7 460.61,594.8 461.67,605.4 462.72,590.5 463.77,603.6 464.82,594.0 465.88,606.2 466.93,602.7 467.98,607.1 469.04,603.6 470.00,599.2 471.40,594.0 472.81,590.5 474.21,583.4 475.61,586.1 477.02,575.5 478.07,585.2 479.12,578.2 480.18,584.3 481.58,568.5 482.63,578.2 483.68,574.7 484.74,586.1 485.79,588.7 486.84,593.1 487.89,600.1 488.95,588.7 490.00,585.2 491.05,581.7 492.11,578.2 493.16,573.8 494.21,578.2 495.26,577.3 496.32,588.7 497.37,583.4 498.42,592.2 499.47,594.0 500.53,601.0 501.58,599.2 502.63,604.5 503.68,601.0 504.74,608.0 505.79,600.1 506.84,605.4 507.89,603.6 508.95,608.9 510.00,608.0 511.05,613.3 513.86,614.1 517.37,613.8 520.88,614.5 522.63,613.3 524.39,608.9 525.79,613.3 527.19,610.6 528.95,612.9 531.40,614.5 536.67,615.4 539.30,613.8 541.05,612.0 542.28,614.7 545.44,615.0 547.19,612.9 548.95,609.8 550.00,608.0 550.70,601.0 551.75,608.0 553.16,604.5 554.56,605.4 555.96,603.6 557.37,597.5 558.42,599.2 559.47,592.2 560.53,585.2 561.58,576.8 562.63,586.9 563.51,590.5" fill="none" stroke="#0000ff" stroke-width="1.00" stroke-linejoin="round"/>
<rect x="84.5" y="39.5" width="479.0" height="51.0" fill="none" stroke="#000" stroke-width="1"/>
<rect x="84.5" y="106.5" width="479.0" height="154.0" fill="none" stroke="#000" stroke-width="1"/>
<rect x="84.5" y="276.5" width="479.0" height="103.0" fill="none" stroke="#000" stroke-width="1"/>
<rect x="84.5" y="394.5" width="479.0" height="103.0" fill="none" stroke="#000" stroke-width="1"/>
<rect x="84.5" y="513.5" width="479.0" height="103.0" fill="none" stroke="#000" stroke-width="1"/>
<path d="M79.00 90.50H84.50M563.50 90.50H570.00M81.90 87.50H84.50M563.50 87.50H566.80M81.90 84.50H84.50M563.50 84.50H566.80M81.90 80.50H84.50M563.50 80.50H566.80M79.00 77.50H84.50M563.50 77.50H570.00M81.90 74.50H84.50M563.50 74.50H566.80M81.90 71.50H84.50M563.50 71.50H566.80M81.90 68.50H84.50M563.50 68.50H566.80M79.00 65.50H84.50M563.50 65.50H570.00M81.90 61.50H84.50M563.50 61.50H566.80M81.90 58.50H84.50M563.50 58.50H566.80M81.90 55.50H84.50M563.50 55.50H566.80M79.00 52.50H84.50M563.50 52.50H570.00M81.90 49.50H84.50M563.50 49.50H566.80M81.90 45.50H84.50M563.50 45.50H566.80M81.90 42.50H84.50M563.50 42.50H566.80M79.00 39.50H84.50M563.50 39.50H570.00M93.50 90.50V93.10M105.50 90.50V93.10M118.50 90.50V93.10M130.50 90.50V96.00M142.50 90.50V93.10M155.50 90.50V93.10M167.50 90.50V93.10M179.50 90.50V96.00M191.50 90.50V93.10M204.50 90.50V93.10M216.50 90.50V93.10M228.50 90.50V96.00M241.50 90.50V93.10M253.50 90.50V93.10M265.50 90.50V93.10M277.50 90.50V96.00M290.50 90.50V93.10M302.50 90.50V93.10M314.50 90.50V93.10M327.50 90.50V96.00M339.50 90.50V93.10M351.50 90.50V93.10M363.50 90.50V93.10M376.50 90.50V96.00M388.50 90.50V93.10M400.50 90.50V93.10M412.50 90.50V93.10M425.50 90.50V96.00M437.50 90.50V93.10M449.50 90.50V93.10M462.50 90.50V93.10M474.50 90.50V96.00M486.50 90.50V93.10M498.50 90.50V93.10M511.50 90.50V93.10M523.50 90.50V96.00M535.50 90.50V93.10M548.50 90.50V93.10M560.50 90.50V93.10M97.50 33.10V39.50M116.50 36.20V39.50M134.50 36.20V39.50M152.50 36.20V39.50M171.50 36.20V39.50M189.50 33.10V39.50M207.50 36.20V39.50M226.50 36.20V39.50M244.50 36.20V39.50M262.50 36.20V39.50M281.50 33.10V39.50M299.50 36.20V39.50M318.50 36.20V39.50M336.50 36.20V39.50M354.50 36.20V39.50M373.50 33.10V39.50M391.50 36.20V39.50M409.50 36.20V39.50M428.50 36.20V39.50M446.50 36.20V39.50M465.50 33.10V39.50M483.50 36.20V39.50M501.50 36.20V39.50M520.50 36.20V39.50M538.50 36.20V39.50M556.50 33.10V39.50M79.00 260.50H84.50M563.50 260.50H570.00M81.90 256.50H84.50M563.50 256.50H566.80M81.90 252.50H84.50M563.50 252.50H566.80M81.90 248.50H84.50M563.50 248.50H566.80M81.90 245.50H84.50M563.50 245.50H566.80M79.00 241.50H84.50M563.50 241.50H570.00M81.90 237.50H84.50M563.50 237.50H566.80M81.90 233.50H84.50M563.50 233.50H566.80M81.90 229.50H84.50M563.50 229.50H566.80M81.90 225.50H84.50M563.50 225.50H566.80M79.00 222.50H84.50M563.50 222.50H570.00M81.90 218.50H84.50M563.50 218.50H566.80M81.90 214.50H84.50M563.50 214.50H566.80M81.90 210.50H84.50M563.50 210.50H566.80M81.90 206.50H84.50M563.50 206.50H566.80M79.00 202.50H84.50M563.50 202.50H570.00M81.90 198.50H84.50M563.50 198.50H566.80M81.90 195.50H84.50M563.50 195.50H566.80M81.90 191.50H84.50M563.50 191.50H566.80M81.90 187.50H84.50M563.50 187.50H566.80M79.00 183.50H84.50M563.50 183.50H570.00M81.90 179.50H84.50M563.50 179.50H566.80M81.90 175.50H84.50M563.50 175.50H566.80M81.90 171.50H84.50M563.50 171.50H566.80M81.90 168.50H84.50M563.50 168.50H566.80M79.00 164.50H84.50M563.50 164.50H570.00M81.90 160.50H84.50M563.50 160.50H566.80M81.90 156.50H84.50M563.50 156.50H566.80M81.90 152.50H84.50M563.50 152.50H566.80M81.90 148.50H84.50M563.50 148.50H566.80M79.00 145.50H84.50M563.50 145.50H570.00M81.90 141.50H84.50M563.50 141.50H566.80M81.90 137.50H84.50M563.50 137.50H566.80M81.90 133.50H84.50M563.50 133.50H566.80M81.90 129.50H84.50M563.50 129.50H566.80M79.00 125.50H84.50M563.50 125.50H570.00M81.90 121.50H84.50M563.50 121.50H566.80M81.90 118.50H84.50M563.50 118.50H566.80M81.90 114.50H84.50M563.50 114.50H566.80M81.90 110.50H84.50M563.50 110.50H566.80M79.00 106.50H84.50M563.50 106.50H570.00M93.50 260.50V263.10M105.50 260.50V263.10M118.50 260.50V263.10M130.50 260.50V266.00M142.50 260.50V263.10M155.50 260.50V263.10M167.50 260.50V263.10M179.50 260.50V266.00M191.50 260.50V263.10M204.50 260.50V263.10M216.50 260.50V263.10M228.50 260.50V266.00M241.50 260.50V263.10M253.50 260.50V263.10M265.50 260.50V263.10M277.50 260.50V266.00M290.50 260.50V263.10M302.50 260.50V263.10M314.50 260.50V263.10M327.50 260.50V266.00M339.50 260.50V263.10M351.50 260.50V263.10M363.50 260.50V263.10M376.50 260.50V266.00M388.50 260.50V263.10M400.50 260.50V263.10M412.50 260.50V263.10M425.50 260.50V266.00M437.50 260.50V263.10M449.50 260.50V263.10M462.50 260.50V263.10M474.50 260.50V266.00M486.50 260.50V263.10M498.50 260.50V263.10M511.50 260.50V263.10M523.50 260.50V266.00M535.50 260.50V263.10M548.50 260.50V263.10M560.50 260.50V263.10M97.50 100.10V106.50M116.50 103.20V106.50M134.50 103.20V106.50M152.50 103.20V106.50M171.50 103.20V106.50M189.50 100.10V106.50M207.50 103.20V106.50M226.50 103.20V106.50M244.50 103.20V106.50M262.50 103.20V106.50M281.50 100.10V106.50M299.50 103.20V106.50M318.50 103.20V106.50M336.50 103.20V106.50M354.50 103.20V106.50M373.50 100.10V106.50M391.50 103.20V106.50M409.50 103.20V106.50M428.50 103.20V106.50M446.50 103.20V106.50M465.50 100.10V106.50M483.50 103.20V106.50M501.50 103.20V106.50M520.50 103.20V106.50M538.50 103.20V106.50M556.50 100.10V106.50M79.00 379.50H84.50M563.50 379.50H570.00M81.90 371.50H84.50M563.50 371.50H566.80M81.90 364.50H84.50M563.50 364.50H566.80M81.90 356.50H84.50M563.50 356.50H566.80M79.00 348.50H84.50M563.50 348.50H570.00M81.90 340.50H84.50M563.50 340.50H566.80M81.90 333.50H84.50M563.50 333.50H566.80M81.90 325.50H84.50M563.50 325.50H566.80M79.00 317.50H84.50M563.50 317.50H570.00M81.90 309.50H84.50M563.50 309.50H566.80M81.90 302.50H84.50M563.50 302.50H566.80M81.90 294.50H84.50M563.50 294.50H566.80M79.00 286.50H84.50M563.50 286.50H570.00M81.90 278.50H84.50M563.50 278.50H566.80M93.50 379.50V382.10M105.50 379.50V382.10M118.50 379.50V382.10M130.50 379.50V385.00M142.50 379.50V382.10M155.50 379.50V382.10M167.50 379.50V382.10M179.50 379.50V385.00M191.50 379.50V382.10M204.50 379.50V382.10M216.50 379.50V382.10M228.50 379.50V385.00M241.50 379.50V382.10M253.50 379.50V382.10M265.50 379.50V382.10M277.50 379.50V385.00M290.50 379.50V382.10M302.50 379.50V382.10M314.50 379.50V382.10M327.50 379.50V385.00M339.50 379.50V382.10M351.50 379.50V382.10M363.50 379.50V382.10M376.50 379.50V385.00M388.50 379.50V382.10M400.50 379.50V382.10M412.50 379.50V382.10M425.50 379.50V385.00M437.50 379.50V382.10M449.50 379.50V382.10M462.50 379.50V382.10M474.50 379.50V385.00M486.50 379.50V382.10M498.50 379.50V382.10M511.50 379.50V382.10M523.50 379.50V385.00M535.50 379.50V382.10M548.50 379.50V382.10M560.50 379.50V382.10M97.50 270.10V276.50M116.50 273.20V276.50M134.50 273.20V276.50M152.50 273.20V276.50M171.50 273.20V276.50M189.50 270.10V276.50M207.50 273.20V276.50M226.50 273.20V276.50M244.50 273.20V276.50M262.50 273.20V276.50M281.50 270.10V276.50M299.50 273.20V276.50M318.50 273.20V276.50M336.50 273.20V276.50M354.50 273.20V276.50M373.50 270.10V276.50M391.50 273.20V276.50M409.50 273.20V276.50M428.50 273.20V276.50M446.50 273.20V276.50M465.50 270.10V276.50M483.50 273.20V276.50M501.50 273.20V276.50M520.50 273.20V276.50M538.50 273.20V276.50M556.50 270.10V276.50M79.00 497.50H84.50M563.50 497.50H570.00M81.90 491.50H84.50M563.50 491.50H566.80M81.90 484.50H84.50M563.50 484.50H566.80M81.90 478.50H84.50M563.50 478.50H566.80M79.00 471.50H84.50M563.50 471.50H570.00M81.90 465.50H84.50M563.50 465.50H566.80M81.90 458.50H84.50M563.50 458.50H566.80M81.90 452.50H84.50M563.50 452.50H566.80M79.00 446.50H84.50M563.50 446.50H570.00M81.90 439.50H84.50M563.50 439.50H566.80M81.90 433.50H84.50M563.50 433.50H566.80M81.90 426.50H84.50M563.50 426.50H566.80M79.00 420.50H84.50M563.50 420.50H570.00M81.90 413.50H84.50M563.50 413.50H566.80M81.90 407.50H84.50M563.50 407.50H566.80M81.90 400.50H84.50M563.50 400.50H566.80M79.00 394.50H84.50M563.50 394.50H570.00M93.50 497.50V500.10M105.50 497.50V500.10M118.50 497.50V500.10M130.50 497.50V503.00M142.50 497.50V500.10M155.50 497.50V500.10M167.50 497.50V500.10M179.50 497.50V503.00M191.50 497.50V500.10M204.50 497.50V500.10M216.50 497.50V500.10M228.50 497.50V503.00M241.50 497.50V500.10M253.50 497.50V500.10M265.50 497.50V500.10M277.50 497.50V503.00M290.50 497.50V500.10M302.50 497.50V500.10M314.50 497.50V500.10M327.50 497.50V503.00M339.50 497.50V500.10M351.50 497.50V500.10M363.50 497.50V500.10M376.50 497.50V503.00M388.50 497.50V500.10M400.50 497.50V500.10M412.50 497.50V500.10M425.50 497.50V503.00M437.50 497.50V500.10M449.50 497.50V500.10M462.50 497.50V500.10M474.50 497.50V503.00M486.50 497.50V500.10M498.50 497.50V500.10M511.50 497.50V500.10M523.50 497.50V503.00M535.50 497.50V500.10M548.50 497.50V500.10M560.50 497.50V500.10M97.50 388.10V394.50M116.50 391.20V394.50M134.50 391.20V394.50M152.50 391.20V394.50M171.50 391.20V394.50M189.50 388.10V394.50M207.50 391.20V394.50M226.50 391.20V394.50M244.50 391.20V394.50M262.50 391.20V394.50M281.50 388.10V394.50M299.50 391.20V394.50M318.50 391.20V394.50M336.50 391.20V394.50M354.50 391.20V394.50M373.50 388.10V394.50M391.50 391.20V394.50M409.50 391.20V394.50M428.50 391.20V394.50M446.50 391.20V394.50M465.50 388.10V394.50M483.50 391.20V394.50M501.50 391.20V394.50M520.50 391.20V394.50M538.50 391.20V394.50M556.50 388.10V394.50M79.00 616.50H84.50M563.50 616.50H570.00M81.90 608.50H84.50M563.50 608.50H566.80M81.90 601.50H84.50M563.50 601.50H566.80M81.90 593.50H84.50M563.50 593.50H566.80M79.00 585.50H84.50M563.50 585.50H570.00M81.90 577.50H84.50M563.50 577.50H566.80M81.90 570.50H84.50M563.50 570.50H566.80M81.90 562.50H84.50M563.50 562.50H566.80M79.00 554.50H84.50M563.50 554.50H570.00M81.90 546.50H84.50M563.50 546.50H566.80M81.90 539.50H84.50M563.50 539.50H566.80M81.90 531.50H84.50M563.50 531.50H566.80M79.00 523.50H84.50M563.50 523.50H570.00M81.90 515.50H84.50M563.50 515.50H566.80M93.50 616.50V619.10M105.50 616.50V619.10M118.50 616.50V619.10M130.50 616.50V622.00M142.50 616.50V619.10M155.50 616.50V619.10M167.50 616.50V619.10M179.50 616.50V622.00M191.50 616.50V619.10M204.50 616.50V619.10M216.50 616.50V619.10M228.50 616.50V622.00M241.50 616.50V619.10M253.50 616.50V619.10M265.50 616.50V619.10M277.50 616.50V622.00M290.50 616.50V619.10M302.50 616.50V619.10M314.50 616.50V619.10M327.50 616.50V622.00M339.50 616.50V619.10M351.50 616.50V619.10M363.50 616.50V619.10M376.50 616.50V622.00M388.50 616.50V619.10M400.50 616.50V619.10M412.50 616.50V619.10M425.50 616.50V622.00M437.50 616.50V619.10M449.50 616.50V619.10M462.50 616.50V619.10M474.50 616.50V622.00M486.50 616.50V619.10M498.50 616.50V619.10M511.50 616.50V619.10M523.50 616.50V622.00M535.50 616.50V619.10M548.50 616.50V619.10M560.50 616.50V619.10M97.50 507.10V513.50M116.50 510.20V513.50M134.50 510.20V513.50M152.50 510.20V513.50M171.50 510.20V513.50M189.50 507.10V513.50M207.50 510.20V513.50M226.50 510.20V513.50M244.50 510.20V513.50M262.50 510.20V513.50M281.50 507.10V513.50M299.50 510.20V513.50M318.50 510.20V513.50M336.50 510.20V513.50M354.50 510.20V513.50M373.50 507.10V513.50M391.50 510.20V513.50M409.50 510.20V513.50M428.50 510.20V513.50M446.50 510.20V513.50M465.50 507.10V513.50M483.50 510.20V513.50M501.50 510.20V513.50M520.50 510.20V513.50M538.50 510.20V513.50M556.50 507.10V513.50" stroke="#000" stroke-width="1" fill="none"/>
<g font-family="Liberation Serif, serif" fill="#000">
<text transform="translate(73.2,94.5) scale(1,1.08)" text-anchor="end" font-size="13.3">0</text>
<text transform="translate(73.2,81.8) scale(1,1.08)" text-anchor="end" font-size="13.3">25</text>
<text transform="translate(73.2,69.0) scale(1,1.08)" text-anchor="end" font-size="13.3">50</text>
<text transform="translate(73.2,56.2) scale(1,1.08)" text-anchor="end" font-size="13.3">75</text>
<text transform="translate(73.2,43.5) scale(1,1.08)" text-anchor="end" font-size="13.3">100</text>
<text transform="translate(73.2,264.5) scale(1,1.08)" text-anchor="end" font-size="13.3">0.0</text>
<text transform="translate(73.2,245.2) scale(1,1.08)" text-anchor="end" font-size="13.3">0.1</text>
<text transform="translate(73.2,226.0) scale(1,1.08)" text-anchor="end" font-size="13.3">0.2</text>
<text transform="translate(73.2,206.8) scale(1,1.08)" text-anchor="end" font-size="13.3">0.3</text>
<text transform="translate(73.2,187.5) scale(1,1.08)" text-anchor="end" font-size="13.3">0.4</text>
<text transform="translate(73.2,168.2) scale(1,1.08)" text-anchor="end" font-size="13.3">0.5</text>
<text transform="translate(73.2,149.0) scale(1,1.08)" text-anchor="end" font-size="13.3">0.6</text>
<text transform="translate(73.2,129.8) scale(1,1.08)" text-anchor="end" font-size="13.3">0.7</text>
<text transform="translate(73.2,110.5) scale(1,1.08)" text-anchor="end" font-size="13.3">0.8</text>
<text transform="translate(73.2,383.5) scale(1,1.08)" text-anchor="end" font-size="13.3">0.00</text>
<text transform="translate(73.2,352.5) scale(1,1.08)" text-anchor="end" font-size="13.3">0.15</text>
<text transform="translate(73.2,321.5) scale(1,1.08)" text-anchor="end" font-size="13.3">0.30</text>
<text transform="translate(73.2,290.5) scale(1,1.08)" text-anchor="end" font-size="13.3">0.45</text>
<text transform="translate(73.2,501.5) scale(1,1.08)" text-anchor="end" font-size="13.3">0.00</text>
<text transform="translate(73.2,475.8) scale(1,1.08)" text-anchor="end" font-size="13.3">0.25</text>
<text transform="translate(73.2,450.0) scale(1,1.08)" text-anchor="end" font-size="13.3">0.50</text>
<text transform="translate(73.2,424.2) scale(1,1.08)" text-anchor="end" font-size="13.3">0.75</text>
<text transform="translate(73.2,398.5) scale(1,1.08)" text-anchor="end" font-size="13.3">1.00</text>
<text transform="translate(73.2,620.5) scale(1,1.08)" text-anchor="end" font-size="13.3">0.00</text>
<text transform="translate(73.2,589.5) scale(1,1.08)" text-anchor="end" font-size="13.3">0.15</text>
<text transform="translate(73.2,558.5) scale(1,1.08)" text-anchor="end" font-size="13.3">0.30</text>
<text transform="translate(73.2,527.5) scale(1,1.08)" text-anchor="end" font-size="13.3">0.45</text>
<text transform="translate(130.5,637) scale(1,1.08)" text-anchor="middle" font-size="13.3">1997</text>
<text transform="translate(179.5,637) scale(1,1.08)" text-anchor="middle" font-size="13.3">1999</text>
<text transform="translate(228.5,637) scale(1,1.08)" text-anchor="middle" font-size="13.3">2001</text>
<text transform="translate(277.5,637) scale(1,1.08)" text-anchor="middle" font-size="13.3">2003</text>
<text transform="translate(327.5,637) scale(1,1.08)" text-anchor="middle" font-size="13.3">2005</text>
<text transform="translate(376.5,637) scale(1,1.08)" text-anchor="middle" font-size="13.3">2007</text>
<text transform="translate(425.5,637) scale(1,1.08)" text-anchor="middle" font-size="13.3">2009</text>
<text transform="translate(474.5,637) scale(1,1.08)" text-anchor="middle" font-size="13.3">2011</text>
<text transform="translate(523.5,637) scale(1,1.08)" text-anchor="middle" font-size="13.3">2013</text>
<text transform="translate(97.5,25.5) scale(1,1.08)" text-anchor="middle" font-size="13.3">1900</text>
<text transform="translate(189.5,25.5) scale(1,1.08)" text-anchor="middle" font-size="13.3">1950</text>
<text transform="translate(281.5,25.5) scale(1,1.08)" text-anchor="middle" font-size="13.3">2000</text>
<text transform="translate(373.5,25.5) scale(1,1.08)" text-anchor="middle" font-size="13.3">2050</text>
<text transform="translate(465.5,25.5) scale(1,1.08)" text-anchor="middle" font-size="13.3">2100</text>
<text transform="translate(556.5,25.5) scale(1,1.08)" text-anchor="middle" font-size="13.3">2150</text>
<text x="323.8" y="9.2" text-anchor="middle" font-size="13.4" letter-spacing="0.5">Carrington Rotation Number</text>
<text x="324.2" y="654.3" text-anchor="middle" font-size="13" letter-spacing="0.4">Year</text>
<text x="94.7" y="59.9" font-size="12" letter-spacing="-0.6" fill="#3a3a3a">[a]</text>
<text x="94.7" y="129.6" font-size="12" letter-spacing="-0.6" fill="#3a3a3a">[b]</text>
<text x="94.7" y="297.1" font-size="12" letter-spacing="-0.6" fill="#3a3a3a">[c]</text>
<text x="94.7" y="415.4" font-size="12" letter-spacing="-0.6" fill="#3a3a3a">[d]</text>
<text x="94.7" y="534.3" font-size="12" letter-spacing="-0.6" fill="#3a3a3a">[e]</text>
<text transform="translate(17.9,65.0) rotate(-90)" text-anchor="middle" font-size="13" textLength="48.0" lengthAdjust="spacing">Monthly</text>
<text transform="translate(30.7,65.0) rotate(-90)" text-anchor="middle" font-size="13" textLength="45.7" lengthAdjust="spacing">Sunspot</text>
<text transform="translate(44.0,65.0) rotate(-90)" text-anchor="middle" font-size="13" textLength="45.0" lengthAdjust="spacing">Number</text>
<text transform="translate(16.2,183.5) rotate(-90)" text-anchor="middle" font-size="13" textLength="40.2" lengthAdjust="spacing">[-90:90]</text>
<text transform="translate(30.3,183.5) rotate(-90)" text-anchor="middle" font-size="13" textLength="75.0" lengthAdjust="spacing">Coronal Hole</text>
<text transform="translate(46.3,183.5) rotate(-90)" text-anchor="middle" font-size="13" letter-spacing="0.55">Area (10<tspan font-size="9" dy="-4.5">22</tspan><tspan dy="4.5">cm</tspan><tspan font-size="9" dy="-4.5">2</tspan><tspan dy="4.5">)</tspan></text>
<text transform="translate(11.2,328.0) rotate(-90)" text-anchor="middle" font-size="13" textLength="59.9" lengthAdjust="spacing">[55:90] NP</text>
<text transform="translate(23.5,328.0) rotate(-90)" text-anchor="middle" font-size="13" textLength="75.0" lengthAdjust="spacing">Coronal Hole</text>
<text transform="translate(39.5,328.0) rotate(-90)" text-anchor="middle" font-size="13" letter-spacing="0.55">Area (10<tspan font-size="9" dy="-4.5">22</tspan><tspan dy="4.5">cm</tspan><tspan font-size="9" dy="-4.5">2</tspan><tspan dy="4.5">)</tspan></text>
<text transform="translate(11.2,446.0) rotate(-90)" text-anchor="middle" font-size="13" textLength="63.9" lengthAdjust="spacing">[-55:55] LL</text>
<text transform="translate(23.5,446.0) rotate(-90)" text-anchor="middle" font-size="13" textLength="75.0" lengthAdjust="spacing">Coronal Hole</text>
<text transform="translate(39.5,446.0) rotate(-90)" text-anchor="middle" font-size="13" letter-spacing="0.55">Area (10<tspan font-size="9" dy="-4.5">22</tspan><tspan dy="4.5">cm</tspan><tspan font-size="9" dy="-4.5">2</tspan><tspan dy="4.5">)</tspan></text>
<text transform="translate(11.2,565.0) rotate(-90)" text-anchor="middle" font-size="13" textLength="65.7" lengthAdjust="spacing">[-90:-55] SP</text>
<text transform="translate(23.5,565.0) rotate(-90)" text-anchor="middle" font-size="13" textLength="75.0" lengthAdjust="spacing">Coronal Hole</text>
<text transform="translate(39.5,565.0) rotate(-90)" text-anchor="middle" font-size="13" letter-spacing="0.55">Area (10<tspan font-size="9" dy="-4.5">22</tspan><tspan dy="4.5">cm</tspan><tspan font-size="9" dy="-4.5">2</tspan><tspan dy="4.5">)</tspan></text>
<text transform="translate(486.6,120.4) scale(1.16,1)" font-size="9.6" textLength="32" lengthAdjust="spacing" fill="#2a2a2a">EIT CH</text>
<text transform="translate(486.6,132.5) scale(1.16,1)" font-size="9.6" textLength="60" lengthAdjust="spacing" fill="#2a2a2a">AIA/EUVI CH</text>
</g>
<path d="M464.7 117.5H477.8" stroke="#ff0000" stroke-width="1.1"/>
<path d="M464.7 129.5H477.8" stroke="#0000ff" stroke-width="1.1"/>
</svg>
</body></html>
